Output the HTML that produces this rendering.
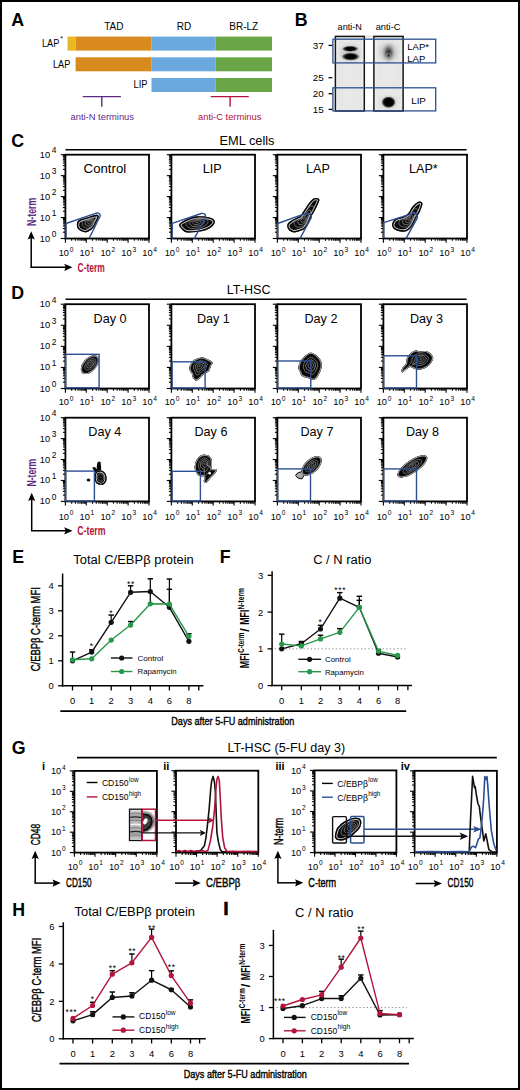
<!DOCTYPE html>
<html><head><meta charset="utf-8"><style>html,body{margin:0;padding:0;background:#fff;width:520px;height:1090px;overflow:hidden}
svg text{font-family:"Liberation Sans", sans-serif}</style></head><body>
<svg width="520" height="1090" viewBox="0 0 520 1090" style="position:absolute;left:0;top:0;font-family:'Liberation Sans', sans-serif">
<rect x="0" y="0" width="520" height="1090" fill="#fff"/>
<text x="11.2" y="25.8" font-size="17.8" text-anchor="start" fill="#000" font-weight="bold" >A</text>
<text x="113.8" y="30" font-size="10" text-anchor="middle" fill="#000" font-weight="normal" >TAD</text>
<text x="183.9" y="29.6" font-size="10" text-anchor="middle" fill="#000" font-weight="normal" >RD</text>
<text x="243.7" y="29.6" font-size="10" text-anchor="middle" fill="#000" font-weight="normal" >BR-LZ</text>
<rect x="67.50" y="36.60" width="8.30" height="14.00" fill="#e8b722" stroke="none" stroke-width="1" />
<rect x="75.80" y="36.60" width="75.50" height="14.00" fill="#d98a1f" stroke="none" stroke-width="1" />
<rect x="151.30" y="36.60" width="64.40" height="14.00" fill="#6aa8dd" stroke="none" stroke-width="1" />
<rect x="215.70" y="36.60" width="56.30" height="14.00" fill="#69a545" stroke="none" stroke-width="1" />
<rect x="75.60" y="57.30" width="75.70" height="14.00" fill="#d98a1f" stroke="none" stroke-width="1" />
<rect x="151.30" y="57.30" width="64.40" height="14.00" fill="#6aa8dd" stroke="none" stroke-width="1" />
<rect x="215.70" y="57.30" width="56.30" height="14.00" fill="#69a545" stroke="none" stroke-width="1" />
<rect x="151.50" y="78.00" width="64.20" height="14.00" fill="#6aa8dd" stroke="none" stroke-width="1" />
<rect x="215.70" y="78.00" width="56.30" height="14.00" fill="#69a545" stroke="none" stroke-width="1" />
<text x="42" y="46.8" font-size="10" text-anchor="start" fill="#000" font-weight="normal" textLength="17.3" lengthAdjust="spacingAndGlyphs" >LAP</text>
<text x="60.3" y="40.5" font-size="7" text-anchor="start" fill="#000" font-weight="normal" >*</text>
<text x="53" y="67.6" font-size="10" text-anchor="start" fill="#000" font-weight="normal" textLength="17.3" lengthAdjust="spacingAndGlyphs" >LAP</text>
<text x="133.6" y="87.8" font-size="10" text-anchor="start" fill="#000" font-weight="normal" textLength="14" lengthAdjust="spacingAndGlyphs" >LIP</text>
<line x1="82.80" y1="96.60" x2="120.90" y2="96.60" stroke="#5e2a84" stroke-width="1.4" />
<line x1="101.80" y1="96.60" x2="101.80" y2="106.70" stroke="#5e2a84" stroke-width="1.4" />
<text x="70.5" y="120" font-size="9.5" text-anchor="start" fill="#5e2a84" font-weight="normal" textLength="63.5" lengthAdjust="spacingAndGlyphs" >anti-N terminus</text>
<line x1="210.70" y1="96.60" x2="248.80" y2="96.60" stroke="#b3143c" stroke-width="1.4" />
<line x1="230.10" y1="96.60" x2="230.10" y2="106.70" stroke="#b3143c" stroke-width="1.4" />
<text x="198" y="120.4" font-size="9.5" text-anchor="start" fill="#b3143c" font-weight="normal" textLength="63.4" lengthAdjust="spacingAndGlyphs" >anti-C terminus</text>
<text x="294.7" y="26.2" font-size="17.8" text-anchor="start" fill="#000" font-weight="bold" >B</text>
<text x="337.6" y="30.3" font-size="9.2" text-anchor="start" fill="#000" font-weight="normal" textLength="24.3" lengthAdjust="spacingAndGlyphs" >anti-N</text>
<text x="375.7" y="30.3" font-size="9.2" text-anchor="start" fill="#000" font-weight="normal" textLength="24.8" lengthAdjust="spacingAndGlyphs" >anti-C</text>
<defs><linearGradient id="lane" x1="0" y1="0" x2="1" y2="0"><stop offset="0" stop-color="#f2f2f2"/><stop offset="0.12" stop-color="#e6e6e6"/><stop offset="0.5" stop-color="#e9e9e9"/><stop offset="0.88" stop-color="#e6e6e6"/><stop offset="1" stop-color="#f2f2f2"/></linearGradient><radialGradient id="band"><stop offset="0" stop-color="#000"/><stop offset="0.55" stop-color="#050505"/><stop offset="0.8" stop-color="#555" stop-opacity="0.7"/><stop offset="1" stop-color="#bbb" stop-opacity="0"/></radialGradient><radialGradient id="smear"><stop offset="0" stop-color="#1a1a1a"/><stop offset="0.35" stop-color="#555" stop-opacity="0.9"/><stop offset="0.7" stop-color="#999" stop-opacity="0.5"/><stop offset="1" stop-color="#ccc" stop-opacity="0"/></radialGradient></defs>
<rect x="364.60" y="35.40" width="9.30" height="2.20" fill="#e8e4d8" stroke="none" stroke-width="1" />
<rect x="335.40" y="36.40" width="28.90" height="74.60" fill="url(#lane)" stroke="#151515" stroke-width="1.5" />
<rect x="373.90" y="36.40" width="29.20" height="74.60" fill="url(#lane)" stroke="#151515" stroke-width="1.5" />
<defs><radialGradient id="halo"><stop offset="0" stop-color="#888" stop-opacity="0.55"/><stop offset="0.6" stop-color="#aaa" stop-opacity="0.35"/><stop offset="1" stop-color="#ccc" stop-opacity="0"/></radialGradient><radialGradient id="band2"><stop offset="0" stop-color="#000"/><stop offset="0.65" stop-color="#050505"/><stop offset="0.85" stop-color="#444" stop-opacity="0.8"/><stop offset="1" stop-color="#aaa" stop-opacity="0"/></radialGradient></defs>
<ellipse cx="350.2" cy="53" rx="13.5" ry="12" fill="url(#halo)"/>
<ellipse cx="350.2" cy="48.8" rx="8.8" ry="3.2" fill="url(#band)"/>
<ellipse cx="350.6" cy="56.6" rx="9.8" ry="4.3" fill="url(#band)"/>
<ellipse cx="388.6" cy="52" rx="13" ry="13" fill="url(#halo)"/>
<ellipse cx="388.6" cy="52.5" rx="7.5" ry="10.5" fill="url(#smear)"/>
<ellipse cx="388.6" cy="55.5" rx="3" ry="3.5" fill="url(#smear)"/>
<ellipse cx="388.6" cy="102.2" rx="11" ry="9" fill="url(#halo)"/>
<ellipse cx="388.6" cy="102.2" rx="7.2" ry="6.0" fill="url(#band2)"/>
<rect x="332.90" y="39.20" width="102.80" height="23.70" fill="none" stroke="#2c4f93" stroke-width="1.3" />
<rect x="332.90" y="87.80" width="102.80" height="23.10" fill="none" stroke="#2c4f93" stroke-width="1.3" />
<text x="323.6" y="48.9" font-size="9.8" text-anchor="end" fill="#000" font-weight="normal" >37</text>
<line x1="328.60" y1="45.40" x2="332.30" y2="45.40" stroke="#000" stroke-width="1.3" />
<text x="323.6" y="81.2" font-size="9.8" text-anchor="end" fill="#000" font-weight="normal" >25</text>
<line x1="328.60" y1="77.70" x2="332.30" y2="77.70" stroke="#000" stroke-width="1.3" />
<text x="323.6" y="97.2" font-size="9.8" text-anchor="end" fill="#000" font-weight="normal" >20</text>
<line x1="328.60" y1="93.70" x2="332.30" y2="93.70" stroke="#000" stroke-width="1.3" />
<text x="323.6" y="112.9" font-size="9.8" text-anchor="end" fill="#000" font-weight="normal" >15</text>
<line x1="328.60" y1="109.40" x2="332.30" y2="109.40" stroke="#000" stroke-width="1.3" />
<text x="407.3" y="49.6" font-size="9.5" text-anchor="start" fill="#000" font-weight="normal" >LAP*</text>
<text x="407.3" y="61.5" font-size="9.5" text-anchor="start" fill="#000" font-weight="normal" >LAP</text>
<text x="411.2" y="103.5" font-size="9.8" text-anchor="start" fill="#000" font-weight="normal" >LIP</text>
<text x="11.2" y="146.5" font-size="17.8" text-anchor="start" fill="#000" font-weight="bold" >C</text>
<text x="219.5" y="145" font-size="12.3" text-anchor="start" fill="#000" font-weight="normal" textLength="55" lengthAdjust="spacingAndGlyphs" >EML cells</text>
<line x1="65.50" y1="149.70" x2="466.60" y2="149.70" stroke="#000" stroke-width="1.6" />
<line x1="65.40" y1="238.50" x2="65.40" y2="242.70" stroke="#000" stroke-width="1.1" />
<line x1="71.69" y1="238.50" x2="71.69" y2="240.80" stroke="#000" stroke-width="1.1" />
<line x1="75.37" y1="238.50" x2="75.37" y2="240.80" stroke="#000" stroke-width="1.1" />
<line x1="77.98" y1="238.50" x2="77.98" y2="240.80" stroke="#000" stroke-width="1.1" />
<line x1="80.01" y1="238.50" x2="80.01" y2="240.80" stroke="#000" stroke-width="1.1" />
<line x1="81.66" y1="238.50" x2="81.66" y2="240.80" stroke="#000" stroke-width="1.1" />
<line x1="83.06" y1="238.50" x2="83.06" y2="240.80" stroke="#000" stroke-width="1.1" />
<line x1="84.27" y1="238.50" x2="84.27" y2="240.80" stroke="#000" stroke-width="1.1" />
<line x1="85.34" y1="238.50" x2="85.34" y2="240.80" stroke="#000" stroke-width="1.1" />
<line x1="86.30" y1="238.50" x2="86.30" y2="242.70" stroke="#000" stroke-width="1.1" />
<line x1="92.59" y1="238.50" x2="92.59" y2="240.80" stroke="#000" stroke-width="1.1" />
<line x1="96.27" y1="238.50" x2="96.27" y2="240.80" stroke="#000" stroke-width="1.1" />
<line x1="98.88" y1="238.50" x2="98.88" y2="240.80" stroke="#000" stroke-width="1.1" />
<line x1="100.91" y1="238.50" x2="100.91" y2="240.80" stroke="#000" stroke-width="1.1" />
<line x1="102.56" y1="238.50" x2="102.56" y2="240.80" stroke="#000" stroke-width="1.1" />
<line x1="103.96" y1="238.50" x2="103.96" y2="240.80" stroke="#000" stroke-width="1.1" />
<line x1="105.17" y1="238.50" x2="105.17" y2="240.80" stroke="#000" stroke-width="1.1" />
<line x1="106.24" y1="238.50" x2="106.24" y2="240.80" stroke="#000" stroke-width="1.1" />
<line x1="107.20" y1="238.50" x2="107.20" y2="242.70" stroke="#000" stroke-width="1.1" />
<line x1="113.49" y1="238.50" x2="113.49" y2="240.80" stroke="#000" stroke-width="1.1" />
<line x1="117.17" y1="238.50" x2="117.17" y2="240.80" stroke="#000" stroke-width="1.1" />
<line x1="119.78" y1="238.50" x2="119.78" y2="240.80" stroke="#000" stroke-width="1.1" />
<line x1="121.81" y1="238.50" x2="121.81" y2="240.80" stroke="#000" stroke-width="1.1" />
<line x1="123.46" y1="238.50" x2="123.46" y2="240.80" stroke="#000" stroke-width="1.1" />
<line x1="124.86" y1="238.50" x2="124.86" y2="240.80" stroke="#000" stroke-width="1.1" />
<line x1="126.07" y1="238.50" x2="126.07" y2="240.80" stroke="#000" stroke-width="1.1" />
<line x1="127.14" y1="238.50" x2="127.14" y2="240.80" stroke="#000" stroke-width="1.1" />
<line x1="128.10" y1="238.50" x2="128.10" y2="242.70" stroke="#000" stroke-width="1.1" />
<line x1="134.39" y1="238.50" x2="134.39" y2="240.80" stroke="#000" stroke-width="1.1" />
<line x1="138.07" y1="238.50" x2="138.07" y2="240.80" stroke="#000" stroke-width="1.1" />
<line x1="140.68" y1="238.50" x2="140.68" y2="240.80" stroke="#000" stroke-width="1.1" />
<line x1="142.71" y1="238.50" x2="142.71" y2="240.80" stroke="#000" stroke-width="1.1" />
<line x1="144.36" y1="238.50" x2="144.36" y2="240.80" stroke="#000" stroke-width="1.1" />
<line x1="145.76" y1="238.50" x2="145.76" y2="240.80" stroke="#000" stroke-width="1.1" />
<line x1="146.97" y1="238.50" x2="146.97" y2="240.80" stroke="#000" stroke-width="1.1" />
<line x1="148.04" y1="238.50" x2="148.04" y2="240.80" stroke="#000" stroke-width="1.1" />
<line x1="149.00" y1="238.50" x2="149.00" y2="242.70" stroke="#000" stroke-width="1.1" />
<text x="58.64" y="256.30" font-size="9.3" fill="#000">10<tspan dx="0.7" dy="-4.6" font-size="6.6">0</tspan></text>
<text x="79.54" y="256.30" font-size="9.3" fill="#000">10<tspan dx="0.7" dy="-4.6" font-size="6.6">1</tspan></text>
<text x="100.44" y="256.30" font-size="9.3" fill="#000">10<tspan dx="0.7" dy="-4.6" font-size="6.6">2</tspan></text>
<text x="121.34" y="256.30" font-size="9.3" fill="#000">10<tspan dx="0.7" dy="-4.6" font-size="6.6">3</tspan></text>
<text x="142.24" y="256.30" font-size="9.3" fill="#000">10<tspan dx="0.7" dy="-4.6" font-size="6.6">4</tspan></text>
<line x1="65.40" y1="238.50" x2="60.80" y2="238.50" stroke="#000" stroke-width="1.1" />
<line x1="65.40" y1="232.19" x2="62.90" y2="232.19" stroke="#000" stroke-width="1.1" />
<line x1="65.40" y1="228.50" x2="62.90" y2="228.50" stroke="#000" stroke-width="1.1" />
<line x1="65.40" y1="225.89" x2="62.90" y2="225.89" stroke="#000" stroke-width="1.1" />
<line x1="65.40" y1="223.86" x2="62.90" y2="223.86" stroke="#000" stroke-width="1.1" />
<line x1="65.40" y1="222.20" x2="62.90" y2="222.20" stroke="#000" stroke-width="1.1" />
<line x1="65.40" y1="220.80" x2="62.90" y2="220.80" stroke="#000" stroke-width="1.1" />
<line x1="65.40" y1="219.58" x2="62.90" y2="219.58" stroke="#000" stroke-width="1.1" />
<line x1="65.40" y1="218.51" x2="62.90" y2="218.51" stroke="#000" stroke-width="1.1" />
<line x1="65.40" y1="217.55" x2="60.80" y2="217.55" stroke="#000" stroke-width="1.1" />
<line x1="65.40" y1="211.24" x2="62.90" y2="211.24" stroke="#000" stroke-width="1.1" />
<line x1="65.40" y1="207.55" x2="62.90" y2="207.55" stroke="#000" stroke-width="1.1" />
<line x1="65.40" y1="204.94" x2="62.90" y2="204.94" stroke="#000" stroke-width="1.1" />
<line x1="65.40" y1="202.91" x2="62.90" y2="202.91" stroke="#000" stroke-width="1.1" />
<line x1="65.40" y1="201.25" x2="62.90" y2="201.25" stroke="#000" stroke-width="1.1" />
<line x1="65.40" y1="199.85" x2="62.90" y2="199.85" stroke="#000" stroke-width="1.1" />
<line x1="65.40" y1="198.63" x2="62.90" y2="198.63" stroke="#000" stroke-width="1.1" />
<line x1="65.40" y1="197.56" x2="62.90" y2="197.56" stroke="#000" stroke-width="1.1" />
<line x1="65.40" y1="196.60" x2="60.80" y2="196.60" stroke="#000" stroke-width="1.1" />
<line x1="65.40" y1="190.29" x2="62.90" y2="190.29" stroke="#000" stroke-width="1.1" />
<line x1="65.40" y1="186.60" x2="62.90" y2="186.60" stroke="#000" stroke-width="1.1" />
<line x1="65.40" y1="183.99" x2="62.90" y2="183.99" stroke="#000" stroke-width="1.1" />
<line x1="65.40" y1="181.96" x2="62.90" y2="181.96" stroke="#000" stroke-width="1.1" />
<line x1="65.40" y1="180.30" x2="62.90" y2="180.30" stroke="#000" stroke-width="1.1" />
<line x1="65.40" y1="178.90" x2="62.90" y2="178.90" stroke="#000" stroke-width="1.1" />
<line x1="65.40" y1="177.68" x2="62.90" y2="177.68" stroke="#000" stroke-width="1.1" />
<line x1="65.40" y1="176.61" x2="62.90" y2="176.61" stroke="#000" stroke-width="1.1" />
<line x1="65.40" y1="175.65" x2="60.80" y2="175.65" stroke="#000" stroke-width="1.1" />
<line x1="65.40" y1="169.34" x2="62.90" y2="169.34" stroke="#000" stroke-width="1.1" />
<line x1="65.40" y1="165.65" x2="62.90" y2="165.65" stroke="#000" stroke-width="1.1" />
<line x1="65.40" y1="163.04" x2="62.90" y2="163.04" stroke="#000" stroke-width="1.1" />
<line x1="65.40" y1="161.01" x2="62.90" y2="161.01" stroke="#000" stroke-width="1.1" />
<line x1="65.40" y1="159.35" x2="62.90" y2="159.35" stroke="#000" stroke-width="1.1" />
<line x1="65.40" y1="157.95" x2="62.90" y2="157.95" stroke="#000" stroke-width="1.1" />
<line x1="65.40" y1="156.73" x2="62.90" y2="156.73" stroke="#000" stroke-width="1.1" />
<line x1="65.40" y1="155.66" x2="62.90" y2="155.66" stroke="#000" stroke-width="1.1" />
<line x1="65.40" y1="154.70" x2="60.80" y2="154.70" stroke="#000" stroke-width="1.1" />
<text x="39.79" y="241.50" font-size="9.3" fill="#000">10<tspan dx="1.5" dy="-4.4" font-size="8.4">0</tspan></text>
<text x="39.79" y="220.55" font-size="9.3" fill="#000">10<tspan dx="1.5" dy="-4.4" font-size="8.4">1</tspan></text>
<text x="39.79" y="199.60" font-size="9.3" fill="#000">10<tspan dx="1.5" dy="-4.4" font-size="8.4">2</tspan></text>
<text x="39.79" y="178.65" font-size="9.3" fill="#000">10<tspan dx="1.5" dy="-4.4" font-size="8.4">3</tspan></text>
<text x="39.79" y="157.70" font-size="9.3" fill="#000">10<tspan dx="1.5" dy="-4.4" font-size="8.4">4</tspan></text>
<rect x="65.40" y="154.70" width="83.60" height="83.80" fill="none" stroke="#000" stroke-width="1.8" />
<text x="83.6" y="172.7" font-size="12.6" text-anchor="start" fill="#000" font-weight="normal" textLength="42.6" lengthAdjust="spacingAndGlyphs" >Control</text>
<line x1="171.40" y1="238.50" x2="171.40" y2="242.70" stroke="#000" stroke-width="1.1" />
<line x1="177.69" y1="238.50" x2="177.69" y2="240.80" stroke="#000" stroke-width="1.1" />
<line x1="181.37" y1="238.50" x2="181.37" y2="240.80" stroke="#000" stroke-width="1.1" />
<line x1="183.98" y1="238.50" x2="183.98" y2="240.80" stroke="#000" stroke-width="1.1" />
<line x1="186.01" y1="238.50" x2="186.01" y2="240.80" stroke="#000" stroke-width="1.1" />
<line x1="187.66" y1="238.50" x2="187.66" y2="240.80" stroke="#000" stroke-width="1.1" />
<line x1="189.06" y1="238.50" x2="189.06" y2="240.80" stroke="#000" stroke-width="1.1" />
<line x1="190.27" y1="238.50" x2="190.27" y2="240.80" stroke="#000" stroke-width="1.1" />
<line x1="191.34" y1="238.50" x2="191.34" y2="240.80" stroke="#000" stroke-width="1.1" />
<line x1="192.30" y1="238.50" x2="192.30" y2="242.70" stroke="#000" stroke-width="1.1" />
<line x1="198.59" y1="238.50" x2="198.59" y2="240.80" stroke="#000" stroke-width="1.1" />
<line x1="202.27" y1="238.50" x2="202.27" y2="240.80" stroke="#000" stroke-width="1.1" />
<line x1="204.88" y1="238.50" x2="204.88" y2="240.80" stroke="#000" stroke-width="1.1" />
<line x1="206.91" y1="238.50" x2="206.91" y2="240.80" stroke="#000" stroke-width="1.1" />
<line x1="208.56" y1="238.50" x2="208.56" y2="240.80" stroke="#000" stroke-width="1.1" />
<line x1="209.96" y1="238.50" x2="209.96" y2="240.80" stroke="#000" stroke-width="1.1" />
<line x1="211.17" y1="238.50" x2="211.17" y2="240.80" stroke="#000" stroke-width="1.1" />
<line x1="212.24" y1="238.50" x2="212.24" y2="240.80" stroke="#000" stroke-width="1.1" />
<line x1="213.20" y1="238.50" x2="213.20" y2="242.70" stroke="#000" stroke-width="1.1" />
<line x1="219.49" y1="238.50" x2="219.49" y2="240.80" stroke="#000" stroke-width="1.1" />
<line x1="223.17" y1="238.50" x2="223.17" y2="240.80" stroke="#000" stroke-width="1.1" />
<line x1="225.78" y1="238.50" x2="225.78" y2="240.80" stroke="#000" stroke-width="1.1" />
<line x1="227.81" y1="238.50" x2="227.81" y2="240.80" stroke="#000" stroke-width="1.1" />
<line x1="229.46" y1="238.50" x2="229.46" y2="240.80" stroke="#000" stroke-width="1.1" />
<line x1="230.86" y1="238.50" x2="230.86" y2="240.80" stroke="#000" stroke-width="1.1" />
<line x1="232.07" y1="238.50" x2="232.07" y2="240.80" stroke="#000" stroke-width="1.1" />
<line x1="233.14" y1="238.50" x2="233.14" y2="240.80" stroke="#000" stroke-width="1.1" />
<line x1="234.10" y1="238.50" x2="234.10" y2="242.70" stroke="#000" stroke-width="1.1" />
<line x1="240.39" y1="238.50" x2="240.39" y2="240.80" stroke="#000" stroke-width="1.1" />
<line x1="244.07" y1="238.50" x2="244.07" y2="240.80" stroke="#000" stroke-width="1.1" />
<line x1="246.68" y1="238.50" x2="246.68" y2="240.80" stroke="#000" stroke-width="1.1" />
<line x1="248.71" y1="238.50" x2="248.71" y2="240.80" stroke="#000" stroke-width="1.1" />
<line x1="250.36" y1="238.50" x2="250.36" y2="240.80" stroke="#000" stroke-width="1.1" />
<line x1="251.76" y1="238.50" x2="251.76" y2="240.80" stroke="#000" stroke-width="1.1" />
<line x1="252.97" y1="238.50" x2="252.97" y2="240.80" stroke="#000" stroke-width="1.1" />
<line x1="254.04" y1="238.50" x2="254.04" y2="240.80" stroke="#000" stroke-width="1.1" />
<line x1="255.00" y1="238.50" x2="255.00" y2="242.70" stroke="#000" stroke-width="1.1" />
<text x="164.64" y="256.30" font-size="9.3" fill="#000">10<tspan dx="0.7" dy="-4.6" font-size="6.6">0</tspan></text>
<text x="185.54" y="256.30" font-size="9.3" fill="#000">10<tspan dx="0.7" dy="-4.6" font-size="6.6">1</tspan></text>
<text x="206.44" y="256.30" font-size="9.3" fill="#000">10<tspan dx="0.7" dy="-4.6" font-size="6.6">2</tspan></text>
<text x="227.34" y="256.30" font-size="9.3" fill="#000">10<tspan dx="0.7" dy="-4.6" font-size="6.6">3</tspan></text>
<text x="248.24" y="256.30" font-size="9.3" fill="#000">10<tspan dx="0.7" dy="-4.6" font-size="6.6">4</tspan></text>
<line x1="171.40" y1="238.50" x2="166.80" y2="238.50" stroke="#000" stroke-width="1.1" />
<line x1="171.40" y1="232.19" x2="168.90" y2="232.19" stroke="#000" stroke-width="1.1" />
<line x1="171.40" y1="228.50" x2="168.90" y2="228.50" stroke="#000" stroke-width="1.1" />
<line x1="171.40" y1="225.89" x2="168.90" y2="225.89" stroke="#000" stroke-width="1.1" />
<line x1="171.40" y1="223.86" x2="168.90" y2="223.86" stroke="#000" stroke-width="1.1" />
<line x1="171.40" y1="222.20" x2="168.90" y2="222.20" stroke="#000" stroke-width="1.1" />
<line x1="171.40" y1="220.80" x2="168.90" y2="220.80" stroke="#000" stroke-width="1.1" />
<line x1="171.40" y1="219.58" x2="168.90" y2="219.58" stroke="#000" stroke-width="1.1" />
<line x1="171.40" y1="218.51" x2="168.90" y2="218.51" stroke="#000" stroke-width="1.1" />
<line x1="171.40" y1="217.55" x2="166.80" y2="217.55" stroke="#000" stroke-width="1.1" />
<line x1="171.40" y1="211.24" x2="168.90" y2="211.24" stroke="#000" stroke-width="1.1" />
<line x1="171.40" y1="207.55" x2="168.90" y2="207.55" stroke="#000" stroke-width="1.1" />
<line x1="171.40" y1="204.94" x2="168.90" y2="204.94" stroke="#000" stroke-width="1.1" />
<line x1="171.40" y1="202.91" x2="168.90" y2="202.91" stroke="#000" stroke-width="1.1" />
<line x1="171.40" y1="201.25" x2="168.90" y2="201.25" stroke="#000" stroke-width="1.1" />
<line x1="171.40" y1="199.85" x2="168.90" y2="199.85" stroke="#000" stroke-width="1.1" />
<line x1="171.40" y1="198.63" x2="168.90" y2="198.63" stroke="#000" stroke-width="1.1" />
<line x1="171.40" y1="197.56" x2="168.90" y2="197.56" stroke="#000" stroke-width="1.1" />
<line x1="171.40" y1="196.60" x2="166.80" y2="196.60" stroke="#000" stroke-width="1.1" />
<line x1="171.40" y1="190.29" x2="168.90" y2="190.29" stroke="#000" stroke-width="1.1" />
<line x1="171.40" y1="186.60" x2="168.90" y2="186.60" stroke="#000" stroke-width="1.1" />
<line x1="171.40" y1="183.99" x2="168.90" y2="183.99" stroke="#000" stroke-width="1.1" />
<line x1="171.40" y1="181.96" x2="168.90" y2="181.96" stroke="#000" stroke-width="1.1" />
<line x1="171.40" y1="180.30" x2="168.90" y2="180.30" stroke="#000" stroke-width="1.1" />
<line x1="171.40" y1="178.90" x2="168.90" y2="178.90" stroke="#000" stroke-width="1.1" />
<line x1="171.40" y1="177.68" x2="168.90" y2="177.68" stroke="#000" stroke-width="1.1" />
<line x1="171.40" y1="176.61" x2="168.90" y2="176.61" stroke="#000" stroke-width="1.1" />
<line x1="171.40" y1="175.65" x2="166.80" y2="175.65" stroke="#000" stroke-width="1.1" />
<line x1="171.40" y1="169.34" x2="168.90" y2="169.34" stroke="#000" stroke-width="1.1" />
<line x1="171.40" y1="165.65" x2="168.90" y2="165.65" stroke="#000" stroke-width="1.1" />
<line x1="171.40" y1="163.04" x2="168.90" y2="163.04" stroke="#000" stroke-width="1.1" />
<line x1="171.40" y1="161.01" x2="168.90" y2="161.01" stroke="#000" stroke-width="1.1" />
<line x1="171.40" y1="159.35" x2="168.90" y2="159.35" stroke="#000" stroke-width="1.1" />
<line x1="171.40" y1="157.95" x2="168.90" y2="157.95" stroke="#000" stroke-width="1.1" />
<line x1="171.40" y1="156.73" x2="168.90" y2="156.73" stroke="#000" stroke-width="1.1" />
<line x1="171.40" y1="155.66" x2="168.90" y2="155.66" stroke="#000" stroke-width="1.1" />
<line x1="171.40" y1="154.70" x2="166.80" y2="154.70" stroke="#000" stroke-width="1.1" />
<rect x="171.40" y="154.70" width="83.60" height="83.80" fill="none" stroke="#000" stroke-width="1.8" />
<text x="202.8" y="172.7" font-size="12.6" text-anchor="start" fill="#000" font-weight="normal" >LIP</text>
<line x1="277.40" y1="238.50" x2="277.40" y2="242.70" stroke="#000" stroke-width="1.1" />
<line x1="283.69" y1="238.50" x2="283.69" y2="240.80" stroke="#000" stroke-width="1.1" />
<line x1="287.37" y1="238.50" x2="287.37" y2="240.80" stroke="#000" stroke-width="1.1" />
<line x1="289.98" y1="238.50" x2="289.98" y2="240.80" stroke="#000" stroke-width="1.1" />
<line x1="292.01" y1="238.50" x2="292.01" y2="240.80" stroke="#000" stroke-width="1.1" />
<line x1="293.66" y1="238.50" x2="293.66" y2="240.80" stroke="#000" stroke-width="1.1" />
<line x1="295.06" y1="238.50" x2="295.06" y2="240.80" stroke="#000" stroke-width="1.1" />
<line x1="296.27" y1="238.50" x2="296.27" y2="240.80" stroke="#000" stroke-width="1.1" />
<line x1="297.34" y1="238.50" x2="297.34" y2="240.80" stroke="#000" stroke-width="1.1" />
<line x1="298.30" y1="238.50" x2="298.30" y2="242.70" stroke="#000" stroke-width="1.1" />
<line x1="304.59" y1="238.50" x2="304.59" y2="240.80" stroke="#000" stroke-width="1.1" />
<line x1="308.27" y1="238.50" x2="308.27" y2="240.80" stroke="#000" stroke-width="1.1" />
<line x1="310.88" y1="238.50" x2="310.88" y2="240.80" stroke="#000" stroke-width="1.1" />
<line x1="312.91" y1="238.50" x2="312.91" y2="240.80" stroke="#000" stroke-width="1.1" />
<line x1="314.56" y1="238.50" x2="314.56" y2="240.80" stroke="#000" stroke-width="1.1" />
<line x1="315.96" y1="238.50" x2="315.96" y2="240.80" stroke="#000" stroke-width="1.1" />
<line x1="317.17" y1="238.50" x2="317.17" y2="240.80" stroke="#000" stroke-width="1.1" />
<line x1="318.24" y1="238.50" x2="318.24" y2="240.80" stroke="#000" stroke-width="1.1" />
<line x1="319.20" y1="238.50" x2="319.20" y2="242.70" stroke="#000" stroke-width="1.1" />
<line x1="325.49" y1="238.50" x2="325.49" y2="240.80" stroke="#000" stroke-width="1.1" />
<line x1="329.17" y1="238.50" x2="329.17" y2="240.80" stroke="#000" stroke-width="1.1" />
<line x1="331.78" y1="238.50" x2="331.78" y2="240.80" stroke="#000" stroke-width="1.1" />
<line x1="333.81" y1="238.50" x2="333.81" y2="240.80" stroke="#000" stroke-width="1.1" />
<line x1="335.46" y1="238.50" x2="335.46" y2="240.80" stroke="#000" stroke-width="1.1" />
<line x1="336.86" y1="238.50" x2="336.86" y2="240.80" stroke="#000" stroke-width="1.1" />
<line x1="338.07" y1="238.50" x2="338.07" y2="240.80" stroke="#000" stroke-width="1.1" />
<line x1="339.14" y1="238.50" x2="339.14" y2="240.80" stroke="#000" stroke-width="1.1" />
<line x1="340.10" y1="238.50" x2="340.10" y2="242.70" stroke="#000" stroke-width="1.1" />
<line x1="346.39" y1="238.50" x2="346.39" y2="240.80" stroke="#000" stroke-width="1.1" />
<line x1="350.07" y1="238.50" x2="350.07" y2="240.80" stroke="#000" stroke-width="1.1" />
<line x1="352.68" y1="238.50" x2="352.68" y2="240.80" stroke="#000" stroke-width="1.1" />
<line x1="354.71" y1="238.50" x2="354.71" y2="240.80" stroke="#000" stroke-width="1.1" />
<line x1="356.36" y1="238.50" x2="356.36" y2="240.80" stroke="#000" stroke-width="1.1" />
<line x1="357.76" y1="238.50" x2="357.76" y2="240.80" stroke="#000" stroke-width="1.1" />
<line x1="358.97" y1="238.50" x2="358.97" y2="240.80" stroke="#000" stroke-width="1.1" />
<line x1="360.04" y1="238.50" x2="360.04" y2="240.80" stroke="#000" stroke-width="1.1" />
<line x1="361.00" y1="238.50" x2="361.00" y2="242.70" stroke="#000" stroke-width="1.1" />
<text x="270.64" y="256.30" font-size="9.3" fill="#000">10<tspan dx="0.7" dy="-4.6" font-size="6.6">0</tspan></text>
<text x="291.54" y="256.30" font-size="9.3" fill="#000">10<tspan dx="0.7" dy="-4.6" font-size="6.6">1</tspan></text>
<text x="312.44" y="256.30" font-size="9.3" fill="#000">10<tspan dx="0.7" dy="-4.6" font-size="6.6">2</tspan></text>
<text x="333.34" y="256.30" font-size="9.3" fill="#000">10<tspan dx="0.7" dy="-4.6" font-size="6.6">3</tspan></text>
<text x="354.24" y="256.30" font-size="9.3" fill="#000">10<tspan dx="0.7" dy="-4.6" font-size="6.6">4</tspan></text>
<line x1="277.40" y1="238.50" x2="272.80" y2="238.50" stroke="#000" stroke-width="1.1" />
<line x1="277.40" y1="232.19" x2="274.90" y2="232.19" stroke="#000" stroke-width="1.1" />
<line x1="277.40" y1="228.50" x2="274.90" y2="228.50" stroke="#000" stroke-width="1.1" />
<line x1="277.40" y1="225.89" x2="274.90" y2="225.89" stroke="#000" stroke-width="1.1" />
<line x1="277.40" y1="223.86" x2="274.90" y2="223.86" stroke="#000" stroke-width="1.1" />
<line x1="277.40" y1="222.20" x2="274.90" y2="222.20" stroke="#000" stroke-width="1.1" />
<line x1="277.40" y1="220.80" x2="274.90" y2="220.80" stroke="#000" stroke-width="1.1" />
<line x1="277.40" y1="219.58" x2="274.90" y2="219.58" stroke="#000" stroke-width="1.1" />
<line x1="277.40" y1="218.51" x2="274.90" y2="218.51" stroke="#000" stroke-width="1.1" />
<line x1="277.40" y1="217.55" x2="272.80" y2="217.55" stroke="#000" stroke-width="1.1" />
<line x1="277.40" y1="211.24" x2="274.90" y2="211.24" stroke="#000" stroke-width="1.1" />
<line x1="277.40" y1="207.55" x2="274.90" y2="207.55" stroke="#000" stroke-width="1.1" />
<line x1="277.40" y1="204.94" x2="274.90" y2="204.94" stroke="#000" stroke-width="1.1" />
<line x1="277.40" y1="202.91" x2="274.90" y2="202.91" stroke="#000" stroke-width="1.1" />
<line x1="277.40" y1="201.25" x2="274.90" y2="201.25" stroke="#000" stroke-width="1.1" />
<line x1="277.40" y1="199.85" x2="274.90" y2="199.85" stroke="#000" stroke-width="1.1" />
<line x1="277.40" y1="198.63" x2="274.90" y2="198.63" stroke="#000" stroke-width="1.1" />
<line x1="277.40" y1="197.56" x2="274.90" y2="197.56" stroke="#000" stroke-width="1.1" />
<line x1="277.40" y1="196.60" x2="272.80" y2="196.60" stroke="#000" stroke-width="1.1" />
<line x1="277.40" y1="190.29" x2="274.90" y2="190.29" stroke="#000" stroke-width="1.1" />
<line x1="277.40" y1="186.60" x2="274.90" y2="186.60" stroke="#000" stroke-width="1.1" />
<line x1="277.40" y1="183.99" x2="274.90" y2="183.99" stroke="#000" stroke-width="1.1" />
<line x1="277.40" y1="181.96" x2="274.90" y2="181.96" stroke="#000" stroke-width="1.1" />
<line x1="277.40" y1="180.30" x2="274.90" y2="180.30" stroke="#000" stroke-width="1.1" />
<line x1="277.40" y1="178.90" x2="274.90" y2="178.90" stroke="#000" stroke-width="1.1" />
<line x1="277.40" y1="177.68" x2="274.90" y2="177.68" stroke="#000" stroke-width="1.1" />
<line x1="277.40" y1="176.61" x2="274.90" y2="176.61" stroke="#000" stroke-width="1.1" />
<line x1="277.40" y1="175.65" x2="272.80" y2="175.65" stroke="#000" stroke-width="1.1" />
<line x1="277.40" y1="169.34" x2="274.90" y2="169.34" stroke="#000" stroke-width="1.1" />
<line x1="277.40" y1="165.65" x2="274.90" y2="165.65" stroke="#000" stroke-width="1.1" />
<line x1="277.40" y1="163.04" x2="274.90" y2="163.04" stroke="#000" stroke-width="1.1" />
<line x1="277.40" y1="161.01" x2="274.90" y2="161.01" stroke="#000" stroke-width="1.1" />
<line x1="277.40" y1="159.35" x2="274.90" y2="159.35" stroke="#000" stroke-width="1.1" />
<line x1="277.40" y1="157.95" x2="274.90" y2="157.95" stroke="#000" stroke-width="1.1" />
<line x1="277.40" y1="156.73" x2="274.90" y2="156.73" stroke="#000" stroke-width="1.1" />
<line x1="277.40" y1="155.66" x2="274.90" y2="155.66" stroke="#000" stroke-width="1.1" />
<line x1="277.40" y1="154.70" x2="272.80" y2="154.70" stroke="#000" stroke-width="1.1" />
<rect x="277.40" y="154.70" width="83.60" height="83.80" fill="none" stroke="#000" stroke-width="1.8" />
<text x="306.0" y="172.7" font-size="12.6" text-anchor="start" fill="#000" font-weight="normal" >LAP</text>
<line x1="383.40" y1="238.50" x2="383.40" y2="242.70" stroke="#000" stroke-width="1.1" />
<line x1="389.69" y1="238.50" x2="389.69" y2="240.80" stroke="#000" stroke-width="1.1" />
<line x1="393.37" y1="238.50" x2="393.37" y2="240.80" stroke="#000" stroke-width="1.1" />
<line x1="395.98" y1="238.50" x2="395.98" y2="240.80" stroke="#000" stroke-width="1.1" />
<line x1="398.01" y1="238.50" x2="398.01" y2="240.80" stroke="#000" stroke-width="1.1" />
<line x1="399.66" y1="238.50" x2="399.66" y2="240.80" stroke="#000" stroke-width="1.1" />
<line x1="401.06" y1="238.50" x2="401.06" y2="240.80" stroke="#000" stroke-width="1.1" />
<line x1="402.27" y1="238.50" x2="402.27" y2="240.80" stroke="#000" stroke-width="1.1" />
<line x1="403.34" y1="238.50" x2="403.34" y2="240.80" stroke="#000" stroke-width="1.1" />
<line x1="404.30" y1="238.50" x2="404.30" y2="242.70" stroke="#000" stroke-width="1.1" />
<line x1="410.59" y1="238.50" x2="410.59" y2="240.80" stroke="#000" stroke-width="1.1" />
<line x1="414.27" y1="238.50" x2="414.27" y2="240.80" stroke="#000" stroke-width="1.1" />
<line x1="416.88" y1="238.50" x2="416.88" y2="240.80" stroke="#000" stroke-width="1.1" />
<line x1="418.91" y1="238.50" x2="418.91" y2="240.80" stroke="#000" stroke-width="1.1" />
<line x1="420.56" y1="238.50" x2="420.56" y2="240.80" stroke="#000" stroke-width="1.1" />
<line x1="421.96" y1="238.50" x2="421.96" y2="240.80" stroke="#000" stroke-width="1.1" />
<line x1="423.17" y1="238.50" x2="423.17" y2="240.80" stroke="#000" stroke-width="1.1" />
<line x1="424.24" y1="238.50" x2="424.24" y2="240.80" stroke="#000" stroke-width="1.1" />
<line x1="425.20" y1="238.50" x2="425.20" y2="242.70" stroke="#000" stroke-width="1.1" />
<line x1="431.49" y1="238.50" x2="431.49" y2="240.80" stroke="#000" stroke-width="1.1" />
<line x1="435.17" y1="238.50" x2="435.17" y2="240.80" stroke="#000" stroke-width="1.1" />
<line x1="437.78" y1="238.50" x2="437.78" y2="240.80" stroke="#000" stroke-width="1.1" />
<line x1="439.81" y1="238.50" x2="439.81" y2="240.80" stroke="#000" stroke-width="1.1" />
<line x1="441.46" y1="238.50" x2="441.46" y2="240.80" stroke="#000" stroke-width="1.1" />
<line x1="442.86" y1="238.50" x2="442.86" y2="240.80" stroke="#000" stroke-width="1.1" />
<line x1="444.07" y1="238.50" x2="444.07" y2="240.80" stroke="#000" stroke-width="1.1" />
<line x1="445.14" y1="238.50" x2="445.14" y2="240.80" stroke="#000" stroke-width="1.1" />
<line x1="446.10" y1="238.50" x2="446.10" y2="242.70" stroke="#000" stroke-width="1.1" />
<line x1="452.39" y1="238.50" x2="452.39" y2="240.80" stroke="#000" stroke-width="1.1" />
<line x1="456.07" y1="238.50" x2="456.07" y2="240.80" stroke="#000" stroke-width="1.1" />
<line x1="458.68" y1="238.50" x2="458.68" y2="240.80" stroke="#000" stroke-width="1.1" />
<line x1="460.71" y1="238.50" x2="460.71" y2="240.80" stroke="#000" stroke-width="1.1" />
<line x1="462.36" y1="238.50" x2="462.36" y2="240.80" stroke="#000" stroke-width="1.1" />
<line x1="463.76" y1="238.50" x2="463.76" y2="240.80" stroke="#000" stroke-width="1.1" />
<line x1="464.97" y1="238.50" x2="464.97" y2="240.80" stroke="#000" stroke-width="1.1" />
<line x1="466.04" y1="238.50" x2="466.04" y2="240.80" stroke="#000" stroke-width="1.1" />
<line x1="467.00" y1="238.50" x2="467.00" y2="242.70" stroke="#000" stroke-width="1.1" />
<text x="376.64" y="256.30" font-size="9.3" fill="#000">10<tspan dx="0.7" dy="-4.6" font-size="6.6">0</tspan></text>
<text x="397.54" y="256.30" font-size="9.3" fill="#000">10<tspan dx="0.7" dy="-4.6" font-size="6.6">1</tspan></text>
<text x="418.44" y="256.30" font-size="9.3" fill="#000">10<tspan dx="0.7" dy="-4.6" font-size="6.6">2</tspan></text>
<text x="439.34" y="256.30" font-size="9.3" fill="#000">10<tspan dx="0.7" dy="-4.6" font-size="6.6">3</tspan></text>
<text x="460.24" y="256.30" font-size="9.3" fill="#000">10<tspan dx="0.7" dy="-4.6" font-size="6.6">4</tspan></text>
<line x1="383.40" y1="238.50" x2="378.80" y2="238.50" stroke="#000" stroke-width="1.1" />
<line x1="383.40" y1="232.19" x2="380.90" y2="232.19" stroke="#000" stroke-width="1.1" />
<line x1="383.40" y1="228.50" x2="380.90" y2="228.50" stroke="#000" stroke-width="1.1" />
<line x1="383.40" y1="225.89" x2="380.90" y2="225.89" stroke="#000" stroke-width="1.1" />
<line x1="383.40" y1="223.86" x2="380.90" y2="223.86" stroke="#000" stroke-width="1.1" />
<line x1="383.40" y1="222.20" x2="380.90" y2="222.20" stroke="#000" stroke-width="1.1" />
<line x1="383.40" y1="220.80" x2="380.90" y2="220.80" stroke="#000" stroke-width="1.1" />
<line x1="383.40" y1="219.58" x2="380.90" y2="219.58" stroke="#000" stroke-width="1.1" />
<line x1="383.40" y1="218.51" x2="380.90" y2="218.51" stroke="#000" stroke-width="1.1" />
<line x1="383.40" y1="217.55" x2="378.80" y2="217.55" stroke="#000" stroke-width="1.1" />
<line x1="383.40" y1="211.24" x2="380.90" y2="211.24" stroke="#000" stroke-width="1.1" />
<line x1="383.40" y1="207.55" x2="380.90" y2="207.55" stroke="#000" stroke-width="1.1" />
<line x1="383.40" y1="204.94" x2="380.90" y2="204.94" stroke="#000" stroke-width="1.1" />
<line x1="383.40" y1="202.91" x2="380.90" y2="202.91" stroke="#000" stroke-width="1.1" />
<line x1="383.40" y1="201.25" x2="380.90" y2="201.25" stroke="#000" stroke-width="1.1" />
<line x1="383.40" y1="199.85" x2="380.90" y2="199.85" stroke="#000" stroke-width="1.1" />
<line x1="383.40" y1="198.63" x2="380.90" y2="198.63" stroke="#000" stroke-width="1.1" />
<line x1="383.40" y1="197.56" x2="380.90" y2="197.56" stroke="#000" stroke-width="1.1" />
<line x1="383.40" y1="196.60" x2="378.80" y2="196.60" stroke="#000" stroke-width="1.1" />
<line x1="383.40" y1="190.29" x2="380.90" y2="190.29" stroke="#000" stroke-width="1.1" />
<line x1="383.40" y1="186.60" x2="380.90" y2="186.60" stroke="#000" stroke-width="1.1" />
<line x1="383.40" y1="183.99" x2="380.90" y2="183.99" stroke="#000" stroke-width="1.1" />
<line x1="383.40" y1="181.96" x2="380.90" y2="181.96" stroke="#000" stroke-width="1.1" />
<line x1="383.40" y1="180.30" x2="380.90" y2="180.30" stroke="#000" stroke-width="1.1" />
<line x1="383.40" y1="178.90" x2="380.90" y2="178.90" stroke="#000" stroke-width="1.1" />
<line x1="383.40" y1="177.68" x2="380.90" y2="177.68" stroke="#000" stroke-width="1.1" />
<line x1="383.40" y1="176.61" x2="380.90" y2="176.61" stroke="#000" stroke-width="1.1" />
<line x1="383.40" y1="175.65" x2="378.80" y2="175.65" stroke="#000" stroke-width="1.1" />
<line x1="383.40" y1="169.34" x2="380.90" y2="169.34" stroke="#000" stroke-width="1.1" />
<line x1="383.40" y1="165.65" x2="380.90" y2="165.65" stroke="#000" stroke-width="1.1" />
<line x1="383.40" y1="163.04" x2="380.90" y2="163.04" stroke="#000" stroke-width="1.1" />
<line x1="383.40" y1="161.01" x2="380.90" y2="161.01" stroke="#000" stroke-width="1.1" />
<line x1="383.40" y1="159.35" x2="380.90" y2="159.35" stroke="#000" stroke-width="1.1" />
<line x1="383.40" y1="157.95" x2="380.90" y2="157.95" stroke="#000" stroke-width="1.1" />
<line x1="383.40" y1="156.73" x2="380.90" y2="156.73" stroke="#000" stroke-width="1.1" />
<line x1="383.40" y1="155.66" x2="380.90" y2="155.66" stroke="#000" stroke-width="1.1" />
<line x1="383.40" y1="154.70" x2="378.80" y2="154.70" stroke="#000" stroke-width="1.1" />
<rect x="383.40" y="154.70" width="83.60" height="83.80" fill="none" stroke="#000" stroke-width="1.8" />
<text x="409.0" y="172.7" font-size="12.6" text-anchor="start" fill="#000" font-weight="normal" >LAP*</text>
<clipPath id="cp1"><path d="M76.90,225.00 C76.90,223.45 77.12,221.55 78.80,220.30 C80.48,219.05 84.05,218.42 87.00,217.50 C89.95,216.58 94.53,214.92 96.50,214.80 C98.47,214.68 98.72,215.77 98.80,216.80 C98.88,217.83 97.77,219.38 97.00,221.00 C96.23,222.62 95.37,224.92 94.20,226.50 C93.03,228.08 91.53,229.53 90.00,230.50 C88.47,231.47 86.87,232.45 85.00,232.30 C83.13,232.15 80.15,230.82 78.80,229.60 C77.45,228.38 76.90,226.55 76.90,225.00Z"/></clipPath>
<g clip-path="url(#cp1)">
<path d="M76.90,225.00 C76.90,223.45 77.12,221.55 78.80,220.30 C80.48,219.05 84.05,218.42 87.00,217.50 C89.95,216.58 94.53,214.92 96.50,214.80 C98.47,214.68 98.72,215.77 98.80,216.80 C98.88,217.83 97.77,219.38 97.00,221.00 C96.23,222.62 95.37,224.92 94.20,226.50 C93.03,228.08 91.53,229.53 90.00,230.50 C88.47,231.47 86.87,232.45 85.00,232.30 C83.13,232.15 80.15,230.82 78.80,229.60 C77.45,228.38 76.90,226.55 76.90,225.00Z" fill="#0d0d0d"/>
<path d="M76.90,225.00 C76.90,223.45 77.12,221.55 78.80,220.30 C80.48,219.05 84.05,218.42 87.00,217.50 C89.95,216.58 94.53,214.92 96.50,214.80 C98.47,214.68 98.72,215.77 98.80,216.80 C98.88,217.83 97.77,219.38 97.00,221.00 C96.23,222.62 95.37,224.92 94.20,226.50 C93.03,228.08 91.53,229.53 90.00,230.50 C88.47,231.47 86.87,232.45 85.00,232.30 C83.13,232.15 80.15,230.82 78.80,229.60 C77.45,228.38 76.90,226.55 76.90,225.00Z" fill="none" stroke="#050505" stroke-width="7.0" stroke-linejoin="round"/>
<path d="M76.90,225.00 C76.90,223.45 77.12,221.55 78.80,220.30 C80.48,219.05 84.05,218.42 87.00,217.50 C89.95,216.58 94.53,214.92 96.50,214.80 C98.47,214.68 98.72,215.77 98.80,216.80 C98.88,217.83 97.77,219.38 97.00,221.00 C96.23,222.62 95.37,224.92 94.20,226.50 C93.03,228.08 91.53,229.53 90.00,230.50 C88.47,231.47 86.87,232.45 85.00,232.30 C83.13,232.15 80.15,230.82 78.80,229.60 C77.45,228.38 76.90,226.55 76.90,225.00Z" fill="none" stroke="#d0d0d0" stroke-width="4.6" stroke-linejoin="round"/>
<path d="M76.90,225.00 C76.90,223.45 77.12,221.55 78.80,220.30 C80.48,219.05 84.05,218.42 87.00,217.50 C89.95,216.58 94.53,214.92 96.50,214.80 C98.47,214.68 98.72,215.77 98.80,216.80 C98.88,217.83 97.77,219.38 97.00,221.00 C96.23,222.62 95.37,224.92 94.20,226.50 C93.03,228.08 91.53,229.53 90.00,230.50 C88.47,231.47 86.87,232.45 85.00,232.30 C83.13,232.15 80.15,230.82 78.80,229.60 C77.45,228.38 76.90,226.55 76.90,225.00Z" fill="none" stroke="#000" stroke-width="2.8" stroke-linejoin="round"/>
<path d="M82.26,223.67 C82.26,222.71 82.39,221.53 83.44,220.76 C84.48,219.98 86.69,219.59 88.52,219.02 C90.35,218.45 93.19,217.42 94.41,217.35 C95.63,217.27 95.78,217.95 95.84,218.59 C95.89,219.23 95.20,220.19 94.72,221.19 C94.24,222.19 93.71,223.62 92.98,224.60 C92.26,225.58 91.33,226.48 90.38,227.08 C89.43,227.68 88.44,228.29 87.28,228.20 C86.12,228.10 84.27,227.28 83.44,226.52 C82.60,225.77 82.26,224.63 82.26,223.67Z" fill="none" stroke="#9a9a9a" stroke-width="0.65"/>
<path d="M85.08,222.97 C85.08,222.32 85.17,221.52 85.88,221.00 C86.58,220.47 88.08,220.20 89.32,219.82 C90.56,219.44 92.48,218.74 93.31,218.69 C94.14,218.64 94.24,219.09 94.28,219.53 C94.31,219.96 93.84,220.61 93.52,221.29 C93.20,221.97 92.83,222.94 92.34,223.60 C91.85,224.26 91.22,224.87 90.58,225.28 C89.94,225.69 89.26,226.10 88.48,226.04 C87.70,225.97 86.44,225.41 85.88,224.90 C85.31,224.39 85.08,223.62 85.08,222.97Z" fill="none" stroke="#b0b0b0" stroke-width="0.65"/>
<path d="M87.62,222.34 C87.62,221.97 87.67,221.51 88.07,221.21 C88.48,220.91 89.33,220.76 90.04,220.54 C90.75,220.32 91.85,219.92 92.32,219.89 C92.79,219.86 92.85,220.12 92.87,220.37 C92.89,220.62 92.62,220.99 92.44,221.38 C92.26,221.77 92.05,222.32 91.77,222.70 C91.49,223.08 91.13,223.43 90.76,223.66 C90.39,223.89 90.01,224.13 89.56,224.09 C89.11,224.06 88.40,223.74 88.07,223.44 C87.75,223.15 87.62,222.71 87.62,222.34Z" fill="none" stroke="#9a9a9a" stroke-width="0.65"/>
<path d="M89.59,221.85 C89.59,221.69 89.61,221.50 89.78,221.38 C89.95,221.25 90.30,221.19 90.60,221.10 C90.89,221.01 91.35,220.84 91.55,220.83 C91.75,220.82 91.77,220.93 91.78,221.03 C91.79,221.13 91.68,221.29 91.60,221.45 C91.52,221.61 91.44,221.84 91.32,222.00 C91.20,222.16 91.05,222.30 90.90,222.40 C90.75,222.50 90.59,222.60 90.40,222.58 C90.21,222.56 89.92,222.43 89.78,222.31 C89.64,222.19 89.59,222.00 89.59,221.85Z" fill="#555"/>
</g>
<clipPath id="cp2"><path d="M179.20,224.70 C179.52,223.35 180.87,222.27 183.50,220.90 C186.13,219.53 190.67,217.07 195.00,216.50 C199.33,215.93 206.20,216.70 209.50,217.50 C212.80,218.30 214.48,219.70 214.80,221.30 C215.12,222.90 213.42,225.48 211.40,227.10 C209.38,228.72 206.72,230.12 202.70,231.00 C198.68,231.88 190.82,232.73 187.30,232.40 C183.78,232.07 182.95,230.28 181.60,229.00 C180.25,227.72 178.88,226.05 179.20,224.70Z"/></clipPath>
<g clip-path="url(#cp2)">
<path d="M179.20,224.70 C179.52,223.35 180.87,222.27 183.50,220.90 C186.13,219.53 190.67,217.07 195.00,216.50 C199.33,215.93 206.20,216.70 209.50,217.50 C212.80,218.30 214.48,219.70 214.80,221.30 C215.12,222.90 213.42,225.48 211.40,227.10 C209.38,228.72 206.72,230.12 202.70,231.00 C198.68,231.88 190.82,232.73 187.30,232.40 C183.78,232.07 182.95,230.28 181.60,229.00 C180.25,227.72 178.88,226.05 179.20,224.70Z" fill="#0d0d0d"/>
<path d="M179.20,224.70 C179.52,223.35 180.87,222.27 183.50,220.90 C186.13,219.53 190.67,217.07 195.00,216.50 C199.33,215.93 206.20,216.70 209.50,217.50 C212.80,218.30 214.48,219.70 214.80,221.30 C215.12,222.90 213.42,225.48 211.40,227.10 C209.38,228.72 206.72,230.12 202.70,231.00 C198.68,231.88 190.82,232.73 187.30,232.40 C183.78,232.07 182.95,230.28 181.60,229.00 C180.25,227.72 178.88,226.05 179.20,224.70Z" fill="none" stroke="#050505" stroke-width="7.0" stroke-linejoin="round"/>
<path d="M179.20,224.70 C179.52,223.35 180.87,222.27 183.50,220.90 C186.13,219.53 190.67,217.07 195.00,216.50 C199.33,215.93 206.20,216.70 209.50,217.50 C212.80,218.30 214.48,219.70 214.80,221.30 C215.12,222.90 213.42,225.48 211.40,227.10 C209.38,228.72 206.72,230.12 202.70,231.00 C198.68,231.88 190.82,232.73 187.30,232.40 C183.78,232.07 182.95,230.28 181.60,229.00 C180.25,227.72 178.88,226.05 179.20,224.70Z" fill="none" stroke="#d0d0d0" stroke-width="4.6" stroke-linejoin="round"/>
<path d="M179.20,224.70 C179.52,223.35 180.87,222.27 183.50,220.90 C186.13,219.53 190.67,217.07 195.00,216.50 C199.33,215.93 206.20,216.70 209.50,217.50 C212.80,218.30 214.48,219.70 214.80,221.30 C215.12,222.90 213.42,225.48 211.40,227.10 C209.38,228.72 206.72,230.12 202.70,231.00 C198.68,231.88 190.82,232.73 187.30,232.40 C183.78,232.07 182.95,230.28 181.60,229.00 C180.25,227.72 178.88,226.05 179.20,224.70Z" fill="none" stroke="#000" stroke-width="2.8" stroke-linejoin="round"/>
<path d="M185.96,223.67 C186.16,222.84 187.00,222.17 188.63,221.32 C190.26,220.47 193.07,218.94 195.76,218.59 C198.45,218.24 202.70,218.71 204.75,219.21 C206.80,219.71 207.84,220.57 208.04,221.57 C208.23,222.56 207.18,224.16 205.93,225.16 C204.68,226.16 203.02,227.03 200.53,227.58 C198.04,228.13 193.17,228.65 190.99,228.45 C188.81,228.24 188.29,227.14 187.45,226.34 C186.62,225.54 185.77,224.51 185.96,223.67Z" fill="none" stroke="#9a9a9a" stroke-width="0.65"/>
<path d="M189.52,223.13 C189.66,222.57 190.22,222.11 191.33,221.54 C192.44,220.96 194.34,219.93 196.16,219.69 C197.98,219.45 200.86,219.77 202.25,220.11 C203.64,220.45 204.34,221.03 204.48,221.71 C204.61,222.38 203.90,223.46 203.05,224.14 C202.20,224.82 201.08,225.41 199.39,225.78 C197.71,226.15 194.40,226.51 192.93,226.37 C191.45,226.23 191.10,225.48 190.53,224.94 C189.97,224.40 189.39,223.70 189.52,223.13Z" fill="none" stroke="#b0b0b0" stroke-width="0.65"/>
<path d="M192.73,222.65 C192.80,222.32 193.13,222.06 193.76,221.74 C194.39,221.41 195.48,220.82 196.52,220.68 C197.56,220.54 199.21,220.73 200.00,220.92 C200.79,221.11 201.20,221.45 201.27,221.83 C201.35,222.22 200.94,222.84 200.46,223.22 C199.97,223.61 199.33,223.95 198.37,224.16 C197.40,224.37 195.52,224.58 194.67,224.50 C193.83,224.42 193.63,223.99 193.30,223.68 C192.98,223.37 192.65,222.97 192.73,222.65Z" fill="none" stroke="#9a9a9a" stroke-width="0.65"/>
<path d="M195.22,222.27 C195.25,222.14 195.39,222.03 195.65,221.89 C195.91,221.75 196.37,221.51 196.80,221.45 C197.23,221.39 197.92,221.47 198.25,221.55 C198.58,221.63 198.75,221.77 198.78,221.93 C198.81,222.09 198.64,222.35 198.44,222.51 C198.24,222.67 197.97,222.81 197.57,222.90 C197.17,222.99 196.38,223.07 196.03,223.04 C195.68,223.01 195.59,222.83 195.46,222.70 C195.33,222.57 195.19,222.41 195.22,222.27Z" fill="#555"/>
</g>
<clipPath id="cp3"><path d="M287.40,224.60 C287.88,223.13 289.28,222.07 291.40,220.60 C293.52,219.13 298.17,217.22 300.10,215.80 C302.03,214.38 301.57,214.15 303.00,212.10 C304.43,210.05 306.95,205.77 308.70,203.50 C310.45,201.23 312.05,199.38 313.50,198.50 C314.95,197.62 316.43,197.85 317.40,198.20 C318.37,198.55 319.62,198.77 319.30,200.60 C318.98,202.43 316.78,206.63 315.50,209.20 C314.22,211.77 312.73,213.75 311.60,216.00 C310.47,218.25 309.82,220.62 308.70,222.70 C307.58,224.78 306.50,227.07 304.90,228.50 C303.30,229.93 301.03,230.67 299.10,231.30 C297.17,231.93 295.07,232.62 293.30,232.30 C291.53,231.98 289.48,230.68 288.50,229.40 C287.52,228.12 286.92,226.07 287.40,224.60Z"/></clipPath>
<g clip-path="url(#cp3)">
<path d="M287.40,224.60 C287.88,223.13 289.28,222.07 291.40,220.60 C293.52,219.13 298.17,217.22 300.10,215.80 C302.03,214.38 301.57,214.15 303.00,212.10 C304.43,210.05 306.95,205.77 308.70,203.50 C310.45,201.23 312.05,199.38 313.50,198.50 C314.95,197.62 316.43,197.85 317.40,198.20 C318.37,198.55 319.62,198.77 319.30,200.60 C318.98,202.43 316.78,206.63 315.50,209.20 C314.22,211.77 312.73,213.75 311.60,216.00 C310.47,218.25 309.82,220.62 308.70,222.70 C307.58,224.78 306.50,227.07 304.90,228.50 C303.30,229.93 301.03,230.67 299.10,231.30 C297.17,231.93 295.07,232.62 293.30,232.30 C291.53,231.98 289.48,230.68 288.50,229.40 C287.52,228.12 286.92,226.07 287.40,224.60Z" fill="#0d0d0d"/>
<path d="M287.40,224.60 C287.88,223.13 289.28,222.07 291.40,220.60 C293.52,219.13 298.17,217.22 300.10,215.80 C302.03,214.38 301.57,214.15 303.00,212.10 C304.43,210.05 306.95,205.77 308.70,203.50 C310.45,201.23 312.05,199.38 313.50,198.50 C314.95,197.62 316.43,197.85 317.40,198.20 C318.37,198.55 319.62,198.77 319.30,200.60 C318.98,202.43 316.78,206.63 315.50,209.20 C314.22,211.77 312.73,213.75 311.60,216.00 C310.47,218.25 309.82,220.62 308.70,222.70 C307.58,224.78 306.50,227.07 304.90,228.50 C303.30,229.93 301.03,230.67 299.10,231.30 C297.17,231.93 295.07,232.62 293.30,232.30 C291.53,231.98 289.48,230.68 288.50,229.40 C287.52,228.12 286.92,226.07 287.40,224.60Z" fill="none" stroke="#050505" stroke-width="7.0" stroke-linejoin="round"/>
<path d="M287.40,224.60 C287.88,223.13 289.28,222.07 291.40,220.60 C293.52,219.13 298.17,217.22 300.10,215.80 C302.03,214.38 301.57,214.15 303.00,212.10 C304.43,210.05 306.95,205.77 308.70,203.50 C310.45,201.23 312.05,199.38 313.50,198.50 C314.95,197.62 316.43,197.85 317.40,198.20 C318.37,198.55 319.62,198.77 319.30,200.60 C318.98,202.43 316.78,206.63 315.50,209.20 C314.22,211.77 312.73,213.75 311.60,216.00 C310.47,218.25 309.82,220.62 308.70,222.70 C307.58,224.78 306.50,227.07 304.90,228.50 C303.30,229.93 301.03,230.67 299.10,231.30 C297.17,231.93 295.07,232.62 293.30,232.30 C291.53,231.98 289.48,230.68 288.50,229.40 C287.52,228.12 286.92,226.07 287.40,224.60Z" fill="none" stroke="#d0d0d0" stroke-width="4.6" stroke-linejoin="round"/>
<path d="M287.40,224.60 C287.88,223.13 289.28,222.07 291.40,220.60 C293.52,219.13 298.17,217.22 300.10,215.80 C302.03,214.38 301.57,214.15 303.00,212.10 C304.43,210.05 306.95,205.77 308.70,203.50 C310.45,201.23 312.05,199.38 313.50,198.50 C314.95,197.62 316.43,197.85 317.40,198.20 C318.37,198.55 319.62,198.77 319.30,200.60 C318.98,202.43 316.78,206.63 315.50,209.20 C314.22,211.77 312.73,213.75 311.60,216.00 C310.47,218.25 309.82,220.62 308.70,222.70 C307.58,224.78 306.50,227.07 304.90,228.50 C303.30,229.93 301.03,230.67 299.10,231.30 C297.17,231.93 295.07,232.62 293.30,232.30 C291.53,231.98 289.48,230.68 288.50,229.40 C287.52,228.12 286.92,226.07 287.40,224.60Z" fill="none" stroke="#000" stroke-width="2.8" stroke-linejoin="round"/>
<path d="M294.09,222.47 C294.39,221.56 295.26,220.90 296.57,219.99 C297.88,219.08 300.76,217.89 301.96,217.02 C303.16,216.14 302.87,215.99 303.76,214.72 C304.65,213.45 306.21,210.80 307.29,209.39 C308.38,207.98 309.37,206.84 310.27,206.29 C311.17,205.74 312.09,205.89 312.69,206.10 C313.29,206.32 314.06,206.46 313.87,207.59 C313.67,208.73 312.31,211.33 311.51,212.92 C310.71,214.52 309.79,215.75 309.09,217.14 C308.39,218.53 307.99,220.00 307.29,221.29 C306.60,222.59 305.93,224.00 304.94,224.89 C303.95,225.78 302.54,226.23 301.34,226.63 C300.14,227.02 298.84,227.44 297.75,227.25 C296.65,227.05 295.38,226.24 294.77,225.45 C294.16,224.65 293.79,223.38 294.09,222.47Z" fill="none" stroke="#9a9a9a" stroke-width="0.65"/>
<path d="M297.61,221.35 C297.81,220.74 298.40,220.29 299.29,219.67 C300.18,219.06 302.13,218.25 302.94,217.66 C303.75,217.06 303.56,216.96 304.16,216.10 C304.76,215.24 305.82,213.44 306.55,212.49 C307.29,211.54 307.96,210.76 308.57,210.39 C309.18,210.02 309.80,210.12 310.21,210.26 C310.61,210.41 311.14,210.50 311.01,211.27 C310.87,212.04 309.95,213.81 309.41,214.88 C308.87,215.96 308.25,216.80 307.77,217.74 C307.30,218.69 307.02,219.68 306.55,220.55 C306.08,221.43 305.63,222.39 304.96,222.99 C304.29,223.59 303.33,223.90 302.52,224.17 C301.71,224.43 300.83,224.72 300.09,224.59 C299.34,224.45 298.48,223.91 298.07,223.37 C297.66,222.83 297.40,221.97 297.61,221.35Z" fill="none" stroke="#b0b0b0" stroke-width="0.65"/>
<path d="M300.78,220.34 C300.89,219.99 301.23,219.74 301.74,219.38 C302.24,219.03 303.36,218.57 303.82,218.23 C304.29,217.89 304.18,217.84 304.52,217.34 C304.86,216.85 305.47,215.82 305.89,215.28 C306.31,214.74 306.69,214.29 307.04,214.08 C307.39,213.87 307.74,213.92 307.98,214.01 C308.21,214.09 308.51,214.14 308.43,214.58 C308.36,215.02 307.83,216.03 307.52,216.65 C307.21,217.26 306.86,217.74 306.58,218.28 C306.31,218.82 306.16,219.39 305.89,219.89 C305.62,220.39 305.36,220.94 304.98,221.28 C304.59,221.62 304.05,221.80 303.58,221.95 C303.12,222.10 302.62,222.27 302.19,222.19 C301.77,222.12 301.28,221.80 301.04,221.50 C300.80,221.19 300.66,220.70 300.78,220.34Z" fill="none" stroke="#9a9a9a" stroke-width="0.65"/>
<path d="M303.24,219.56 C303.29,219.41 303.43,219.31 303.64,219.16 C303.85,219.01 304.32,218.82 304.51,218.68 C304.70,218.54 304.66,218.52 304.80,218.31 C304.94,218.10 305.19,217.68 305.37,217.45 C305.55,217.22 305.71,217.04 305.85,216.95 C306.00,216.86 306.14,216.88 306.24,216.92 C306.34,216.95 306.46,216.98 306.43,217.16 C306.40,217.34 306.18,217.76 306.05,218.02 C305.92,218.28 305.77,218.47 305.66,218.70 C305.55,218.92 305.48,219.16 305.37,219.37 C305.26,219.58 305.15,219.81 304.99,219.95 C304.83,220.09 304.60,220.17 304.41,220.23 C304.22,220.29 304.01,220.36 303.83,220.33 C303.65,220.30 303.45,220.17 303.35,220.04 C303.25,219.91 303.19,219.71 303.24,219.56Z" fill="#555"/>
</g>
<clipPath id="cp4"><path d="M392.10,224.10 C392.42,222.48 393.82,220.00 395.50,218.80 C397.18,217.60 400.12,217.77 402.20,216.90 C404.28,216.03 406.23,215.37 408.00,213.60 C409.77,211.83 411.03,208.28 412.80,206.30 C414.57,204.32 417.00,202.17 418.60,201.70 C420.20,201.23 422.17,201.92 422.40,203.50 C422.63,205.08 421.12,208.65 420.00,211.20 C418.88,213.75 417.07,216.25 415.70,218.80 C414.33,221.35 413.40,224.42 411.80,226.50 C410.20,228.58 408.33,230.57 406.10,231.30 C403.87,232.03 400.48,231.37 398.40,230.90 C396.32,230.43 394.65,229.63 393.60,228.50 C392.55,227.37 391.78,225.72 392.10,224.10Z"/></clipPath>
<g clip-path="url(#cp4)">
<path d="M392.10,224.10 C392.42,222.48 393.82,220.00 395.50,218.80 C397.18,217.60 400.12,217.77 402.20,216.90 C404.28,216.03 406.23,215.37 408.00,213.60 C409.77,211.83 411.03,208.28 412.80,206.30 C414.57,204.32 417.00,202.17 418.60,201.70 C420.20,201.23 422.17,201.92 422.40,203.50 C422.63,205.08 421.12,208.65 420.00,211.20 C418.88,213.75 417.07,216.25 415.70,218.80 C414.33,221.35 413.40,224.42 411.80,226.50 C410.20,228.58 408.33,230.57 406.10,231.30 C403.87,232.03 400.48,231.37 398.40,230.90 C396.32,230.43 394.65,229.63 393.60,228.50 C392.55,227.37 391.78,225.72 392.10,224.10Z" fill="#0d0d0d"/>
<path d="M392.10,224.10 C392.42,222.48 393.82,220.00 395.50,218.80 C397.18,217.60 400.12,217.77 402.20,216.90 C404.28,216.03 406.23,215.37 408.00,213.60 C409.77,211.83 411.03,208.28 412.80,206.30 C414.57,204.32 417.00,202.17 418.60,201.70 C420.20,201.23 422.17,201.92 422.40,203.50 C422.63,205.08 421.12,208.65 420.00,211.20 C418.88,213.75 417.07,216.25 415.70,218.80 C414.33,221.35 413.40,224.42 411.80,226.50 C410.20,228.58 408.33,230.57 406.10,231.30 C403.87,232.03 400.48,231.37 398.40,230.90 C396.32,230.43 394.65,229.63 393.60,228.50 C392.55,227.37 391.78,225.72 392.10,224.10Z" fill="none" stroke="#050505" stroke-width="7.0" stroke-linejoin="round"/>
<path d="M392.10,224.10 C392.42,222.48 393.82,220.00 395.50,218.80 C397.18,217.60 400.12,217.77 402.20,216.90 C404.28,216.03 406.23,215.37 408.00,213.60 C409.77,211.83 411.03,208.28 412.80,206.30 C414.57,204.32 417.00,202.17 418.60,201.70 C420.20,201.23 422.17,201.92 422.40,203.50 C422.63,205.08 421.12,208.65 420.00,211.20 C418.88,213.75 417.07,216.25 415.70,218.80 C414.33,221.35 413.40,224.42 411.80,226.50 C410.20,228.58 408.33,230.57 406.10,231.30 C403.87,232.03 400.48,231.37 398.40,230.90 C396.32,230.43 394.65,229.63 393.60,228.50 C392.55,227.37 391.78,225.72 392.10,224.10Z" fill="none" stroke="#d0d0d0" stroke-width="4.6" stroke-linejoin="round"/>
<path d="M392.10,224.10 C392.42,222.48 393.82,220.00 395.50,218.80 C397.18,217.60 400.12,217.77 402.20,216.90 C404.28,216.03 406.23,215.37 408.00,213.60 C409.77,211.83 411.03,208.28 412.80,206.30 C414.57,204.32 417.00,202.17 418.60,201.70 C420.20,201.23 422.17,201.92 422.40,203.50 C422.63,205.08 421.12,208.65 420.00,211.20 C418.88,213.75 417.07,216.25 415.70,218.80 C414.33,221.35 413.40,224.42 411.80,226.50 C410.20,228.58 408.33,230.57 406.10,231.30 C403.87,232.03 400.48,231.37 398.40,230.90 C396.32,230.43 394.65,229.63 393.60,228.50 C392.55,227.37 391.78,225.72 392.10,224.10Z" fill="none" stroke="#000" stroke-width="2.8" stroke-linejoin="round"/>
<path d="M398.90,222.54 C399.10,221.54 399.97,220.00 401.01,219.26 C402.05,218.51 403.87,218.62 405.16,218.08 C406.46,217.54 407.66,217.13 408.76,216.03 C409.86,214.94 410.64,212.74 411.74,211.51 C412.83,210.28 414.34,208.94 415.33,208.65 C416.32,208.36 417.54,208.79 417.69,209.77 C417.83,210.75 416.89,212.96 416.20,214.54 C415.51,216.12 414.38,217.68 413.53,219.26 C412.69,220.84 412.11,222.74 411.12,224.03 C410.12,225.32 408.97,226.55 407.58,227.01 C406.20,227.46 404.10,227.05 402.81,226.76 C401.52,226.47 400.48,225.97 399.83,225.27 C399.18,224.57 398.71,223.54 398.90,222.54Z" fill="none" stroke="#9a9a9a" stroke-width="0.65"/>
<path d="M402.48,221.72 C402.62,221.04 403.20,220.00 403.91,219.50 C404.62,218.99 405.85,219.06 406.72,218.70 C407.60,218.33 408.42,218.05 409.16,217.31 C409.90,216.57 410.43,215.08 411.18,214.25 C411.92,213.41 412.94,212.51 413.61,212.31 C414.28,212.12 415.11,212.41 415.21,213.07 C415.31,213.73 414.67,215.23 414.20,216.30 C413.73,217.38 412.97,218.43 412.39,219.50 C411.82,220.57 411.43,221.85 410.76,222.73 C410.08,223.60 409.30,224.44 408.36,224.75 C407.42,225.05 406.00,224.77 405.13,224.58 C404.25,224.38 403.55,224.05 403.11,223.57 C402.67,223.09 402.35,222.40 402.48,221.72Z" fill="none" stroke="#b0b0b0" stroke-width="0.65"/>
<path d="M405.70,220.98 C405.78,220.60 406.12,220.00 406.52,219.71 C406.92,219.42 407.63,219.46 408.13,219.26 C408.63,219.05 409.10,218.89 409.52,218.46 C409.94,218.04 410.25,217.19 410.67,216.71 C411.10,216.24 411.68,215.72 412.06,215.61 C412.45,215.50 412.92,215.66 412.98,216.04 C413.03,216.42 412.67,217.28 412.40,217.89 C412.13,218.50 411.70,219.10 411.37,219.71 C411.04,220.32 410.82,221.06 410.43,221.56 C410.05,222.06 409.60,222.54 409.06,222.71 C408.53,222.89 407.72,222.73 407.22,222.62 C406.72,222.50 406.32,222.31 406.06,222.04 C405.81,221.77 405.63,221.37 405.70,220.98Z" fill="none" stroke="#9a9a9a" stroke-width="0.65"/>
<path d="M408.21,220.41 C408.24,220.25 408.38,220.00 408.55,219.88 C408.72,219.76 409.01,219.78 409.22,219.69 C409.43,219.60 409.62,219.54 409.80,219.36 C409.98,219.18 410.10,218.83 410.28,218.63 C410.46,218.43 410.70,218.22 410.86,218.17 C411.02,218.12 411.22,218.19 411.24,218.35 C411.26,218.51 411.11,218.87 411.00,219.12 C410.89,219.38 410.71,219.62 410.57,219.88 C410.43,220.13 410.34,220.44 410.18,220.65 C410.02,220.86 409.83,221.06 409.61,221.13 C409.39,221.20 409.05,221.14 408.84,221.09 C408.63,221.04 408.47,220.96 408.36,220.85 C408.25,220.74 408.18,220.57 408.21,220.41Z" fill="#555"/>
</g>
<path d="M66,238.3 L66,223.5 L95.5,213.3 Q99.8,212.2 100.3,215.8 L89.2,238.3" fill="none" stroke="#2c4f93" stroke-width="1.4" stroke-linejoin="round"/>
<path d="M172.2,238.8 L172.2,223.3 L201.3,213.5 Q205.8,212.6 205.6,217.5 L194.1,238.8" fill="none" stroke="#2c4f93" stroke-width="1.4" stroke-linejoin="round"/>
<path d="M277.7,238.3 L277.7,223.5 L305.8,213.4 Q311.2,212 311.4,217.4 L300.1,238.3" fill="none" stroke="#2c4f93" stroke-width="1.4" stroke-linejoin="round"/>
<path d="M383.7,238.3 L383.7,222.7 L412.8,213.4 Q417.6,212.4 417.4,217.9 L406.1,238.3" fill="none" stroke="#2c4f93" stroke-width="1.4" stroke-linejoin="round"/>
<line x1="31.20" y1="237.30" x2="31.20" y2="267.30" stroke="#000" stroke-width="1.5" />
<line x1="30.45" y1="267.30" x2="66.50" y2="267.30" stroke="#000" stroke-width="1.5" />
<path d="M27.60,239.60 L31.20,231.30 L34.80,239.60 L31.20,238.10 Z" fill="#000"/>
<path d="M64.20,263.70 L72.50,267.30 L64.20,270.90 L65.70,267.30 Z" fill="#000"/>
<text transform="translate(36.00,226.00) rotate(-90)" font-size="12.8" fill="#5e2a84" font-weight="bold" textLength="28.3" lengthAdjust="spacingAndGlyphs">N-term</text>
<text x="77.6" y="271.5" font-size="12.8" text-anchor="start" fill="#b3143c" font-weight="bold" textLength="27.3" lengthAdjust="spacingAndGlyphs" >C-term</text>
<text x="11.2" y="298.8" font-size="17.8" text-anchor="start" fill="#000" font-weight="bold" >D</text>
<text x="226.8" y="293.8" font-size="12.3" text-anchor="start" fill="#000" font-weight="normal" textLength="43.7" lengthAdjust="spacingAndGlyphs" >LT-HSC</text>
<line x1="65.50" y1="299.30" x2="466.60" y2="299.30" stroke="#000" stroke-width="1.6" />
<line x1="65.40" y1="388.50" x2="65.40" y2="392.70" stroke="#000" stroke-width="1.1" />
<line x1="71.69" y1="388.50" x2="71.69" y2="390.80" stroke="#000" stroke-width="1.1" />
<line x1="75.37" y1="388.50" x2="75.37" y2="390.80" stroke="#000" stroke-width="1.1" />
<line x1="77.98" y1="388.50" x2="77.98" y2="390.80" stroke="#000" stroke-width="1.1" />
<line x1="80.01" y1="388.50" x2="80.01" y2="390.80" stroke="#000" stroke-width="1.1" />
<line x1="81.66" y1="388.50" x2="81.66" y2="390.80" stroke="#000" stroke-width="1.1" />
<line x1="83.06" y1="388.50" x2="83.06" y2="390.80" stroke="#000" stroke-width="1.1" />
<line x1="84.27" y1="388.50" x2="84.27" y2="390.80" stroke="#000" stroke-width="1.1" />
<line x1="85.34" y1="388.50" x2="85.34" y2="390.80" stroke="#000" stroke-width="1.1" />
<line x1="86.30" y1="388.50" x2="86.30" y2="392.70" stroke="#000" stroke-width="1.1" />
<line x1="92.59" y1="388.50" x2="92.59" y2="390.80" stroke="#000" stroke-width="1.1" />
<line x1="96.27" y1="388.50" x2="96.27" y2="390.80" stroke="#000" stroke-width="1.1" />
<line x1="98.88" y1="388.50" x2="98.88" y2="390.80" stroke="#000" stroke-width="1.1" />
<line x1="100.91" y1="388.50" x2="100.91" y2="390.80" stroke="#000" stroke-width="1.1" />
<line x1="102.56" y1="388.50" x2="102.56" y2="390.80" stroke="#000" stroke-width="1.1" />
<line x1="103.96" y1="388.50" x2="103.96" y2="390.80" stroke="#000" stroke-width="1.1" />
<line x1="105.17" y1="388.50" x2="105.17" y2="390.80" stroke="#000" stroke-width="1.1" />
<line x1="106.24" y1="388.50" x2="106.24" y2="390.80" stroke="#000" stroke-width="1.1" />
<line x1="107.20" y1="388.50" x2="107.20" y2="392.70" stroke="#000" stroke-width="1.1" />
<line x1="113.49" y1="388.50" x2="113.49" y2="390.80" stroke="#000" stroke-width="1.1" />
<line x1="117.17" y1="388.50" x2="117.17" y2="390.80" stroke="#000" stroke-width="1.1" />
<line x1="119.78" y1="388.50" x2="119.78" y2="390.80" stroke="#000" stroke-width="1.1" />
<line x1="121.81" y1="388.50" x2="121.81" y2="390.80" stroke="#000" stroke-width="1.1" />
<line x1="123.46" y1="388.50" x2="123.46" y2="390.80" stroke="#000" stroke-width="1.1" />
<line x1="124.86" y1="388.50" x2="124.86" y2="390.80" stroke="#000" stroke-width="1.1" />
<line x1="126.07" y1="388.50" x2="126.07" y2="390.80" stroke="#000" stroke-width="1.1" />
<line x1="127.14" y1="388.50" x2="127.14" y2="390.80" stroke="#000" stroke-width="1.1" />
<line x1="128.10" y1="388.50" x2="128.10" y2="392.70" stroke="#000" stroke-width="1.1" />
<line x1="134.39" y1="388.50" x2="134.39" y2="390.80" stroke="#000" stroke-width="1.1" />
<line x1="138.07" y1="388.50" x2="138.07" y2="390.80" stroke="#000" stroke-width="1.1" />
<line x1="140.68" y1="388.50" x2="140.68" y2="390.80" stroke="#000" stroke-width="1.1" />
<line x1="142.71" y1="388.50" x2="142.71" y2="390.80" stroke="#000" stroke-width="1.1" />
<line x1="144.36" y1="388.50" x2="144.36" y2="390.80" stroke="#000" stroke-width="1.1" />
<line x1="145.76" y1="388.50" x2="145.76" y2="390.80" stroke="#000" stroke-width="1.1" />
<line x1="146.97" y1="388.50" x2="146.97" y2="390.80" stroke="#000" stroke-width="1.1" />
<line x1="148.04" y1="388.50" x2="148.04" y2="390.80" stroke="#000" stroke-width="1.1" />
<line x1="149.00" y1="388.50" x2="149.00" y2="392.70" stroke="#000" stroke-width="1.1" />
<text x="58.64" y="405.30" font-size="9.3" fill="#000">10<tspan dx="0.7" dy="-4.6" font-size="6.6">0</tspan></text>
<text x="79.54" y="405.30" font-size="9.3" fill="#000">10<tspan dx="0.7" dy="-4.6" font-size="6.6">1</tspan></text>
<text x="100.44" y="405.30" font-size="9.3" fill="#000">10<tspan dx="0.7" dy="-4.6" font-size="6.6">2</tspan></text>
<text x="121.34" y="405.30" font-size="9.3" fill="#000">10<tspan dx="0.7" dy="-4.6" font-size="6.6">3</tspan></text>
<text x="142.24" y="405.30" font-size="9.3" fill="#000">10<tspan dx="0.7" dy="-4.6" font-size="6.6">4</tspan></text>
<line x1="65.40" y1="388.50" x2="60.80" y2="388.50" stroke="#000" stroke-width="1.1" />
<line x1="65.40" y1="382.16" x2="62.90" y2="382.16" stroke="#000" stroke-width="1.1" />
<line x1="65.40" y1="378.44" x2="62.90" y2="378.44" stroke="#000" stroke-width="1.1" />
<line x1="65.40" y1="375.81" x2="62.90" y2="375.81" stroke="#000" stroke-width="1.1" />
<line x1="65.40" y1="373.77" x2="62.90" y2="373.77" stroke="#000" stroke-width="1.1" />
<line x1="65.40" y1="372.10" x2="62.90" y2="372.10" stroke="#000" stroke-width="1.1" />
<line x1="65.40" y1="370.69" x2="62.90" y2="370.69" stroke="#000" stroke-width="1.1" />
<line x1="65.40" y1="369.47" x2="62.90" y2="369.47" stroke="#000" stroke-width="1.1" />
<line x1="65.40" y1="368.39" x2="62.90" y2="368.39" stroke="#000" stroke-width="1.1" />
<line x1="65.40" y1="367.43" x2="60.80" y2="367.43" stroke="#000" stroke-width="1.1" />
<line x1="65.40" y1="361.08" x2="62.90" y2="361.08" stroke="#000" stroke-width="1.1" />
<line x1="65.40" y1="357.37" x2="62.90" y2="357.37" stroke="#000" stroke-width="1.1" />
<line x1="65.40" y1="354.74" x2="62.90" y2="354.74" stroke="#000" stroke-width="1.1" />
<line x1="65.40" y1="352.69" x2="62.90" y2="352.69" stroke="#000" stroke-width="1.1" />
<line x1="65.40" y1="351.03" x2="62.90" y2="351.03" stroke="#000" stroke-width="1.1" />
<line x1="65.40" y1="349.61" x2="62.90" y2="349.61" stroke="#000" stroke-width="1.1" />
<line x1="65.40" y1="348.39" x2="62.90" y2="348.39" stroke="#000" stroke-width="1.1" />
<line x1="65.40" y1="347.31" x2="62.90" y2="347.31" stroke="#000" stroke-width="1.1" />
<line x1="65.40" y1="346.35" x2="60.80" y2="346.35" stroke="#000" stroke-width="1.1" />
<line x1="65.40" y1="340.01" x2="62.90" y2="340.01" stroke="#000" stroke-width="1.1" />
<line x1="65.40" y1="336.29" x2="62.90" y2="336.29" stroke="#000" stroke-width="1.1" />
<line x1="65.40" y1="333.66" x2="62.90" y2="333.66" stroke="#000" stroke-width="1.1" />
<line x1="65.40" y1="331.62" x2="62.90" y2="331.62" stroke="#000" stroke-width="1.1" />
<line x1="65.40" y1="329.95" x2="62.90" y2="329.95" stroke="#000" stroke-width="1.1" />
<line x1="65.40" y1="328.54" x2="62.90" y2="328.54" stroke="#000" stroke-width="1.1" />
<line x1="65.40" y1="327.32" x2="62.90" y2="327.32" stroke="#000" stroke-width="1.1" />
<line x1="65.40" y1="326.24" x2="62.90" y2="326.24" stroke="#000" stroke-width="1.1" />
<line x1="65.40" y1="325.27" x2="60.80" y2="325.27" stroke="#000" stroke-width="1.1" />
<line x1="65.40" y1="318.93" x2="62.90" y2="318.93" stroke="#000" stroke-width="1.1" />
<line x1="65.40" y1="315.22" x2="62.90" y2="315.22" stroke="#000" stroke-width="1.1" />
<line x1="65.40" y1="312.59" x2="62.90" y2="312.59" stroke="#000" stroke-width="1.1" />
<line x1="65.40" y1="310.54" x2="62.90" y2="310.54" stroke="#000" stroke-width="1.1" />
<line x1="65.40" y1="308.88" x2="62.90" y2="308.88" stroke="#000" stroke-width="1.1" />
<line x1="65.40" y1="307.46" x2="62.90" y2="307.46" stroke="#000" stroke-width="1.1" />
<line x1="65.40" y1="306.24" x2="62.90" y2="306.24" stroke="#000" stroke-width="1.1" />
<line x1="65.40" y1="305.16" x2="62.90" y2="305.16" stroke="#000" stroke-width="1.1" />
<line x1="65.40" y1="304.20" x2="60.80" y2="304.20" stroke="#000" stroke-width="1.1" />
<text x="39.79" y="391.50" font-size="9.3" fill="#000">10<tspan dx="1.5" dy="-4.4" font-size="8.4">0</tspan></text>
<text x="39.79" y="370.43" font-size="9.3" fill="#000">10<tspan dx="1.5" dy="-4.4" font-size="8.4">1</tspan></text>
<text x="39.79" y="349.35" font-size="9.3" fill="#000">10<tspan dx="1.5" dy="-4.4" font-size="8.4">2</tspan></text>
<text x="39.79" y="328.27" font-size="9.3" fill="#000">10<tspan dx="1.5" dy="-4.4" font-size="8.4">3</tspan></text>
<text x="39.79" y="307.20" font-size="9.3" fill="#000">10<tspan dx="1.5" dy="-4.4" font-size="8.4">4</tspan></text>
<rect x="65.40" y="304.20" width="83.60" height="84.30" fill="none" stroke="#000" stroke-width="1.8" />
<text x="93.6" y="323.1" font-size="12.6" text-anchor="start" fill="#000" font-weight="normal" >Day 0</text>
<line x1="171.40" y1="388.50" x2="171.40" y2="392.70" stroke="#000" stroke-width="1.1" />
<line x1="177.69" y1="388.50" x2="177.69" y2="390.80" stroke="#000" stroke-width="1.1" />
<line x1="181.37" y1="388.50" x2="181.37" y2="390.80" stroke="#000" stroke-width="1.1" />
<line x1="183.98" y1="388.50" x2="183.98" y2="390.80" stroke="#000" stroke-width="1.1" />
<line x1="186.01" y1="388.50" x2="186.01" y2="390.80" stroke="#000" stroke-width="1.1" />
<line x1="187.66" y1="388.50" x2="187.66" y2="390.80" stroke="#000" stroke-width="1.1" />
<line x1="189.06" y1="388.50" x2="189.06" y2="390.80" stroke="#000" stroke-width="1.1" />
<line x1="190.27" y1="388.50" x2="190.27" y2="390.80" stroke="#000" stroke-width="1.1" />
<line x1="191.34" y1="388.50" x2="191.34" y2="390.80" stroke="#000" stroke-width="1.1" />
<line x1="192.30" y1="388.50" x2="192.30" y2="392.70" stroke="#000" stroke-width="1.1" />
<line x1="198.59" y1="388.50" x2="198.59" y2="390.80" stroke="#000" stroke-width="1.1" />
<line x1="202.27" y1="388.50" x2="202.27" y2="390.80" stroke="#000" stroke-width="1.1" />
<line x1="204.88" y1="388.50" x2="204.88" y2="390.80" stroke="#000" stroke-width="1.1" />
<line x1="206.91" y1="388.50" x2="206.91" y2="390.80" stroke="#000" stroke-width="1.1" />
<line x1="208.56" y1="388.50" x2="208.56" y2="390.80" stroke="#000" stroke-width="1.1" />
<line x1="209.96" y1="388.50" x2="209.96" y2="390.80" stroke="#000" stroke-width="1.1" />
<line x1="211.17" y1="388.50" x2="211.17" y2="390.80" stroke="#000" stroke-width="1.1" />
<line x1="212.24" y1="388.50" x2="212.24" y2="390.80" stroke="#000" stroke-width="1.1" />
<line x1="213.20" y1="388.50" x2="213.20" y2="392.70" stroke="#000" stroke-width="1.1" />
<line x1="219.49" y1="388.50" x2="219.49" y2="390.80" stroke="#000" stroke-width="1.1" />
<line x1="223.17" y1="388.50" x2="223.17" y2="390.80" stroke="#000" stroke-width="1.1" />
<line x1="225.78" y1="388.50" x2="225.78" y2="390.80" stroke="#000" stroke-width="1.1" />
<line x1="227.81" y1="388.50" x2="227.81" y2="390.80" stroke="#000" stroke-width="1.1" />
<line x1="229.46" y1="388.50" x2="229.46" y2="390.80" stroke="#000" stroke-width="1.1" />
<line x1="230.86" y1="388.50" x2="230.86" y2="390.80" stroke="#000" stroke-width="1.1" />
<line x1="232.07" y1="388.50" x2="232.07" y2="390.80" stroke="#000" stroke-width="1.1" />
<line x1="233.14" y1="388.50" x2="233.14" y2="390.80" stroke="#000" stroke-width="1.1" />
<line x1="234.10" y1="388.50" x2="234.10" y2="392.70" stroke="#000" stroke-width="1.1" />
<line x1="240.39" y1="388.50" x2="240.39" y2="390.80" stroke="#000" stroke-width="1.1" />
<line x1="244.07" y1="388.50" x2="244.07" y2="390.80" stroke="#000" stroke-width="1.1" />
<line x1="246.68" y1="388.50" x2="246.68" y2="390.80" stroke="#000" stroke-width="1.1" />
<line x1="248.71" y1="388.50" x2="248.71" y2="390.80" stroke="#000" stroke-width="1.1" />
<line x1="250.36" y1="388.50" x2="250.36" y2="390.80" stroke="#000" stroke-width="1.1" />
<line x1="251.76" y1="388.50" x2="251.76" y2="390.80" stroke="#000" stroke-width="1.1" />
<line x1="252.97" y1="388.50" x2="252.97" y2="390.80" stroke="#000" stroke-width="1.1" />
<line x1="254.04" y1="388.50" x2="254.04" y2="390.80" stroke="#000" stroke-width="1.1" />
<line x1="255.00" y1="388.50" x2="255.00" y2="392.70" stroke="#000" stroke-width="1.1" />
<text x="164.64" y="405.30" font-size="9.3" fill="#000">10<tspan dx="0.7" dy="-4.6" font-size="6.6">0</tspan></text>
<text x="185.54" y="405.30" font-size="9.3" fill="#000">10<tspan dx="0.7" dy="-4.6" font-size="6.6">1</tspan></text>
<text x="206.44" y="405.30" font-size="9.3" fill="#000">10<tspan dx="0.7" dy="-4.6" font-size="6.6">2</tspan></text>
<text x="227.34" y="405.30" font-size="9.3" fill="#000">10<tspan dx="0.7" dy="-4.6" font-size="6.6">3</tspan></text>
<text x="248.24" y="405.30" font-size="9.3" fill="#000">10<tspan dx="0.7" dy="-4.6" font-size="6.6">4</tspan></text>
<line x1="171.40" y1="388.50" x2="166.80" y2="388.50" stroke="#000" stroke-width="1.1" />
<line x1="171.40" y1="382.16" x2="168.90" y2="382.16" stroke="#000" stroke-width="1.1" />
<line x1="171.40" y1="378.44" x2="168.90" y2="378.44" stroke="#000" stroke-width="1.1" />
<line x1="171.40" y1="375.81" x2="168.90" y2="375.81" stroke="#000" stroke-width="1.1" />
<line x1="171.40" y1="373.77" x2="168.90" y2="373.77" stroke="#000" stroke-width="1.1" />
<line x1="171.40" y1="372.10" x2="168.90" y2="372.10" stroke="#000" stroke-width="1.1" />
<line x1="171.40" y1="370.69" x2="168.90" y2="370.69" stroke="#000" stroke-width="1.1" />
<line x1="171.40" y1="369.47" x2="168.90" y2="369.47" stroke="#000" stroke-width="1.1" />
<line x1="171.40" y1="368.39" x2="168.90" y2="368.39" stroke="#000" stroke-width="1.1" />
<line x1="171.40" y1="367.43" x2="166.80" y2="367.43" stroke="#000" stroke-width="1.1" />
<line x1="171.40" y1="361.08" x2="168.90" y2="361.08" stroke="#000" stroke-width="1.1" />
<line x1="171.40" y1="357.37" x2="168.90" y2="357.37" stroke="#000" stroke-width="1.1" />
<line x1="171.40" y1="354.74" x2="168.90" y2="354.74" stroke="#000" stroke-width="1.1" />
<line x1="171.40" y1="352.69" x2="168.90" y2="352.69" stroke="#000" stroke-width="1.1" />
<line x1="171.40" y1="351.03" x2="168.90" y2="351.03" stroke="#000" stroke-width="1.1" />
<line x1="171.40" y1="349.61" x2="168.90" y2="349.61" stroke="#000" stroke-width="1.1" />
<line x1="171.40" y1="348.39" x2="168.90" y2="348.39" stroke="#000" stroke-width="1.1" />
<line x1="171.40" y1="347.31" x2="168.90" y2="347.31" stroke="#000" stroke-width="1.1" />
<line x1="171.40" y1="346.35" x2="166.80" y2="346.35" stroke="#000" stroke-width="1.1" />
<line x1="171.40" y1="340.01" x2="168.90" y2="340.01" stroke="#000" stroke-width="1.1" />
<line x1="171.40" y1="336.29" x2="168.90" y2="336.29" stroke="#000" stroke-width="1.1" />
<line x1="171.40" y1="333.66" x2="168.90" y2="333.66" stroke="#000" stroke-width="1.1" />
<line x1="171.40" y1="331.62" x2="168.90" y2="331.62" stroke="#000" stroke-width="1.1" />
<line x1="171.40" y1="329.95" x2="168.90" y2="329.95" stroke="#000" stroke-width="1.1" />
<line x1="171.40" y1="328.54" x2="168.90" y2="328.54" stroke="#000" stroke-width="1.1" />
<line x1="171.40" y1="327.32" x2="168.90" y2="327.32" stroke="#000" stroke-width="1.1" />
<line x1="171.40" y1="326.24" x2="168.90" y2="326.24" stroke="#000" stroke-width="1.1" />
<line x1="171.40" y1="325.27" x2="166.80" y2="325.27" stroke="#000" stroke-width="1.1" />
<line x1="171.40" y1="318.93" x2="168.90" y2="318.93" stroke="#000" stroke-width="1.1" />
<line x1="171.40" y1="315.22" x2="168.90" y2="315.22" stroke="#000" stroke-width="1.1" />
<line x1="171.40" y1="312.59" x2="168.90" y2="312.59" stroke="#000" stroke-width="1.1" />
<line x1="171.40" y1="310.54" x2="168.90" y2="310.54" stroke="#000" stroke-width="1.1" />
<line x1="171.40" y1="308.88" x2="168.90" y2="308.88" stroke="#000" stroke-width="1.1" />
<line x1="171.40" y1="307.46" x2="168.90" y2="307.46" stroke="#000" stroke-width="1.1" />
<line x1="171.40" y1="306.24" x2="168.90" y2="306.24" stroke="#000" stroke-width="1.1" />
<line x1="171.40" y1="305.16" x2="168.90" y2="305.16" stroke="#000" stroke-width="1.1" />
<line x1="171.40" y1="304.20" x2="166.80" y2="304.20" stroke="#000" stroke-width="1.1" />
<rect x="171.40" y="304.20" width="83.60" height="84.30" fill="none" stroke="#000" stroke-width="1.8" />
<text x="196.9" y="323.1" font-size="12.6" text-anchor="start" fill="#000" font-weight="normal" >Day 1</text>
<line x1="277.40" y1="388.50" x2="277.40" y2="392.70" stroke="#000" stroke-width="1.1" />
<line x1="283.69" y1="388.50" x2="283.69" y2="390.80" stroke="#000" stroke-width="1.1" />
<line x1="287.37" y1="388.50" x2="287.37" y2="390.80" stroke="#000" stroke-width="1.1" />
<line x1="289.98" y1="388.50" x2="289.98" y2="390.80" stroke="#000" stroke-width="1.1" />
<line x1="292.01" y1="388.50" x2="292.01" y2="390.80" stroke="#000" stroke-width="1.1" />
<line x1="293.66" y1="388.50" x2="293.66" y2="390.80" stroke="#000" stroke-width="1.1" />
<line x1="295.06" y1="388.50" x2="295.06" y2="390.80" stroke="#000" stroke-width="1.1" />
<line x1="296.27" y1="388.50" x2="296.27" y2="390.80" stroke="#000" stroke-width="1.1" />
<line x1="297.34" y1="388.50" x2="297.34" y2="390.80" stroke="#000" stroke-width="1.1" />
<line x1="298.30" y1="388.50" x2="298.30" y2="392.70" stroke="#000" stroke-width="1.1" />
<line x1="304.59" y1="388.50" x2="304.59" y2="390.80" stroke="#000" stroke-width="1.1" />
<line x1="308.27" y1="388.50" x2="308.27" y2="390.80" stroke="#000" stroke-width="1.1" />
<line x1="310.88" y1="388.50" x2="310.88" y2="390.80" stroke="#000" stroke-width="1.1" />
<line x1="312.91" y1="388.50" x2="312.91" y2="390.80" stroke="#000" stroke-width="1.1" />
<line x1="314.56" y1="388.50" x2="314.56" y2="390.80" stroke="#000" stroke-width="1.1" />
<line x1="315.96" y1="388.50" x2="315.96" y2="390.80" stroke="#000" stroke-width="1.1" />
<line x1="317.17" y1="388.50" x2="317.17" y2="390.80" stroke="#000" stroke-width="1.1" />
<line x1="318.24" y1="388.50" x2="318.24" y2="390.80" stroke="#000" stroke-width="1.1" />
<line x1="319.20" y1="388.50" x2="319.20" y2="392.70" stroke="#000" stroke-width="1.1" />
<line x1="325.49" y1="388.50" x2="325.49" y2="390.80" stroke="#000" stroke-width="1.1" />
<line x1="329.17" y1="388.50" x2="329.17" y2="390.80" stroke="#000" stroke-width="1.1" />
<line x1="331.78" y1="388.50" x2="331.78" y2="390.80" stroke="#000" stroke-width="1.1" />
<line x1="333.81" y1="388.50" x2="333.81" y2="390.80" stroke="#000" stroke-width="1.1" />
<line x1="335.46" y1="388.50" x2="335.46" y2="390.80" stroke="#000" stroke-width="1.1" />
<line x1="336.86" y1="388.50" x2="336.86" y2="390.80" stroke="#000" stroke-width="1.1" />
<line x1="338.07" y1="388.50" x2="338.07" y2="390.80" stroke="#000" stroke-width="1.1" />
<line x1="339.14" y1="388.50" x2="339.14" y2="390.80" stroke="#000" stroke-width="1.1" />
<line x1="340.10" y1="388.50" x2="340.10" y2="392.70" stroke="#000" stroke-width="1.1" />
<line x1="346.39" y1="388.50" x2="346.39" y2="390.80" stroke="#000" stroke-width="1.1" />
<line x1="350.07" y1="388.50" x2="350.07" y2="390.80" stroke="#000" stroke-width="1.1" />
<line x1="352.68" y1="388.50" x2="352.68" y2="390.80" stroke="#000" stroke-width="1.1" />
<line x1="354.71" y1="388.50" x2="354.71" y2="390.80" stroke="#000" stroke-width="1.1" />
<line x1="356.36" y1="388.50" x2="356.36" y2="390.80" stroke="#000" stroke-width="1.1" />
<line x1="357.76" y1="388.50" x2="357.76" y2="390.80" stroke="#000" stroke-width="1.1" />
<line x1="358.97" y1="388.50" x2="358.97" y2="390.80" stroke="#000" stroke-width="1.1" />
<line x1="360.04" y1="388.50" x2="360.04" y2="390.80" stroke="#000" stroke-width="1.1" />
<line x1="361.00" y1="388.50" x2="361.00" y2="392.70" stroke="#000" stroke-width="1.1" />
<text x="270.64" y="405.30" font-size="9.3" fill="#000">10<tspan dx="0.7" dy="-4.6" font-size="6.6">0</tspan></text>
<text x="291.54" y="405.30" font-size="9.3" fill="#000">10<tspan dx="0.7" dy="-4.6" font-size="6.6">1</tspan></text>
<text x="312.44" y="405.30" font-size="9.3" fill="#000">10<tspan dx="0.7" dy="-4.6" font-size="6.6">2</tspan></text>
<text x="333.34" y="405.30" font-size="9.3" fill="#000">10<tspan dx="0.7" dy="-4.6" font-size="6.6">3</tspan></text>
<text x="354.24" y="405.30" font-size="9.3" fill="#000">10<tspan dx="0.7" dy="-4.6" font-size="6.6">4</tspan></text>
<line x1="277.40" y1="388.50" x2="272.80" y2="388.50" stroke="#000" stroke-width="1.1" />
<line x1="277.40" y1="382.16" x2="274.90" y2="382.16" stroke="#000" stroke-width="1.1" />
<line x1="277.40" y1="378.44" x2="274.90" y2="378.44" stroke="#000" stroke-width="1.1" />
<line x1="277.40" y1="375.81" x2="274.90" y2="375.81" stroke="#000" stroke-width="1.1" />
<line x1="277.40" y1="373.77" x2="274.90" y2="373.77" stroke="#000" stroke-width="1.1" />
<line x1="277.40" y1="372.10" x2="274.90" y2="372.10" stroke="#000" stroke-width="1.1" />
<line x1="277.40" y1="370.69" x2="274.90" y2="370.69" stroke="#000" stroke-width="1.1" />
<line x1="277.40" y1="369.47" x2="274.90" y2="369.47" stroke="#000" stroke-width="1.1" />
<line x1="277.40" y1="368.39" x2="274.90" y2="368.39" stroke="#000" stroke-width="1.1" />
<line x1="277.40" y1="367.43" x2="272.80" y2="367.43" stroke="#000" stroke-width="1.1" />
<line x1="277.40" y1="361.08" x2="274.90" y2="361.08" stroke="#000" stroke-width="1.1" />
<line x1="277.40" y1="357.37" x2="274.90" y2="357.37" stroke="#000" stroke-width="1.1" />
<line x1="277.40" y1="354.74" x2="274.90" y2="354.74" stroke="#000" stroke-width="1.1" />
<line x1="277.40" y1="352.69" x2="274.90" y2="352.69" stroke="#000" stroke-width="1.1" />
<line x1="277.40" y1="351.03" x2="274.90" y2="351.03" stroke="#000" stroke-width="1.1" />
<line x1="277.40" y1="349.61" x2="274.90" y2="349.61" stroke="#000" stroke-width="1.1" />
<line x1="277.40" y1="348.39" x2="274.90" y2="348.39" stroke="#000" stroke-width="1.1" />
<line x1="277.40" y1="347.31" x2="274.90" y2="347.31" stroke="#000" stroke-width="1.1" />
<line x1="277.40" y1="346.35" x2="272.80" y2="346.35" stroke="#000" stroke-width="1.1" />
<line x1="277.40" y1="340.01" x2="274.90" y2="340.01" stroke="#000" stroke-width="1.1" />
<line x1="277.40" y1="336.29" x2="274.90" y2="336.29" stroke="#000" stroke-width="1.1" />
<line x1="277.40" y1="333.66" x2="274.90" y2="333.66" stroke="#000" stroke-width="1.1" />
<line x1="277.40" y1="331.62" x2="274.90" y2="331.62" stroke="#000" stroke-width="1.1" />
<line x1="277.40" y1="329.95" x2="274.90" y2="329.95" stroke="#000" stroke-width="1.1" />
<line x1="277.40" y1="328.54" x2="274.90" y2="328.54" stroke="#000" stroke-width="1.1" />
<line x1="277.40" y1="327.32" x2="274.90" y2="327.32" stroke="#000" stroke-width="1.1" />
<line x1="277.40" y1="326.24" x2="274.90" y2="326.24" stroke="#000" stroke-width="1.1" />
<line x1="277.40" y1="325.27" x2="272.80" y2="325.27" stroke="#000" stroke-width="1.1" />
<line x1="277.40" y1="318.93" x2="274.90" y2="318.93" stroke="#000" stroke-width="1.1" />
<line x1="277.40" y1="315.22" x2="274.90" y2="315.22" stroke="#000" stroke-width="1.1" />
<line x1="277.40" y1="312.59" x2="274.90" y2="312.59" stroke="#000" stroke-width="1.1" />
<line x1="277.40" y1="310.54" x2="274.90" y2="310.54" stroke="#000" stroke-width="1.1" />
<line x1="277.40" y1="308.88" x2="274.90" y2="308.88" stroke="#000" stroke-width="1.1" />
<line x1="277.40" y1="307.46" x2="274.90" y2="307.46" stroke="#000" stroke-width="1.1" />
<line x1="277.40" y1="306.24" x2="274.90" y2="306.24" stroke="#000" stroke-width="1.1" />
<line x1="277.40" y1="305.16" x2="274.90" y2="305.16" stroke="#000" stroke-width="1.1" />
<line x1="277.40" y1="304.20" x2="272.80" y2="304.20" stroke="#000" stroke-width="1.1" />
<rect x="277.40" y="304.20" width="83.60" height="84.30" fill="none" stroke="#000" stroke-width="1.8" />
<text x="304.5" y="323.1" font-size="12.6" text-anchor="start" fill="#000" font-weight="normal" >Day 2</text>
<line x1="383.40" y1="388.50" x2="383.40" y2="392.70" stroke="#000" stroke-width="1.1" />
<line x1="389.69" y1="388.50" x2="389.69" y2="390.80" stroke="#000" stroke-width="1.1" />
<line x1="393.37" y1="388.50" x2="393.37" y2="390.80" stroke="#000" stroke-width="1.1" />
<line x1="395.98" y1="388.50" x2="395.98" y2="390.80" stroke="#000" stroke-width="1.1" />
<line x1="398.01" y1="388.50" x2="398.01" y2="390.80" stroke="#000" stroke-width="1.1" />
<line x1="399.66" y1="388.50" x2="399.66" y2="390.80" stroke="#000" stroke-width="1.1" />
<line x1="401.06" y1="388.50" x2="401.06" y2="390.80" stroke="#000" stroke-width="1.1" />
<line x1="402.27" y1="388.50" x2="402.27" y2="390.80" stroke="#000" stroke-width="1.1" />
<line x1="403.34" y1="388.50" x2="403.34" y2="390.80" stroke="#000" stroke-width="1.1" />
<line x1="404.30" y1="388.50" x2="404.30" y2="392.70" stroke="#000" stroke-width="1.1" />
<line x1="410.59" y1="388.50" x2="410.59" y2="390.80" stroke="#000" stroke-width="1.1" />
<line x1="414.27" y1="388.50" x2="414.27" y2="390.80" stroke="#000" stroke-width="1.1" />
<line x1="416.88" y1="388.50" x2="416.88" y2="390.80" stroke="#000" stroke-width="1.1" />
<line x1="418.91" y1="388.50" x2="418.91" y2="390.80" stroke="#000" stroke-width="1.1" />
<line x1="420.56" y1="388.50" x2="420.56" y2="390.80" stroke="#000" stroke-width="1.1" />
<line x1="421.96" y1="388.50" x2="421.96" y2="390.80" stroke="#000" stroke-width="1.1" />
<line x1="423.17" y1="388.50" x2="423.17" y2="390.80" stroke="#000" stroke-width="1.1" />
<line x1="424.24" y1="388.50" x2="424.24" y2="390.80" stroke="#000" stroke-width="1.1" />
<line x1="425.20" y1="388.50" x2="425.20" y2="392.70" stroke="#000" stroke-width="1.1" />
<line x1="431.49" y1="388.50" x2="431.49" y2="390.80" stroke="#000" stroke-width="1.1" />
<line x1="435.17" y1="388.50" x2="435.17" y2="390.80" stroke="#000" stroke-width="1.1" />
<line x1="437.78" y1="388.50" x2="437.78" y2="390.80" stroke="#000" stroke-width="1.1" />
<line x1="439.81" y1="388.50" x2="439.81" y2="390.80" stroke="#000" stroke-width="1.1" />
<line x1="441.46" y1="388.50" x2="441.46" y2="390.80" stroke="#000" stroke-width="1.1" />
<line x1="442.86" y1="388.50" x2="442.86" y2="390.80" stroke="#000" stroke-width="1.1" />
<line x1="444.07" y1="388.50" x2="444.07" y2="390.80" stroke="#000" stroke-width="1.1" />
<line x1="445.14" y1="388.50" x2="445.14" y2="390.80" stroke="#000" stroke-width="1.1" />
<line x1="446.10" y1="388.50" x2="446.10" y2="392.70" stroke="#000" stroke-width="1.1" />
<line x1="452.39" y1="388.50" x2="452.39" y2="390.80" stroke="#000" stroke-width="1.1" />
<line x1="456.07" y1="388.50" x2="456.07" y2="390.80" stroke="#000" stroke-width="1.1" />
<line x1="458.68" y1="388.50" x2="458.68" y2="390.80" stroke="#000" stroke-width="1.1" />
<line x1="460.71" y1="388.50" x2="460.71" y2="390.80" stroke="#000" stroke-width="1.1" />
<line x1="462.36" y1="388.50" x2="462.36" y2="390.80" stroke="#000" stroke-width="1.1" />
<line x1="463.76" y1="388.50" x2="463.76" y2="390.80" stroke="#000" stroke-width="1.1" />
<line x1="464.97" y1="388.50" x2="464.97" y2="390.80" stroke="#000" stroke-width="1.1" />
<line x1="466.04" y1="388.50" x2="466.04" y2="390.80" stroke="#000" stroke-width="1.1" />
<line x1="467.00" y1="388.50" x2="467.00" y2="392.70" stroke="#000" stroke-width="1.1" />
<text x="376.64" y="405.30" font-size="9.3" fill="#000">10<tspan dx="0.7" dy="-4.6" font-size="6.6">0</tspan></text>
<text x="397.54" y="405.30" font-size="9.3" fill="#000">10<tspan dx="0.7" dy="-4.6" font-size="6.6">1</tspan></text>
<text x="418.44" y="405.30" font-size="9.3" fill="#000">10<tspan dx="0.7" dy="-4.6" font-size="6.6">2</tspan></text>
<text x="439.34" y="405.30" font-size="9.3" fill="#000">10<tspan dx="0.7" dy="-4.6" font-size="6.6">3</tspan></text>
<text x="460.24" y="405.30" font-size="9.3" fill="#000">10<tspan dx="0.7" dy="-4.6" font-size="6.6">4</tspan></text>
<line x1="383.40" y1="388.50" x2="378.80" y2="388.50" stroke="#000" stroke-width="1.1" />
<line x1="383.40" y1="382.16" x2="380.90" y2="382.16" stroke="#000" stroke-width="1.1" />
<line x1="383.40" y1="378.44" x2="380.90" y2="378.44" stroke="#000" stroke-width="1.1" />
<line x1="383.40" y1="375.81" x2="380.90" y2="375.81" stroke="#000" stroke-width="1.1" />
<line x1="383.40" y1="373.77" x2="380.90" y2="373.77" stroke="#000" stroke-width="1.1" />
<line x1="383.40" y1="372.10" x2="380.90" y2="372.10" stroke="#000" stroke-width="1.1" />
<line x1="383.40" y1="370.69" x2="380.90" y2="370.69" stroke="#000" stroke-width="1.1" />
<line x1="383.40" y1="369.47" x2="380.90" y2="369.47" stroke="#000" stroke-width="1.1" />
<line x1="383.40" y1="368.39" x2="380.90" y2="368.39" stroke="#000" stroke-width="1.1" />
<line x1="383.40" y1="367.43" x2="378.80" y2="367.43" stroke="#000" stroke-width="1.1" />
<line x1="383.40" y1="361.08" x2="380.90" y2="361.08" stroke="#000" stroke-width="1.1" />
<line x1="383.40" y1="357.37" x2="380.90" y2="357.37" stroke="#000" stroke-width="1.1" />
<line x1="383.40" y1="354.74" x2="380.90" y2="354.74" stroke="#000" stroke-width="1.1" />
<line x1="383.40" y1="352.69" x2="380.90" y2="352.69" stroke="#000" stroke-width="1.1" />
<line x1="383.40" y1="351.03" x2="380.90" y2="351.03" stroke="#000" stroke-width="1.1" />
<line x1="383.40" y1="349.61" x2="380.90" y2="349.61" stroke="#000" stroke-width="1.1" />
<line x1="383.40" y1="348.39" x2="380.90" y2="348.39" stroke="#000" stroke-width="1.1" />
<line x1="383.40" y1="347.31" x2="380.90" y2="347.31" stroke="#000" stroke-width="1.1" />
<line x1="383.40" y1="346.35" x2="378.80" y2="346.35" stroke="#000" stroke-width="1.1" />
<line x1="383.40" y1="340.01" x2="380.90" y2="340.01" stroke="#000" stroke-width="1.1" />
<line x1="383.40" y1="336.29" x2="380.90" y2="336.29" stroke="#000" stroke-width="1.1" />
<line x1="383.40" y1="333.66" x2="380.90" y2="333.66" stroke="#000" stroke-width="1.1" />
<line x1="383.40" y1="331.62" x2="380.90" y2="331.62" stroke="#000" stroke-width="1.1" />
<line x1="383.40" y1="329.95" x2="380.90" y2="329.95" stroke="#000" stroke-width="1.1" />
<line x1="383.40" y1="328.54" x2="380.90" y2="328.54" stroke="#000" stroke-width="1.1" />
<line x1="383.40" y1="327.32" x2="380.90" y2="327.32" stroke="#000" stroke-width="1.1" />
<line x1="383.40" y1="326.24" x2="380.90" y2="326.24" stroke="#000" stroke-width="1.1" />
<line x1="383.40" y1="325.27" x2="378.80" y2="325.27" stroke="#000" stroke-width="1.1" />
<line x1="383.40" y1="318.93" x2="380.90" y2="318.93" stroke="#000" stroke-width="1.1" />
<line x1="383.40" y1="315.22" x2="380.90" y2="315.22" stroke="#000" stroke-width="1.1" />
<line x1="383.40" y1="312.59" x2="380.90" y2="312.59" stroke="#000" stroke-width="1.1" />
<line x1="383.40" y1="310.54" x2="380.90" y2="310.54" stroke="#000" stroke-width="1.1" />
<line x1="383.40" y1="308.88" x2="380.90" y2="308.88" stroke="#000" stroke-width="1.1" />
<line x1="383.40" y1="307.46" x2="380.90" y2="307.46" stroke="#000" stroke-width="1.1" />
<line x1="383.40" y1="306.24" x2="380.90" y2="306.24" stroke="#000" stroke-width="1.1" />
<line x1="383.40" y1="305.16" x2="380.90" y2="305.16" stroke="#000" stroke-width="1.1" />
<line x1="383.40" y1="304.20" x2="378.80" y2="304.20" stroke="#000" stroke-width="1.1" />
<rect x="383.40" y="304.20" width="83.60" height="84.30" fill="none" stroke="#000" stroke-width="1.8" />
<text x="410.0" y="323.1" font-size="12.6" text-anchor="start" fill="#000" font-weight="normal" >Day 3</text>
<line x1="65.40" y1="501.40" x2="65.40" y2="505.60" stroke="#000" stroke-width="1.1" />
<line x1="71.69" y1="501.40" x2="71.69" y2="503.70" stroke="#000" stroke-width="1.1" />
<line x1="75.37" y1="501.40" x2="75.37" y2="503.70" stroke="#000" stroke-width="1.1" />
<line x1="77.98" y1="501.40" x2="77.98" y2="503.70" stroke="#000" stroke-width="1.1" />
<line x1="80.01" y1="501.40" x2="80.01" y2="503.70" stroke="#000" stroke-width="1.1" />
<line x1="81.66" y1="501.40" x2="81.66" y2="503.70" stroke="#000" stroke-width="1.1" />
<line x1="83.06" y1="501.40" x2="83.06" y2="503.70" stroke="#000" stroke-width="1.1" />
<line x1="84.27" y1="501.40" x2="84.27" y2="503.70" stroke="#000" stroke-width="1.1" />
<line x1="85.34" y1="501.40" x2="85.34" y2="503.70" stroke="#000" stroke-width="1.1" />
<line x1="86.30" y1="501.40" x2="86.30" y2="505.60" stroke="#000" stroke-width="1.1" />
<line x1="92.59" y1="501.40" x2="92.59" y2="503.70" stroke="#000" stroke-width="1.1" />
<line x1="96.27" y1="501.40" x2="96.27" y2="503.70" stroke="#000" stroke-width="1.1" />
<line x1="98.88" y1="501.40" x2="98.88" y2="503.70" stroke="#000" stroke-width="1.1" />
<line x1="100.91" y1="501.40" x2="100.91" y2="503.70" stroke="#000" stroke-width="1.1" />
<line x1="102.56" y1="501.40" x2="102.56" y2="503.70" stroke="#000" stroke-width="1.1" />
<line x1="103.96" y1="501.40" x2="103.96" y2="503.70" stroke="#000" stroke-width="1.1" />
<line x1="105.17" y1="501.40" x2="105.17" y2="503.70" stroke="#000" stroke-width="1.1" />
<line x1="106.24" y1="501.40" x2="106.24" y2="503.70" stroke="#000" stroke-width="1.1" />
<line x1="107.20" y1="501.40" x2="107.20" y2="505.60" stroke="#000" stroke-width="1.1" />
<line x1="113.49" y1="501.40" x2="113.49" y2="503.70" stroke="#000" stroke-width="1.1" />
<line x1="117.17" y1="501.40" x2="117.17" y2="503.70" stroke="#000" stroke-width="1.1" />
<line x1="119.78" y1="501.40" x2="119.78" y2="503.70" stroke="#000" stroke-width="1.1" />
<line x1="121.81" y1="501.40" x2="121.81" y2="503.70" stroke="#000" stroke-width="1.1" />
<line x1="123.46" y1="501.40" x2="123.46" y2="503.70" stroke="#000" stroke-width="1.1" />
<line x1="124.86" y1="501.40" x2="124.86" y2="503.70" stroke="#000" stroke-width="1.1" />
<line x1="126.07" y1="501.40" x2="126.07" y2="503.70" stroke="#000" stroke-width="1.1" />
<line x1="127.14" y1="501.40" x2="127.14" y2="503.70" stroke="#000" stroke-width="1.1" />
<line x1="128.10" y1="501.40" x2="128.10" y2="505.60" stroke="#000" stroke-width="1.1" />
<line x1="134.39" y1="501.40" x2="134.39" y2="503.70" stroke="#000" stroke-width="1.1" />
<line x1="138.07" y1="501.40" x2="138.07" y2="503.70" stroke="#000" stroke-width="1.1" />
<line x1="140.68" y1="501.40" x2="140.68" y2="503.70" stroke="#000" stroke-width="1.1" />
<line x1="142.71" y1="501.40" x2="142.71" y2="503.70" stroke="#000" stroke-width="1.1" />
<line x1="144.36" y1="501.40" x2="144.36" y2="503.70" stroke="#000" stroke-width="1.1" />
<line x1="145.76" y1="501.40" x2="145.76" y2="503.70" stroke="#000" stroke-width="1.1" />
<line x1="146.97" y1="501.40" x2="146.97" y2="503.70" stroke="#000" stroke-width="1.1" />
<line x1="148.04" y1="501.40" x2="148.04" y2="503.70" stroke="#000" stroke-width="1.1" />
<line x1="149.00" y1="501.40" x2="149.00" y2="505.60" stroke="#000" stroke-width="1.1" />
<text x="58.64" y="519.60" font-size="9.3" fill="#000">10<tspan dx="0.7" dy="-4.6" font-size="6.6">0</tspan></text>
<text x="79.54" y="519.60" font-size="9.3" fill="#000">10<tspan dx="0.7" dy="-4.6" font-size="6.6">1</tspan></text>
<text x="100.44" y="519.60" font-size="9.3" fill="#000">10<tspan dx="0.7" dy="-4.6" font-size="6.6">2</tspan></text>
<text x="121.34" y="519.60" font-size="9.3" fill="#000">10<tspan dx="0.7" dy="-4.6" font-size="6.6">3</tspan></text>
<text x="142.24" y="519.60" font-size="9.3" fill="#000">10<tspan dx="0.7" dy="-4.6" font-size="6.6">4</tspan></text>
<line x1="65.40" y1="501.40" x2="60.80" y2="501.40" stroke="#000" stroke-width="1.1" />
<line x1="65.40" y1="495.10" x2="62.90" y2="495.10" stroke="#000" stroke-width="1.1" />
<line x1="65.40" y1="491.42" x2="62.90" y2="491.42" stroke="#000" stroke-width="1.1" />
<line x1="65.40" y1="488.80" x2="62.90" y2="488.80" stroke="#000" stroke-width="1.1" />
<line x1="65.40" y1="486.77" x2="62.90" y2="486.77" stroke="#000" stroke-width="1.1" />
<line x1="65.40" y1="485.12" x2="62.90" y2="485.12" stroke="#000" stroke-width="1.1" />
<line x1="65.40" y1="483.72" x2="62.90" y2="483.72" stroke="#000" stroke-width="1.1" />
<line x1="65.40" y1="482.50" x2="62.90" y2="482.50" stroke="#000" stroke-width="1.1" />
<line x1="65.40" y1="481.43" x2="62.90" y2="481.43" stroke="#000" stroke-width="1.1" />
<line x1="65.40" y1="480.47" x2="60.80" y2="480.47" stroke="#000" stroke-width="1.1" />
<line x1="65.40" y1="474.18" x2="62.90" y2="474.18" stroke="#000" stroke-width="1.1" />
<line x1="65.40" y1="470.49" x2="62.90" y2="470.49" stroke="#000" stroke-width="1.1" />
<line x1="65.40" y1="467.88" x2="62.90" y2="467.88" stroke="#000" stroke-width="1.1" />
<line x1="65.40" y1="465.85" x2="62.90" y2="465.85" stroke="#000" stroke-width="1.1" />
<line x1="65.40" y1="464.19" x2="62.90" y2="464.19" stroke="#000" stroke-width="1.1" />
<line x1="65.40" y1="462.79" x2="62.90" y2="462.79" stroke="#000" stroke-width="1.1" />
<line x1="65.40" y1="461.58" x2="62.90" y2="461.58" stroke="#000" stroke-width="1.1" />
<line x1="65.40" y1="460.51" x2="62.90" y2="460.51" stroke="#000" stroke-width="1.1" />
<line x1="65.40" y1="459.55" x2="60.80" y2="459.55" stroke="#000" stroke-width="1.1" />
<line x1="65.40" y1="453.25" x2="62.90" y2="453.25" stroke="#000" stroke-width="1.1" />
<line x1="65.40" y1="449.57" x2="62.90" y2="449.57" stroke="#000" stroke-width="1.1" />
<line x1="65.40" y1="446.95" x2="62.90" y2="446.95" stroke="#000" stroke-width="1.1" />
<line x1="65.40" y1="444.92" x2="62.90" y2="444.92" stroke="#000" stroke-width="1.1" />
<line x1="65.40" y1="443.27" x2="62.90" y2="443.27" stroke="#000" stroke-width="1.1" />
<line x1="65.40" y1="441.87" x2="62.90" y2="441.87" stroke="#000" stroke-width="1.1" />
<line x1="65.40" y1="440.65" x2="62.90" y2="440.65" stroke="#000" stroke-width="1.1" />
<line x1="65.40" y1="439.58" x2="62.90" y2="439.58" stroke="#000" stroke-width="1.1" />
<line x1="65.40" y1="438.62" x2="60.80" y2="438.62" stroke="#000" stroke-width="1.1" />
<line x1="65.40" y1="432.33" x2="62.90" y2="432.33" stroke="#000" stroke-width="1.1" />
<line x1="65.40" y1="428.64" x2="62.90" y2="428.64" stroke="#000" stroke-width="1.1" />
<line x1="65.40" y1="426.03" x2="62.90" y2="426.03" stroke="#000" stroke-width="1.1" />
<line x1="65.40" y1="424.00" x2="62.90" y2="424.00" stroke="#000" stroke-width="1.1" />
<line x1="65.40" y1="422.34" x2="62.90" y2="422.34" stroke="#000" stroke-width="1.1" />
<line x1="65.40" y1="420.94" x2="62.90" y2="420.94" stroke="#000" stroke-width="1.1" />
<line x1="65.40" y1="419.73" x2="62.90" y2="419.73" stroke="#000" stroke-width="1.1" />
<line x1="65.40" y1="418.66" x2="62.90" y2="418.66" stroke="#000" stroke-width="1.1" />
<line x1="65.40" y1="417.70" x2="60.80" y2="417.70" stroke="#000" stroke-width="1.1" />
<text x="39.79" y="504.40" font-size="9.3" fill="#000">10<tspan dx="1.5" dy="-4.4" font-size="8.4">0</tspan></text>
<text x="39.79" y="483.47" font-size="9.3" fill="#000">10<tspan dx="1.5" dy="-4.4" font-size="8.4">1</tspan></text>
<text x="39.79" y="462.55" font-size="9.3" fill="#000">10<tspan dx="1.5" dy="-4.4" font-size="8.4">2</tspan></text>
<text x="39.79" y="441.62" font-size="9.3" fill="#000">10<tspan dx="1.5" dy="-4.4" font-size="8.4">3</tspan></text>
<text x="39.79" y="420.70" font-size="9.3" fill="#000">10<tspan dx="1.5" dy="-4.4" font-size="8.4">4</tspan></text>
<rect x="65.40" y="417.70" width="83.60" height="83.70" fill="none" stroke="#000" stroke-width="1.8" />
<text x="88.3" y="436.1" font-size="12.6" text-anchor="start" fill="#000" font-weight="normal" >Day 4</text>
<line x1="171.40" y1="501.40" x2="171.40" y2="505.60" stroke="#000" stroke-width="1.1" />
<line x1="177.69" y1="501.40" x2="177.69" y2="503.70" stroke="#000" stroke-width="1.1" />
<line x1="181.37" y1="501.40" x2="181.37" y2="503.70" stroke="#000" stroke-width="1.1" />
<line x1="183.98" y1="501.40" x2="183.98" y2="503.70" stroke="#000" stroke-width="1.1" />
<line x1="186.01" y1="501.40" x2="186.01" y2="503.70" stroke="#000" stroke-width="1.1" />
<line x1="187.66" y1="501.40" x2="187.66" y2="503.70" stroke="#000" stroke-width="1.1" />
<line x1="189.06" y1="501.40" x2="189.06" y2="503.70" stroke="#000" stroke-width="1.1" />
<line x1="190.27" y1="501.40" x2="190.27" y2="503.70" stroke="#000" stroke-width="1.1" />
<line x1="191.34" y1="501.40" x2="191.34" y2="503.70" stroke="#000" stroke-width="1.1" />
<line x1="192.30" y1="501.40" x2="192.30" y2="505.60" stroke="#000" stroke-width="1.1" />
<line x1="198.59" y1="501.40" x2="198.59" y2="503.70" stroke="#000" stroke-width="1.1" />
<line x1="202.27" y1="501.40" x2="202.27" y2="503.70" stroke="#000" stroke-width="1.1" />
<line x1="204.88" y1="501.40" x2="204.88" y2="503.70" stroke="#000" stroke-width="1.1" />
<line x1="206.91" y1="501.40" x2="206.91" y2="503.70" stroke="#000" stroke-width="1.1" />
<line x1="208.56" y1="501.40" x2="208.56" y2="503.70" stroke="#000" stroke-width="1.1" />
<line x1="209.96" y1="501.40" x2="209.96" y2="503.70" stroke="#000" stroke-width="1.1" />
<line x1="211.17" y1="501.40" x2="211.17" y2="503.70" stroke="#000" stroke-width="1.1" />
<line x1="212.24" y1="501.40" x2="212.24" y2="503.70" stroke="#000" stroke-width="1.1" />
<line x1="213.20" y1="501.40" x2="213.20" y2="505.60" stroke="#000" stroke-width="1.1" />
<line x1="219.49" y1="501.40" x2="219.49" y2="503.70" stroke="#000" stroke-width="1.1" />
<line x1="223.17" y1="501.40" x2="223.17" y2="503.70" stroke="#000" stroke-width="1.1" />
<line x1="225.78" y1="501.40" x2="225.78" y2="503.70" stroke="#000" stroke-width="1.1" />
<line x1="227.81" y1="501.40" x2="227.81" y2="503.70" stroke="#000" stroke-width="1.1" />
<line x1="229.46" y1="501.40" x2="229.46" y2="503.70" stroke="#000" stroke-width="1.1" />
<line x1="230.86" y1="501.40" x2="230.86" y2="503.70" stroke="#000" stroke-width="1.1" />
<line x1="232.07" y1="501.40" x2="232.07" y2="503.70" stroke="#000" stroke-width="1.1" />
<line x1="233.14" y1="501.40" x2="233.14" y2="503.70" stroke="#000" stroke-width="1.1" />
<line x1="234.10" y1="501.40" x2="234.10" y2="505.60" stroke="#000" stroke-width="1.1" />
<line x1="240.39" y1="501.40" x2="240.39" y2="503.70" stroke="#000" stroke-width="1.1" />
<line x1="244.07" y1="501.40" x2="244.07" y2="503.70" stroke="#000" stroke-width="1.1" />
<line x1="246.68" y1="501.40" x2="246.68" y2="503.70" stroke="#000" stroke-width="1.1" />
<line x1="248.71" y1="501.40" x2="248.71" y2="503.70" stroke="#000" stroke-width="1.1" />
<line x1="250.36" y1="501.40" x2="250.36" y2="503.70" stroke="#000" stroke-width="1.1" />
<line x1="251.76" y1="501.40" x2="251.76" y2="503.70" stroke="#000" stroke-width="1.1" />
<line x1="252.97" y1="501.40" x2="252.97" y2="503.70" stroke="#000" stroke-width="1.1" />
<line x1="254.04" y1="501.40" x2="254.04" y2="503.70" stroke="#000" stroke-width="1.1" />
<line x1="255.00" y1="501.40" x2="255.00" y2="505.60" stroke="#000" stroke-width="1.1" />
<text x="164.64" y="519.60" font-size="9.3" fill="#000">10<tspan dx="0.7" dy="-4.6" font-size="6.6">0</tspan></text>
<text x="185.54" y="519.60" font-size="9.3" fill="#000">10<tspan dx="0.7" dy="-4.6" font-size="6.6">1</tspan></text>
<text x="206.44" y="519.60" font-size="9.3" fill="#000">10<tspan dx="0.7" dy="-4.6" font-size="6.6">2</tspan></text>
<text x="227.34" y="519.60" font-size="9.3" fill="#000">10<tspan dx="0.7" dy="-4.6" font-size="6.6">3</tspan></text>
<text x="248.24" y="519.60" font-size="9.3" fill="#000">10<tspan dx="0.7" dy="-4.6" font-size="6.6">4</tspan></text>
<line x1="171.40" y1="501.40" x2="166.80" y2="501.40" stroke="#000" stroke-width="1.1" />
<line x1="171.40" y1="495.10" x2="168.90" y2="495.10" stroke="#000" stroke-width="1.1" />
<line x1="171.40" y1="491.42" x2="168.90" y2="491.42" stroke="#000" stroke-width="1.1" />
<line x1="171.40" y1="488.80" x2="168.90" y2="488.80" stroke="#000" stroke-width="1.1" />
<line x1="171.40" y1="486.77" x2="168.90" y2="486.77" stroke="#000" stroke-width="1.1" />
<line x1="171.40" y1="485.12" x2="168.90" y2="485.12" stroke="#000" stroke-width="1.1" />
<line x1="171.40" y1="483.72" x2="168.90" y2="483.72" stroke="#000" stroke-width="1.1" />
<line x1="171.40" y1="482.50" x2="168.90" y2="482.50" stroke="#000" stroke-width="1.1" />
<line x1="171.40" y1="481.43" x2="168.90" y2="481.43" stroke="#000" stroke-width="1.1" />
<line x1="171.40" y1="480.47" x2="166.80" y2="480.47" stroke="#000" stroke-width="1.1" />
<line x1="171.40" y1="474.18" x2="168.90" y2="474.18" stroke="#000" stroke-width="1.1" />
<line x1="171.40" y1="470.49" x2="168.90" y2="470.49" stroke="#000" stroke-width="1.1" />
<line x1="171.40" y1="467.88" x2="168.90" y2="467.88" stroke="#000" stroke-width="1.1" />
<line x1="171.40" y1="465.85" x2="168.90" y2="465.85" stroke="#000" stroke-width="1.1" />
<line x1="171.40" y1="464.19" x2="168.90" y2="464.19" stroke="#000" stroke-width="1.1" />
<line x1="171.40" y1="462.79" x2="168.90" y2="462.79" stroke="#000" stroke-width="1.1" />
<line x1="171.40" y1="461.58" x2="168.90" y2="461.58" stroke="#000" stroke-width="1.1" />
<line x1="171.40" y1="460.51" x2="168.90" y2="460.51" stroke="#000" stroke-width="1.1" />
<line x1="171.40" y1="459.55" x2="166.80" y2="459.55" stroke="#000" stroke-width="1.1" />
<line x1="171.40" y1="453.25" x2="168.90" y2="453.25" stroke="#000" stroke-width="1.1" />
<line x1="171.40" y1="449.57" x2="168.90" y2="449.57" stroke="#000" stroke-width="1.1" />
<line x1="171.40" y1="446.95" x2="168.90" y2="446.95" stroke="#000" stroke-width="1.1" />
<line x1="171.40" y1="444.92" x2="168.90" y2="444.92" stroke="#000" stroke-width="1.1" />
<line x1="171.40" y1="443.27" x2="168.90" y2="443.27" stroke="#000" stroke-width="1.1" />
<line x1="171.40" y1="441.87" x2="168.90" y2="441.87" stroke="#000" stroke-width="1.1" />
<line x1="171.40" y1="440.65" x2="168.90" y2="440.65" stroke="#000" stroke-width="1.1" />
<line x1="171.40" y1="439.58" x2="168.90" y2="439.58" stroke="#000" stroke-width="1.1" />
<line x1="171.40" y1="438.62" x2="166.80" y2="438.62" stroke="#000" stroke-width="1.1" />
<line x1="171.40" y1="432.33" x2="168.90" y2="432.33" stroke="#000" stroke-width="1.1" />
<line x1="171.40" y1="428.64" x2="168.90" y2="428.64" stroke="#000" stroke-width="1.1" />
<line x1="171.40" y1="426.03" x2="168.90" y2="426.03" stroke="#000" stroke-width="1.1" />
<line x1="171.40" y1="424.00" x2="168.90" y2="424.00" stroke="#000" stroke-width="1.1" />
<line x1="171.40" y1="422.34" x2="168.90" y2="422.34" stroke="#000" stroke-width="1.1" />
<line x1="171.40" y1="420.94" x2="168.90" y2="420.94" stroke="#000" stroke-width="1.1" />
<line x1="171.40" y1="419.73" x2="168.90" y2="419.73" stroke="#000" stroke-width="1.1" />
<line x1="171.40" y1="418.66" x2="168.90" y2="418.66" stroke="#000" stroke-width="1.1" />
<line x1="171.40" y1="417.70" x2="166.80" y2="417.70" stroke="#000" stroke-width="1.1" />
<rect x="171.40" y="417.70" width="83.60" height="83.70" fill="none" stroke="#000" stroke-width="1.8" />
<text x="194.5" y="436.1" font-size="12.6" text-anchor="start" fill="#000" font-weight="normal" >Day 6</text>
<line x1="277.40" y1="501.40" x2="277.40" y2="505.60" stroke="#000" stroke-width="1.1" />
<line x1="283.69" y1="501.40" x2="283.69" y2="503.70" stroke="#000" stroke-width="1.1" />
<line x1="287.37" y1="501.40" x2="287.37" y2="503.70" stroke="#000" stroke-width="1.1" />
<line x1="289.98" y1="501.40" x2="289.98" y2="503.70" stroke="#000" stroke-width="1.1" />
<line x1="292.01" y1="501.40" x2="292.01" y2="503.70" stroke="#000" stroke-width="1.1" />
<line x1="293.66" y1="501.40" x2="293.66" y2="503.70" stroke="#000" stroke-width="1.1" />
<line x1="295.06" y1="501.40" x2="295.06" y2="503.70" stroke="#000" stroke-width="1.1" />
<line x1="296.27" y1="501.40" x2="296.27" y2="503.70" stroke="#000" stroke-width="1.1" />
<line x1="297.34" y1="501.40" x2="297.34" y2="503.70" stroke="#000" stroke-width="1.1" />
<line x1="298.30" y1="501.40" x2="298.30" y2="505.60" stroke="#000" stroke-width="1.1" />
<line x1="304.59" y1="501.40" x2="304.59" y2="503.70" stroke="#000" stroke-width="1.1" />
<line x1="308.27" y1="501.40" x2="308.27" y2="503.70" stroke="#000" stroke-width="1.1" />
<line x1="310.88" y1="501.40" x2="310.88" y2="503.70" stroke="#000" stroke-width="1.1" />
<line x1="312.91" y1="501.40" x2="312.91" y2="503.70" stroke="#000" stroke-width="1.1" />
<line x1="314.56" y1="501.40" x2="314.56" y2="503.70" stroke="#000" stroke-width="1.1" />
<line x1="315.96" y1="501.40" x2="315.96" y2="503.70" stroke="#000" stroke-width="1.1" />
<line x1="317.17" y1="501.40" x2="317.17" y2="503.70" stroke="#000" stroke-width="1.1" />
<line x1="318.24" y1="501.40" x2="318.24" y2="503.70" stroke="#000" stroke-width="1.1" />
<line x1="319.20" y1="501.40" x2="319.20" y2="505.60" stroke="#000" stroke-width="1.1" />
<line x1="325.49" y1="501.40" x2="325.49" y2="503.70" stroke="#000" stroke-width="1.1" />
<line x1="329.17" y1="501.40" x2="329.17" y2="503.70" stroke="#000" stroke-width="1.1" />
<line x1="331.78" y1="501.40" x2="331.78" y2="503.70" stroke="#000" stroke-width="1.1" />
<line x1="333.81" y1="501.40" x2="333.81" y2="503.70" stroke="#000" stroke-width="1.1" />
<line x1="335.46" y1="501.40" x2="335.46" y2="503.70" stroke="#000" stroke-width="1.1" />
<line x1="336.86" y1="501.40" x2="336.86" y2="503.70" stroke="#000" stroke-width="1.1" />
<line x1="338.07" y1="501.40" x2="338.07" y2="503.70" stroke="#000" stroke-width="1.1" />
<line x1="339.14" y1="501.40" x2="339.14" y2="503.70" stroke="#000" stroke-width="1.1" />
<line x1="340.10" y1="501.40" x2="340.10" y2="505.60" stroke="#000" stroke-width="1.1" />
<line x1="346.39" y1="501.40" x2="346.39" y2="503.70" stroke="#000" stroke-width="1.1" />
<line x1="350.07" y1="501.40" x2="350.07" y2="503.70" stroke="#000" stroke-width="1.1" />
<line x1="352.68" y1="501.40" x2="352.68" y2="503.70" stroke="#000" stroke-width="1.1" />
<line x1="354.71" y1="501.40" x2="354.71" y2="503.70" stroke="#000" stroke-width="1.1" />
<line x1="356.36" y1="501.40" x2="356.36" y2="503.70" stroke="#000" stroke-width="1.1" />
<line x1="357.76" y1="501.40" x2="357.76" y2="503.70" stroke="#000" stroke-width="1.1" />
<line x1="358.97" y1="501.40" x2="358.97" y2="503.70" stroke="#000" stroke-width="1.1" />
<line x1="360.04" y1="501.40" x2="360.04" y2="503.70" stroke="#000" stroke-width="1.1" />
<line x1="361.00" y1="501.40" x2="361.00" y2="505.60" stroke="#000" stroke-width="1.1" />
<text x="270.64" y="519.60" font-size="9.3" fill="#000">10<tspan dx="0.7" dy="-4.6" font-size="6.6">0</tspan></text>
<text x="291.54" y="519.60" font-size="9.3" fill="#000">10<tspan dx="0.7" dy="-4.6" font-size="6.6">1</tspan></text>
<text x="312.44" y="519.60" font-size="9.3" fill="#000">10<tspan dx="0.7" dy="-4.6" font-size="6.6">2</tspan></text>
<text x="333.34" y="519.60" font-size="9.3" fill="#000">10<tspan dx="0.7" dy="-4.6" font-size="6.6">3</tspan></text>
<text x="354.24" y="519.60" font-size="9.3" fill="#000">10<tspan dx="0.7" dy="-4.6" font-size="6.6">4</tspan></text>
<line x1="277.40" y1="501.40" x2="272.80" y2="501.40" stroke="#000" stroke-width="1.1" />
<line x1="277.40" y1="495.10" x2="274.90" y2="495.10" stroke="#000" stroke-width="1.1" />
<line x1="277.40" y1="491.42" x2="274.90" y2="491.42" stroke="#000" stroke-width="1.1" />
<line x1="277.40" y1="488.80" x2="274.90" y2="488.80" stroke="#000" stroke-width="1.1" />
<line x1="277.40" y1="486.77" x2="274.90" y2="486.77" stroke="#000" stroke-width="1.1" />
<line x1="277.40" y1="485.12" x2="274.90" y2="485.12" stroke="#000" stroke-width="1.1" />
<line x1="277.40" y1="483.72" x2="274.90" y2="483.72" stroke="#000" stroke-width="1.1" />
<line x1="277.40" y1="482.50" x2="274.90" y2="482.50" stroke="#000" stroke-width="1.1" />
<line x1="277.40" y1="481.43" x2="274.90" y2="481.43" stroke="#000" stroke-width="1.1" />
<line x1="277.40" y1="480.47" x2="272.80" y2="480.47" stroke="#000" stroke-width="1.1" />
<line x1="277.40" y1="474.18" x2="274.90" y2="474.18" stroke="#000" stroke-width="1.1" />
<line x1="277.40" y1="470.49" x2="274.90" y2="470.49" stroke="#000" stroke-width="1.1" />
<line x1="277.40" y1="467.88" x2="274.90" y2="467.88" stroke="#000" stroke-width="1.1" />
<line x1="277.40" y1="465.85" x2="274.90" y2="465.85" stroke="#000" stroke-width="1.1" />
<line x1="277.40" y1="464.19" x2="274.90" y2="464.19" stroke="#000" stroke-width="1.1" />
<line x1="277.40" y1="462.79" x2="274.90" y2="462.79" stroke="#000" stroke-width="1.1" />
<line x1="277.40" y1="461.58" x2="274.90" y2="461.58" stroke="#000" stroke-width="1.1" />
<line x1="277.40" y1="460.51" x2="274.90" y2="460.51" stroke="#000" stroke-width="1.1" />
<line x1="277.40" y1="459.55" x2="272.80" y2="459.55" stroke="#000" stroke-width="1.1" />
<line x1="277.40" y1="453.25" x2="274.90" y2="453.25" stroke="#000" stroke-width="1.1" />
<line x1="277.40" y1="449.57" x2="274.90" y2="449.57" stroke="#000" stroke-width="1.1" />
<line x1="277.40" y1="446.95" x2="274.90" y2="446.95" stroke="#000" stroke-width="1.1" />
<line x1="277.40" y1="444.92" x2="274.90" y2="444.92" stroke="#000" stroke-width="1.1" />
<line x1="277.40" y1="443.27" x2="274.90" y2="443.27" stroke="#000" stroke-width="1.1" />
<line x1="277.40" y1="441.87" x2="274.90" y2="441.87" stroke="#000" stroke-width="1.1" />
<line x1="277.40" y1="440.65" x2="274.90" y2="440.65" stroke="#000" stroke-width="1.1" />
<line x1="277.40" y1="439.58" x2="274.90" y2="439.58" stroke="#000" stroke-width="1.1" />
<line x1="277.40" y1="438.62" x2="272.80" y2="438.62" stroke="#000" stroke-width="1.1" />
<line x1="277.40" y1="432.33" x2="274.90" y2="432.33" stroke="#000" stroke-width="1.1" />
<line x1="277.40" y1="428.64" x2="274.90" y2="428.64" stroke="#000" stroke-width="1.1" />
<line x1="277.40" y1="426.03" x2="274.90" y2="426.03" stroke="#000" stroke-width="1.1" />
<line x1="277.40" y1="424.00" x2="274.90" y2="424.00" stroke="#000" stroke-width="1.1" />
<line x1="277.40" y1="422.34" x2="274.90" y2="422.34" stroke="#000" stroke-width="1.1" />
<line x1="277.40" y1="420.94" x2="274.90" y2="420.94" stroke="#000" stroke-width="1.1" />
<line x1="277.40" y1="419.73" x2="274.90" y2="419.73" stroke="#000" stroke-width="1.1" />
<line x1="277.40" y1="418.66" x2="274.90" y2="418.66" stroke="#000" stroke-width="1.1" />
<line x1="277.40" y1="417.70" x2="272.80" y2="417.70" stroke="#000" stroke-width="1.1" />
<rect x="277.40" y="417.70" width="83.60" height="83.70" fill="none" stroke="#000" stroke-width="1.8" />
<text x="300.5" y="436.1" font-size="12.6" text-anchor="start" fill="#000" font-weight="normal" >Day 7</text>
<line x1="383.40" y1="501.40" x2="383.40" y2="505.60" stroke="#000" stroke-width="1.1" />
<line x1="389.69" y1="501.40" x2="389.69" y2="503.70" stroke="#000" stroke-width="1.1" />
<line x1="393.37" y1="501.40" x2="393.37" y2="503.70" stroke="#000" stroke-width="1.1" />
<line x1="395.98" y1="501.40" x2="395.98" y2="503.70" stroke="#000" stroke-width="1.1" />
<line x1="398.01" y1="501.40" x2="398.01" y2="503.70" stroke="#000" stroke-width="1.1" />
<line x1="399.66" y1="501.40" x2="399.66" y2="503.70" stroke="#000" stroke-width="1.1" />
<line x1="401.06" y1="501.40" x2="401.06" y2="503.70" stroke="#000" stroke-width="1.1" />
<line x1="402.27" y1="501.40" x2="402.27" y2="503.70" stroke="#000" stroke-width="1.1" />
<line x1="403.34" y1="501.40" x2="403.34" y2="503.70" stroke="#000" stroke-width="1.1" />
<line x1="404.30" y1="501.40" x2="404.30" y2="505.60" stroke="#000" stroke-width="1.1" />
<line x1="410.59" y1="501.40" x2="410.59" y2="503.70" stroke="#000" stroke-width="1.1" />
<line x1="414.27" y1="501.40" x2="414.27" y2="503.70" stroke="#000" stroke-width="1.1" />
<line x1="416.88" y1="501.40" x2="416.88" y2="503.70" stroke="#000" stroke-width="1.1" />
<line x1="418.91" y1="501.40" x2="418.91" y2="503.70" stroke="#000" stroke-width="1.1" />
<line x1="420.56" y1="501.40" x2="420.56" y2="503.70" stroke="#000" stroke-width="1.1" />
<line x1="421.96" y1="501.40" x2="421.96" y2="503.70" stroke="#000" stroke-width="1.1" />
<line x1="423.17" y1="501.40" x2="423.17" y2="503.70" stroke="#000" stroke-width="1.1" />
<line x1="424.24" y1="501.40" x2="424.24" y2="503.70" stroke="#000" stroke-width="1.1" />
<line x1="425.20" y1="501.40" x2="425.20" y2="505.60" stroke="#000" stroke-width="1.1" />
<line x1="431.49" y1="501.40" x2="431.49" y2="503.70" stroke="#000" stroke-width="1.1" />
<line x1="435.17" y1="501.40" x2="435.17" y2="503.70" stroke="#000" stroke-width="1.1" />
<line x1="437.78" y1="501.40" x2="437.78" y2="503.70" stroke="#000" stroke-width="1.1" />
<line x1="439.81" y1="501.40" x2="439.81" y2="503.70" stroke="#000" stroke-width="1.1" />
<line x1="441.46" y1="501.40" x2="441.46" y2="503.70" stroke="#000" stroke-width="1.1" />
<line x1="442.86" y1="501.40" x2="442.86" y2="503.70" stroke="#000" stroke-width="1.1" />
<line x1="444.07" y1="501.40" x2="444.07" y2="503.70" stroke="#000" stroke-width="1.1" />
<line x1="445.14" y1="501.40" x2="445.14" y2="503.70" stroke="#000" stroke-width="1.1" />
<line x1="446.10" y1="501.40" x2="446.10" y2="505.60" stroke="#000" stroke-width="1.1" />
<line x1="452.39" y1="501.40" x2="452.39" y2="503.70" stroke="#000" stroke-width="1.1" />
<line x1="456.07" y1="501.40" x2="456.07" y2="503.70" stroke="#000" stroke-width="1.1" />
<line x1="458.68" y1="501.40" x2="458.68" y2="503.70" stroke="#000" stroke-width="1.1" />
<line x1="460.71" y1="501.40" x2="460.71" y2="503.70" stroke="#000" stroke-width="1.1" />
<line x1="462.36" y1="501.40" x2="462.36" y2="503.70" stroke="#000" stroke-width="1.1" />
<line x1="463.76" y1="501.40" x2="463.76" y2="503.70" stroke="#000" stroke-width="1.1" />
<line x1="464.97" y1="501.40" x2="464.97" y2="503.70" stroke="#000" stroke-width="1.1" />
<line x1="466.04" y1="501.40" x2="466.04" y2="503.70" stroke="#000" stroke-width="1.1" />
<line x1="467.00" y1="501.40" x2="467.00" y2="505.60" stroke="#000" stroke-width="1.1" />
<text x="376.64" y="519.60" font-size="9.3" fill="#000">10<tspan dx="0.7" dy="-4.6" font-size="6.6">0</tspan></text>
<text x="397.54" y="519.60" font-size="9.3" fill="#000">10<tspan dx="0.7" dy="-4.6" font-size="6.6">1</tspan></text>
<text x="418.44" y="519.60" font-size="9.3" fill="#000">10<tspan dx="0.7" dy="-4.6" font-size="6.6">2</tspan></text>
<text x="439.34" y="519.60" font-size="9.3" fill="#000">10<tspan dx="0.7" dy="-4.6" font-size="6.6">3</tspan></text>
<text x="460.24" y="519.60" font-size="9.3" fill="#000">10<tspan dx="0.7" dy="-4.6" font-size="6.6">4</tspan></text>
<line x1="383.40" y1="501.40" x2="378.80" y2="501.40" stroke="#000" stroke-width="1.1" />
<line x1="383.40" y1="495.10" x2="380.90" y2="495.10" stroke="#000" stroke-width="1.1" />
<line x1="383.40" y1="491.42" x2="380.90" y2="491.42" stroke="#000" stroke-width="1.1" />
<line x1="383.40" y1="488.80" x2="380.90" y2="488.80" stroke="#000" stroke-width="1.1" />
<line x1="383.40" y1="486.77" x2="380.90" y2="486.77" stroke="#000" stroke-width="1.1" />
<line x1="383.40" y1="485.12" x2="380.90" y2="485.12" stroke="#000" stroke-width="1.1" />
<line x1="383.40" y1="483.72" x2="380.90" y2="483.72" stroke="#000" stroke-width="1.1" />
<line x1="383.40" y1="482.50" x2="380.90" y2="482.50" stroke="#000" stroke-width="1.1" />
<line x1="383.40" y1="481.43" x2="380.90" y2="481.43" stroke="#000" stroke-width="1.1" />
<line x1="383.40" y1="480.47" x2="378.80" y2="480.47" stroke="#000" stroke-width="1.1" />
<line x1="383.40" y1="474.18" x2="380.90" y2="474.18" stroke="#000" stroke-width="1.1" />
<line x1="383.40" y1="470.49" x2="380.90" y2="470.49" stroke="#000" stroke-width="1.1" />
<line x1="383.40" y1="467.88" x2="380.90" y2="467.88" stroke="#000" stroke-width="1.1" />
<line x1="383.40" y1="465.85" x2="380.90" y2="465.85" stroke="#000" stroke-width="1.1" />
<line x1="383.40" y1="464.19" x2="380.90" y2="464.19" stroke="#000" stroke-width="1.1" />
<line x1="383.40" y1="462.79" x2="380.90" y2="462.79" stroke="#000" stroke-width="1.1" />
<line x1="383.40" y1="461.58" x2="380.90" y2="461.58" stroke="#000" stroke-width="1.1" />
<line x1="383.40" y1="460.51" x2="380.90" y2="460.51" stroke="#000" stroke-width="1.1" />
<line x1="383.40" y1="459.55" x2="378.80" y2="459.55" stroke="#000" stroke-width="1.1" />
<line x1="383.40" y1="453.25" x2="380.90" y2="453.25" stroke="#000" stroke-width="1.1" />
<line x1="383.40" y1="449.57" x2="380.90" y2="449.57" stroke="#000" stroke-width="1.1" />
<line x1="383.40" y1="446.95" x2="380.90" y2="446.95" stroke="#000" stroke-width="1.1" />
<line x1="383.40" y1="444.92" x2="380.90" y2="444.92" stroke="#000" stroke-width="1.1" />
<line x1="383.40" y1="443.27" x2="380.90" y2="443.27" stroke="#000" stroke-width="1.1" />
<line x1="383.40" y1="441.87" x2="380.90" y2="441.87" stroke="#000" stroke-width="1.1" />
<line x1="383.40" y1="440.65" x2="380.90" y2="440.65" stroke="#000" stroke-width="1.1" />
<line x1="383.40" y1="439.58" x2="380.90" y2="439.58" stroke="#000" stroke-width="1.1" />
<line x1="383.40" y1="438.62" x2="378.80" y2="438.62" stroke="#000" stroke-width="1.1" />
<line x1="383.40" y1="432.33" x2="380.90" y2="432.33" stroke="#000" stroke-width="1.1" />
<line x1="383.40" y1="428.64" x2="380.90" y2="428.64" stroke="#000" stroke-width="1.1" />
<line x1="383.40" y1="426.03" x2="380.90" y2="426.03" stroke="#000" stroke-width="1.1" />
<line x1="383.40" y1="424.00" x2="380.90" y2="424.00" stroke="#000" stroke-width="1.1" />
<line x1="383.40" y1="422.34" x2="380.90" y2="422.34" stroke="#000" stroke-width="1.1" />
<line x1="383.40" y1="420.94" x2="380.90" y2="420.94" stroke="#000" stroke-width="1.1" />
<line x1="383.40" y1="419.73" x2="380.90" y2="419.73" stroke="#000" stroke-width="1.1" />
<line x1="383.40" y1="418.66" x2="380.90" y2="418.66" stroke="#000" stroke-width="1.1" />
<line x1="383.40" y1="417.70" x2="378.80" y2="417.70" stroke="#000" stroke-width="1.1" />
<rect x="383.40" y="417.70" width="83.60" height="83.70" fill="none" stroke="#000" stroke-width="1.8" />
<text x="406.0" y="436.1" font-size="12.6" text-anchor="start" fill="#000" font-weight="normal" >Day 8</text>
<clipPath id="cp5"><path d="M97.29,356.38 C97.92,356.94 98.39,357.77 98.60,358.70 C98.81,359.63 98.80,360.79 98.57,361.94 C98.33,363.09 97.84,364.40 97.20,365.59 C96.56,366.79 95.66,368.05 94.70,369.12 C93.75,370.18 92.59,371.20 91.46,371.97 C90.34,372.73 89.09,373.36 87.97,373.71 C86.85,374.06 85.70,374.19 84.75,374.08 C83.81,373.97 82.93,373.59 82.31,373.02 C81.68,372.46 81.21,371.63 81.00,370.70 C80.79,369.77 80.80,368.61 81.03,367.46 C81.27,366.31 81.76,365.00 82.40,363.81 C83.04,362.61 83.94,361.35 84.90,360.28 C85.85,359.22 87.01,358.20 88.14,357.43 C89.26,356.67 90.51,356.04 91.63,355.69 C92.75,355.34 93.90,355.21 94.85,355.32 C95.79,355.43 96.67,355.81 97.29,356.38Z"/></clipPath>
<g clip-path="url(#cp5)">
<path d="M97.29,356.38 C97.92,356.94 98.39,357.77 98.60,358.70 C98.81,359.63 98.80,360.79 98.57,361.94 C98.33,363.09 97.84,364.40 97.20,365.59 C96.56,366.79 95.66,368.05 94.70,369.12 C93.75,370.18 92.59,371.20 91.46,371.97 C90.34,372.73 89.09,373.36 87.97,373.71 C86.85,374.06 85.70,374.19 84.75,374.08 C83.81,373.97 82.93,373.59 82.31,373.02 C81.68,372.46 81.21,371.63 81.00,370.70 C80.79,369.77 80.80,368.61 81.03,367.46 C81.27,366.31 81.76,365.00 82.40,363.81 C83.04,362.61 83.94,361.35 84.90,360.28 C85.85,359.22 87.01,358.20 88.14,357.43 C89.26,356.67 90.51,356.04 91.63,355.69 C92.75,355.34 93.90,355.21 94.85,355.32 C95.79,355.43 96.67,355.81 97.29,356.38Z" fill="#0d0d0d"/>
<path d="M97.29,356.38 C97.92,356.94 98.39,357.77 98.60,358.70 C98.81,359.63 98.80,360.79 98.57,361.94 C98.33,363.09 97.84,364.40 97.20,365.59 C96.56,366.79 95.66,368.05 94.70,369.12 C93.75,370.18 92.59,371.20 91.46,371.97 C90.34,372.73 89.09,373.36 87.97,373.71 C86.85,374.06 85.70,374.19 84.75,374.08 C83.81,373.97 82.93,373.59 82.31,373.02 C81.68,372.46 81.21,371.63 81.00,370.70 C80.79,369.77 80.80,368.61 81.03,367.46 C81.27,366.31 81.76,365.00 82.40,363.81 C83.04,362.61 83.94,361.35 84.90,360.28 C85.85,359.22 87.01,358.20 88.14,357.43 C89.26,356.67 90.51,356.04 91.63,355.69 C92.75,355.34 93.90,355.21 94.85,355.32 C95.79,355.43 96.67,355.81 97.29,356.38Z" fill="none" stroke="#050505" stroke-width="7" stroke-linejoin="round"/>
<path d="M97.29,356.38 C97.92,356.94 98.39,357.77 98.60,358.70 C98.81,359.63 98.80,360.79 98.57,361.94 C98.33,363.09 97.84,364.40 97.20,365.59 C96.56,366.79 95.66,368.05 94.70,369.12 C93.75,370.18 92.59,371.20 91.46,371.97 C90.34,372.73 89.09,373.36 87.97,373.71 C86.85,374.06 85.70,374.19 84.75,374.08 C83.81,373.97 82.93,373.59 82.31,373.02 C81.68,372.46 81.21,371.63 81.00,370.70 C80.79,369.77 80.80,368.61 81.03,367.46 C81.27,366.31 81.76,365.00 82.40,363.81 C83.04,362.61 83.94,361.35 84.90,360.28 C85.85,359.22 87.01,358.20 88.14,357.43 C89.26,356.67 90.51,356.04 91.63,355.69 C92.75,355.34 93.90,355.21 94.85,355.32 C95.79,355.43 96.67,355.81 97.29,356.38Z" fill="none" stroke="#151515" stroke-width="3.8" stroke-linejoin="round"/>
<path d="M97.29,356.38 C97.92,356.94 98.39,357.77 98.60,358.70 C98.81,359.63 98.80,360.79 98.57,361.94 C98.33,363.09 97.84,364.40 97.20,365.59 C96.56,366.79 95.66,368.05 94.70,369.12 C93.75,370.18 92.59,371.20 91.46,371.97 C90.34,372.73 89.09,373.36 87.97,373.71 C86.85,374.06 85.70,374.19 84.75,374.08 C83.81,373.97 82.93,373.59 82.31,373.02 C81.68,372.46 81.21,371.63 81.00,370.70 C80.79,369.77 80.80,368.61 81.03,367.46 C81.27,366.31 81.76,365.00 82.40,363.81 C83.04,362.61 83.94,361.35 84.90,360.28 C85.85,359.22 87.01,358.20 88.14,357.43 C89.26,356.67 90.51,356.04 91.63,355.69 C92.75,355.34 93.90,355.21 94.85,355.32 C95.79,355.43 96.67,355.81 97.29,356.38Z" fill="none" stroke="#999" stroke-width="2.2" stroke-linejoin="round"/>
<path d="M94.90,359.08 C95.29,359.43 95.58,359.95 95.71,360.52 C95.84,361.10 95.84,361.82 95.69,362.53 C95.55,363.24 95.24,364.06 94.84,364.80 C94.44,365.54 93.89,366.32 93.30,366.98 C92.70,367.64 91.98,368.27 91.29,368.75 C90.59,369.22 89.81,369.61 89.12,369.83 C88.43,370.05 87.71,370.13 87.13,370.06 C86.54,369.99 86.00,369.75 85.61,369.40 C85.22,369.06 84.93,368.54 84.80,367.96 C84.67,367.39 84.68,366.67 84.82,365.96 C84.97,365.24 85.27,364.43 85.67,363.69 C86.07,362.95 86.62,362.16 87.22,361.51 C87.81,360.85 88.53,360.21 89.22,359.74 C89.92,359.27 90.70,358.88 91.39,358.66 C92.08,358.44 92.80,358.36 93.39,358.43 C93.97,358.50 94.51,358.73 94.90,359.08Z" fill="none" stroke="#9a9a9a" stroke-width="0.65"/>
<path d="M93.64,360.51 C93.91,360.74 94.10,361.09 94.19,361.48 C94.28,361.87 94.28,362.36 94.18,362.84 C94.08,363.33 93.87,363.88 93.60,364.38 C93.33,364.88 92.96,365.41 92.56,365.86 C92.15,366.30 91.67,366.73 91.19,367.06 C90.72,367.38 90.20,367.64 89.73,367.79 C89.26,367.94 88.77,367.99 88.38,367.94 C87.98,367.90 87.61,367.74 87.35,367.50 C87.09,367.26 86.89,366.91 86.80,366.52 C86.71,366.13 86.72,365.65 86.81,365.16 C86.91,364.68 87.12,364.13 87.39,363.63 C87.66,363.13 88.03,362.60 88.44,362.15 C88.84,361.70 89.33,361.27 89.80,360.95 C90.27,360.63 90.80,360.37 91.27,360.22 C91.73,360.07 92.22,360.02 92.62,360.06 C93.01,360.11 93.38,360.27 93.64,360.51Z" fill="none" stroke="#b0b0b0" stroke-width="0.65"/>
<path d="M92.51,361.79 C92.66,361.93 92.77,362.13 92.82,362.35 C92.88,362.57 92.87,362.85 92.82,363.12 C92.76,363.40 92.64,363.72 92.49,364.00 C92.33,364.29 92.12,364.59 91.89,364.85 C91.66,365.10 91.38,365.35 91.11,365.53 C90.84,365.72 90.54,365.87 90.27,365.95 C90.00,366.03 89.73,366.07 89.50,366.04 C89.27,366.01 89.06,365.92 88.91,365.79 C88.76,365.65 88.65,365.45 88.60,365.23 C88.55,365.01 88.55,364.73 88.61,364.45 C88.66,364.18 88.78,363.86 88.94,363.57 C89.09,363.29 89.31,362.98 89.53,362.73 C89.76,362.47 90.04,362.23 90.31,362.04 C90.58,361.86 90.88,361.71 91.15,361.63 C91.42,361.54 91.70,361.51 91.92,361.54 C92.15,361.56 92.36,361.66 92.51,361.79Z" fill="none" stroke="#9a9a9a" stroke-width="0.65"/>
<path d="M91.63,362.79 C91.69,362.84 91.74,362.93 91.76,363.02 C91.78,363.11 91.78,363.23 91.76,363.34 C91.73,363.46 91.68,363.59 91.62,363.71 C91.56,363.83 91.47,363.96 91.37,364.06 C91.27,364.17 91.16,364.27 91.05,364.35 C90.93,364.42 90.81,364.49 90.70,364.52 C90.59,364.56 90.47,364.57 90.38,364.56 C90.28,364.55 90.19,364.51 90.13,364.45 C90.07,364.40 90.02,364.31 90.00,364.22 C89.98,364.13 89.98,364.01 90.00,363.90 C90.03,363.78 90.08,363.65 90.14,363.53 C90.20,363.41 90.29,363.28 90.39,363.18 C90.49,363.07 90.60,362.97 90.71,362.89 C90.83,362.82 90.95,362.75 91.06,362.72 C91.17,362.68 91.29,362.67 91.38,362.68 C91.48,362.69 91.57,362.73 91.63,362.79Z" fill="#555"/>
</g>
<clipPath id="cp6"><path d="M189.50,367.00 C189.83,365.50 190.92,363.33 192.00,362.00 C193.08,360.67 194.33,359.75 196.00,359.00 C197.67,358.25 200.17,357.50 202.00,357.50 C203.83,357.50 205.25,358.17 207.00,359.00 C208.75,359.83 211.83,361.33 212.50,362.50 C213.17,363.67 211.58,364.58 211.00,366.00 C210.42,367.42 209.83,369.83 209.00,371.00 C208.17,372.17 207.00,372.33 206.00,373.00 C205.00,373.67 204.17,374.00 203.00,375.00 C201.83,376.00 200.17,378.08 199.00,379.00 C197.83,379.92 197.00,380.67 196.00,380.50 C195.00,380.33 193.67,379.08 193.00,378.00 C192.33,376.92 192.50,375.17 192.00,374.00 C191.50,372.83 190.42,372.17 190.00,371.00 C189.58,369.83 189.17,368.50 189.50,367.00Z"/></clipPath>
<g clip-path="url(#cp6)">
<path d="M189.50,367.00 C189.83,365.50 190.92,363.33 192.00,362.00 C193.08,360.67 194.33,359.75 196.00,359.00 C197.67,358.25 200.17,357.50 202.00,357.50 C203.83,357.50 205.25,358.17 207.00,359.00 C208.75,359.83 211.83,361.33 212.50,362.50 C213.17,363.67 211.58,364.58 211.00,366.00 C210.42,367.42 209.83,369.83 209.00,371.00 C208.17,372.17 207.00,372.33 206.00,373.00 C205.00,373.67 204.17,374.00 203.00,375.00 C201.83,376.00 200.17,378.08 199.00,379.00 C197.83,379.92 197.00,380.67 196.00,380.50 C195.00,380.33 193.67,379.08 193.00,378.00 C192.33,376.92 192.50,375.17 192.00,374.00 C191.50,372.83 190.42,372.17 190.00,371.00 C189.58,369.83 189.17,368.50 189.50,367.00Z" fill="#0d0d0d"/>
<path d="M189.50,367.00 C189.83,365.50 190.92,363.33 192.00,362.00 C193.08,360.67 194.33,359.75 196.00,359.00 C197.67,358.25 200.17,357.50 202.00,357.50 C203.83,357.50 205.25,358.17 207.00,359.00 C208.75,359.83 211.83,361.33 212.50,362.50 C213.17,363.67 211.58,364.58 211.00,366.00 C210.42,367.42 209.83,369.83 209.00,371.00 C208.17,372.17 207.00,372.33 206.00,373.00 C205.00,373.67 204.17,374.00 203.00,375.00 C201.83,376.00 200.17,378.08 199.00,379.00 C197.83,379.92 197.00,380.67 196.00,380.50 C195.00,380.33 193.67,379.08 193.00,378.00 C192.33,376.92 192.50,375.17 192.00,374.00 C191.50,372.83 190.42,372.17 190.00,371.00 C189.58,369.83 189.17,368.50 189.50,367.00Z" fill="none" stroke="#050505" stroke-width="7" stroke-linejoin="round"/>
<path d="M189.50,367.00 C189.83,365.50 190.92,363.33 192.00,362.00 C193.08,360.67 194.33,359.75 196.00,359.00 C197.67,358.25 200.17,357.50 202.00,357.50 C203.83,357.50 205.25,358.17 207.00,359.00 C208.75,359.83 211.83,361.33 212.50,362.50 C213.17,363.67 211.58,364.58 211.00,366.00 C210.42,367.42 209.83,369.83 209.00,371.00 C208.17,372.17 207.00,372.33 206.00,373.00 C205.00,373.67 204.17,374.00 203.00,375.00 C201.83,376.00 200.17,378.08 199.00,379.00 C197.83,379.92 197.00,380.67 196.00,380.50 C195.00,380.33 193.67,379.08 193.00,378.00 C192.33,376.92 192.50,375.17 192.00,374.00 C191.50,372.83 190.42,372.17 190.00,371.00 C189.58,369.83 189.17,368.50 189.50,367.00Z" fill="none" stroke="#151515" stroke-width="3.8" stroke-linejoin="round"/>
<path d="M189.50,367.00 C189.83,365.50 190.92,363.33 192.00,362.00 C193.08,360.67 194.33,359.75 196.00,359.00 C197.67,358.25 200.17,357.50 202.00,357.50 C203.83,357.50 205.25,358.17 207.00,359.00 C208.75,359.83 211.83,361.33 212.50,362.50 C213.17,363.67 211.58,364.58 211.00,366.00 C210.42,367.42 209.83,369.83 209.00,371.00 C208.17,372.17 207.00,372.33 206.00,373.00 C205.00,373.67 204.17,374.00 203.00,375.00 C201.83,376.00 200.17,378.08 199.00,379.00 C197.83,379.92 197.00,380.67 196.00,380.50 C195.00,380.33 193.67,379.08 193.00,378.00 C192.33,376.92 192.50,375.17 192.00,374.00 C191.50,372.83 190.42,372.17 190.00,371.00 C189.58,369.83 189.17,368.50 189.50,367.00Z" fill="none" stroke="#999" stroke-width="2.2" stroke-linejoin="round"/>
<path d="M193.30,366.62 C193.51,365.69 194.18,364.35 194.85,363.52 C195.52,362.69 196.30,362.12 197.33,361.66 C198.36,361.20 199.91,360.73 201.05,360.73 C202.19,360.73 203.06,361.14 204.15,361.66 C205.24,362.18 207.15,363.11 207.56,363.83 C207.97,364.55 206.99,365.12 206.63,366.00 C206.27,366.88 205.91,368.38 205.39,369.10 C204.87,369.82 204.15,369.93 203.53,370.34 C202.91,370.75 202.39,370.96 201.67,371.58 C200.95,372.20 199.91,373.49 199.19,374.06 C198.47,374.63 197.95,375.09 197.33,374.99 C196.71,374.89 195.88,374.11 195.47,373.44 C195.06,372.77 195.16,371.68 194.85,370.96 C194.54,370.24 193.87,369.82 193.61,369.10 C193.35,368.38 193.09,367.55 193.30,366.62Z" fill="none" stroke="#9a9a9a" stroke-width="0.65"/>
<path d="M195.30,366.42 C195.44,365.79 195.89,364.88 196.35,364.32 C196.81,363.76 197.33,363.38 198.03,363.06 C198.73,362.75 199.78,362.43 200.55,362.43 C201.32,362.43 201.92,362.71 202.65,363.06 C203.38,363.41 204.68,364.04 204.96,364.53 C205.24,365.02 204.58,365.40 204.33,366.00 C204.09,366.60 203.84,367.61 203.49,368.10 C203.14,368.59 202.65,368.66 202.23,368.94 C201.81,369.22 201.46,369.36 200.97,369.78 C200.48,370.20 199.78,371.07 199.29,371.46 C198.80,371.84 198.45,372.16 198.03,372.09 C197.61,372.02 197.05,371.50 196.77,371.04 C196.49,370.59 196.56,369.85 196.35,369.36 C196.14,368.87 195.69,368.59 195.51,368.10 C195.33,367.61 195.16,367.05 195.30,366.42Z" fill="none" stroke="#b0b0b0" stroke-width="0.65"/>
<path d="M197.10,366.24 C197.18,365.88 197.44,365.36 197.70,365.04 C197.96,364.72 198.26,364.50 198.66,364.32 C199.06,364.14 199.66,363.96 200.10,363.96 C200.54,363.96 200.88,364.12 201.30,364.32 C201.72,364.52 202.46,364.88 202.62,365.16 C202.78,365.44 202.40,365.66 202.26,366.00 C202.12,366.34 201.98,366.92 201.78,367.20 C201.58,367.48 201.30,367.52 201.06,367.68 C200.82,367.84 200.62,367.92 200.34,368.16 C200.06,368.40 199.66,368.90 199.38,369.12 C199.10,369.34 198.90,369.52 198.66,369.48 C198.42,369.44 198.10,369.14 197.94,368.88 C197.78,368.62 197.82,368.20 197.70,367.92 C197.58,367.64 197.32,367.48 197.22,367.20 C197.12,366.92 197.02,366.60 197.10,366.24Z" fill="none" stroke="#9a9a9a" stroke-width="0.65"/>
<path d="M198.50,366.10 C198.53,365.95 198.64,365.73 198.75,365.60 C198.86,365.47 198.98,365.38 199.15,365.30 C199.32,365.23 199.57,365.15 199.75,365.15 C199.93,365.15 200.07,365.22 200.25,365.30 C200.43,365.38 200.73,365.53 200.80,365.65 C200.87,365.77 200.71,365.86 200.65,366.00 C200.59,366.14 200.53,366.38 200.45,366.50 C200.37,366.62 200.25,366.63 200.15,366.70 C200.05,366.77 199.97,366.80 199.85,366.90 C199.73,367.00 199.57,367.21 199.45,367.30 C199.33,367.39 199.25,367.47 199.15,367.45 C199.05,367.43 198.92,367.31 198.85,367.20 C198.78,367.09 198.80,366.92 198.75,366.80 C198.70,366.68 198.59,366.62 198.55,366.50 C198.51,366.38 198.47,366.25 198.50,366.10Z" fill="#555"/>
</g>
<clipPath id="cp7"><path d="M298.50,368.00 C298.50,366.33 298.92,364.00 300.00,362.00 C301.08,360.00 303.25,357.55 305.00,356.00 C306.75,354.45 308.67,352.87 310.50,352.70 C312.33,352.53 314.25,353.62 316.00,355.00 C317.75,356.38 320.10,358.83 321.00,361.00 C321.90,363.17 321.90,365.50 321.40,368.00 C320.90,370.50 319.23,374.03 318.00,376.00 C316.77,377.97 315.67,379.47 314.00,379.80 C312.33,380.13 310.00,378.63 308.00,378.00 C306.00,377.37 303.33,377.00 302.00,376.00 C300.67,375.00 300.58,373.33 300.00,372.00 C299.42,370.67 298.50,369.67 298.50,368.00Z"/></clipPath>
<g clip-path="url(#cp7)">
<path d="M298.50,368.00 C298.50,366.33 298.92,364.00 300.00,362.00 C301.08,360.00 303.25,357.55 305.00,356.00 C306.75,354.45 308.67,352.87 310.50,352.70 C312.33,352.53 314.25,353.62 316.00,355.00 C317.75,356.38 320.10,358.83 321.00,361.00 C321.90,363.17 321.90,365.50 321.40,368.00 C320.90,370.50 319.23,374.03 318.00,376.00 C316.77,377.97 315.67,379.47 314.00,379.80 C312.33,380.13 310.00,378.63 308.00,378.00 C306.00,377.37 303.33,377.00 302.00,376.00 C300.67,375.00 300.58,373.33 300.00,372.00 C299.42,370.67 298.50,369.67 298.50,368.00Z" fill="#0d0d0d"/>
<path d="M298.50,368.00 C298.50,366.33 298.92,364.00 300.00,362.00 C301.08,360.00 303.25,357.55 305.00,356.00 C306.75,354.45 308.67,352.87 310.50,352.70 C312.33,352.53 314.25,353.62 316.00,355.00 C317.75,356.38 320.10,358.83 321.00,361.00 C321.90,363.17 321.90,365.50 321.40,368.00 C320.90,370.50 319.23,374.03 318.00,376.00 C316.77,377.97 315.67,379.47 314.00,379.80 C312.33,380.13 310.00,378.63 308.00,378.00 C306.00,377.37 303.33,377.00 302.00,376.00 C300.67,375.00 300.58,373.33 300.00,372.00 C299.42,370.67 298.50,369.67 298.50,368.00Z" fill="none" stroke="#050505" stroke-width="7" stroke-linejoin="round"/>
<path d="M298.50,368.00 C298.50,366.33 298.92,364.00 300.00,362.00 C301.08,360.00 303.25,357.55 305.00,356.00 C306.75,354.45 308.67,352.87 310.50,352.70 C312.33,352.53 314.25,353.62 316.00,355.00 C317.75,356.38 320.10,358.83 321.00,361.00 C321.90,363.17 321.90,365.50 321.40,368.00 C320.90,370.50 319.23,374.03 318.00,376.00 C316.77,377.97 315.67,379.47 314.00,379.80 C312.33,380.13 310.00,378.63 308.00,378.00 C306.00,377.37 303.33,377.00 302.00,376.00 C300.67,375.00 300.58,373.33 300.00,372.00 C299.42,370.67 298.50,369.67 298.50,368.00Z" fill="none" stroke="#151515" stroke-width="3.8" stroke-linejoin="round"/>
<path d="M298.50,368.00 C298.50,366.33 298.92,364.00 300.00,362.00 C301.08,360.00 303.25,357.55 305.00,356.00 C306.75,354.45 308.67,352.87 310.50,352.70 C312.33,352.53 314.25,353.62 316.00,355.00 C317.75,356.38 320.10,358.83 321.00,361.00 C321.90,363.17 321.90,365.50 321.40,368.00 C320.90,370.50 319.23,374.03 318.00,376.00 C316.77,377.97 315.67,379.47 314.00,379.80 C312.33,380.13 310.00,378.63 308.00,378.00 C306.00,377.37 303.33,377.00 302.00,376.00 C300.67,375.00 300.58,373.33 300.00,372.00 C299.42,370.67 298.50,369.67 298.50,368.00Z" fill="none" stroke="#999" stroke-width="2.2" stroke-linejoin="round"/>
<path d="M303.25,366.86 C303.25,365.83 303.51,364.38 304.18,363.14 C304.85,361.90 306.19,360.38 307.28,359.42 C308.36,358.46 309.55,357.48 310.69,357.37 C311.83,357.27 313.02,357.94 314.10,358.80 C315.19,359.66 316.64,361.18 317.20,362.52 C317.76,363.86 317.76,365.31 317.45,366.86 C317.14,368.41 316.10,370.60 315.34,371.82 C314.58,373.04 313.89,373.97 312.86,374.18 C311.83,374.38 310.38,373.45 309.14,373.06 C307.90,372.67 306.25,372.44 305.42,371.82 C304.59,371.20 304.54,370.17 304.18,369.34 C303.82,368.51 303.25,367.89 303.25,366.86Z" fill="none" stroke="#9a9a9a" stroke-width="0.65"/>
<path d="M305.75,366.26 C305.75,365.56 305.93,364.58 306.38,363.74 C306.83,362.90 307.75,361.87 308.48,361.22 C309.22,360.57 310.02,359.90 310.79,359.83 C311.56,359.76 312.37,360.22 313.10,360.80 C313.84,361.38 314.82,362.41 315.20,363.32 C315.58,364.23 315.58,365.21 315.37,366.26 C315.16,367.31 314.46,368.79 313.94,369.62 C313.42,370.45 312.96,371.08 312.26,371.22 C311.56,371.36 310.58,370.73 309.74,370.46 C308.90,370.19 307.78,370.04 307.22,369.62 C306.66,369.20 306.62,368.50 306.38,367.94 C306.13,367.38 305.75,366.96 305.75,366.26Z" fill="none" stroke="#b0b0b0" stroke-width="0.65"/>
<path d="M308.00,365.72 C308.00,365.32 308.10,364.76 308.36,364.28 C308.62,363.80 309.14,363.21 309.56,362.84 C309.98,362.47 310.44,362.09 310.88,362.05 C311.32,362.01 311.78,362.27 312.20,362.60 C312.62,362.93 313.18,363.52 313.40,364.04 C313.62,364.56 313.62,365.12 313.50,365.72 C313.38,366.32 312.98,367.17 312.68,367.64 C312.38,368.11 312.12,368.47 311.72,368.55 C311.32,368.63 310.76,368.27 310.28,368.12 C309.80,367.97 309.16,367.88 308.84,367.64 C308.52,367.40 308.50,367.00 308.36,366.68 C308.22,366.36 308.00,366.12 308.00,365.72Z" fill="none" stroke="#9a9a9a" stroke-width="0.65"/>
<path d="M309.75,365.30 C309.75,365.13 309.79,364.90 309.90,364.70 C310.01,364.50 310.22,364.25 310.40,364.10 C310.57,363.95 310.77,363.79 310.95,363.77 C311.13,363.75 311.32,363.86 311.50,364.00 C311.68,364.14 311.91,364.38 312.00,364.60 C312.09,364.82 312.09,365.05 312.04,365.30 C311.99,365.55 311.82,365.90 311.70,366.10 C311.58,366.30 311.47,366.45 311.30,366.48 C311.13,366.51 310.90,366.36 310.70,366.30 C310.50,366.24 310.23,366.20 310.10,366.10 C309.97,366.00 309.96,365.83 309.90,365.70 C309.84,365.57 309.75,365.47 309.75,365.30Z" fill="#555"/>
</g>
<clipPath id="cp8"><path d="M401.50,370.50 C401.58,369.58 402.25,368.17 403.00,367.00 C403.75,365.83 405.33,365.00 406.00,363.50 C406.67,362.00 406.17,359.75 407.00,358.00 C407.83,356.25 409.50,354.25 411.00,353.00 C412.50,351.75 414.50,350.75 416.00,350.50 C417.50,350.25 418.33,351.42 420.00,351.50 C421.67,351.58 424.17,350.58 426.00,351.00 C427.83,351.42 429.80,352.83 431.00,354.00 C432.20,355.17 433.20,356.50 433.20,358.00 C433.20,359.50 432.03,361.50 431.00,363.00 C429.97,364.50 428.67,365.92 427.00,367.00 C425.33,368.08 423.00,369.17 421.00,369.50 C419.00,369.83 416.83,369.42 415.00,369.00 C413.17,368.58 411.67,366.75 410.00,367.00 C408.33,367.25 406.25,369.58 405.00,370.50 C403.75,371.42 403.08,372.50 402.50,372.50 C401.92,372.50 401.42,371.42 401.50,370.50Z"/></clipPath>
<g clip-path="url(#cp8)">
<path d="M401.50,370.50 C401.58,369.58 402.25,368.17 403.00,367.00 C403.75,365.83 405.33,365.00 406.00,363.50 C406.67,362.00 406.17,359.75 407.00,358.00 C407.83,356.25 409.50,354.25 411.00,353.00 C412.50,351.75 414.50,350.75 416.00,350.50 C417.50,350.25 418.33,351.42 420.00,351.50 C421.67,351.58 424.17,350.58 426.00,351.00 C427.83,351.42 429.80,352.83 431.00,354.00 C432.20,355.17 433.20,356.50 433.20,358.00 C433.20,359.50 432.03,361.50 431.00,363.00 C429.97,364.50 428.67,365.92 427.00,367.00 C425.33,368.08 423.00,369.17 421.00,369.50 C419.00,369.83 416.83,369.42 415.00,369.00 C413.17,368.58 411.67,366.75 410.00,367.00 C408.33,367.25 406.25,369.58 405.00,370.50 C403.75,371.42 403.08,372.50 402.50,372.50 C401.92,372.50 401.42,371.42 401.50,370.50Z" fill="#0d0d0d"/>
<path d="M401.50,370.50 C401.58,369.58 402.25,368.17 403.00,367.00 C403.75,365.83 405.33,365.00 406.00,363.50 C406.67,362.00 406.17,359.75 407.00,358.00 C407.83,356.25 409.50,354.25 411.00,353.00 C412.50,351.75 414.50,350.75 416.00,350.50 C417.50,350.25 418.33,351.42 420.00,351.50 C421.67,351.58 424.17,350.58 426.00,351.00 C427.83,351.42 429.80,352.83 431.00,354.00 C432.20,355.17 433.20,356.50 433.20,358.00 C433.20,359.50 432.03,361.50 431.00,363.00 C429.97,364.50 428.67,365.92 427.00,367.00 C425.33,368.08 423.00,369.17 421.00,369.50 C419.00,369.83 416.83,369.42 415.00,369.00 C413.17,368.58 411.67,366.75 410.00,367.00 C408.33,367.25 406.25,369.58 405.00,370.50 C403.75,371.42 403.08,372.50 402.50,372.50 C401.92,372.50 401.42,371.42 401.50,370.50Z" fill="none" stroke="#050505" stroke-width="7" stroke-linejoin="round"/>
<path d="M401.50,370.50 C401.58,369.58 402.25,368.17 403.00,367.00 C403.75,365.83 405.33,365.00 406.00,363.50 C406.67,362.00 406.17,359.75 407.00,358.00 C407.83,356.25 409.50,354.25 411.00,353.00 C412.50,351.75 414.50,350.75 416.00,350.50 C417.50,350.25 418.33,351.42 420.00,351.50 C421.67,351.58 424.17,350.58 426.00,351.00 C427.83,351.42 429.80,352.83 431.00,354.00 C432.20,355.17 433.20,356.50 433.20,358.00 C433.20,359.50 432.03,361.50 431.00,363.00 C429.97,364.50 428.67,365.92 427.00,367.00 C425.33,368.08 423.00,369.17 421.00,369.50 C419.00,369.83 416.83,369.42 415.00,369.00 C413.17,368.58 411.67,366.75 410.00,367.00 C408.33,367.25 406.25,369.58 405.00,370.50 C403.75,371.42 403.08,372.50 402.50,372.50 C401.92,372.50 401.42,371.42 401.50,370.50Z" fill="none" stroke="#151515" stroke-width="3.8" stroke-linejoin="round"/>
<path d="M401.50,370.50 C401.58,369.58 402.25,368.17 403.00,367.00 C403.75,365.83 405.33,365.00 406.00,363.50 C406.67,362.00 406.17,359.75 407.00,358.00 C407.83,356.25 409.50,354.25 411.00,353.00 C412.50,351.75 414.50,350.75 416.00,350.50 C417.50,350.25 418.33,351.42 420.00,351.50 C421.67,351.58 424.17,350.58 426.00,351.00 C427.83,351.42 429.80,352.83 431.00,354.00 C432.20,355.17 433.20,356.50 433.20,358.00 C433.20,359.50 432.03,361.50 431.00,363.00 C429.97,364.50 428.67,365.92 427.00,367.00 C425.33,368.08 423.00,369.17 421.00,369.50 C419.00,369.83 416.83,369.42 415.00,369.00 C413.17,368.58 411.67,366.75 410.00,367.00 C408.33,367.25 406.25,369.58 405.00,370.50 C403.75,371.42 403.08,372.50 402.50,372.50 C401.92,372.50 401.42,371.42 401.50,370.50Z" fill="none" stroke="#999" stroke-width="2.2" stroke-linejoin="round"/>
<path d="M408.91,366.13 C408.96,365.56 409.38,364.68 409.84,363.96 C410.30,363.24 411.29,362.72 411.70,361.79 C412.11,360.86 411.80,359.47 412.32,358.38 C412.84,357.29 413.87,356.05 414.80,355.28 C415.73,354.50 416.97,353.88 417.90,353.73 C418.83,353.58 419.35,354.30 420.38,354.35 C421.41,354.40 422.96,353.78 424.10,354.04 C425.24,354.30 426.46,355.18 427.20,355.90 C427.94,356.62 428.56,357.45 428.56,358.38 C428.56,359.31 427.84,360.55 427.20,361.48 C426.56,362.41 425.75,363.29 424.72,363.96 C423.69,364.63 422.24,365.30 421.00,365.51 C419.76,365.72 418.42,365.46 417.28,365.20 C416.14,364.94 415.21,363.80 414.18,363.96 C413.15,364.12 411.86,365.56 411.08,366.13 C410.30,366.70 409.89,367.37 409.53,367.37 C409.17,367.37 408.86,366.70 408.91,366.13Z" fill="none" stroke="#9a9a9a" stroke-width="0.65"/>
<path d="M412.81,363.83 C412.85,363.44 413.12,362.85 413.44,362.36 C413.75,361.87 414.42,361.52 414.70,360.89 C414.98,360.26 414.77,359.31 415.12,358.58 C415.47,357.84 416.17,357.00 416.80,356.48 C417.43,355.96 418.27,355.54 418.90,355.43 C419.53,355.32 419.88,355.82 420.58,355.85 C421.28,355.88 422.33,355.46 423.10,355.64 C423.87,355.81 424.70,356.41 425.20,356.90 C425.70,357.39 426.12,357.95 426.12,358.58 C426.12,359.21 425.63,360.05 425.20,360.68 C424.77,361.31 424.22,361.91 423.52,362.36 C422.82,362.81 421.84,363.27 421.00,363.41 C420.16,363.55 419.25,363.38 418.48,363.20 C417.71,363.02 417.08,362.25 416.38,362.36 C415.68,362.47 414.80,363.44 414.28,363.83 C413.75,364.21 413.48,364.67 413.23,364.67 C412.99,364.67 412.77,364.21 412.81,363.83Z" fill="none" stroke="#b0b0b0" stroke-width="0.65"/>
<path d="M416.32,361.76 C416.34,361.54 416.50,361.20 416.68,360.92 C416.86,360.64 417.24,360.44 417.40,360.08 C417.56,359.72 417.44,359.18 417.64,358.76 C417.84,358.34 418.24,357.86 418.60,357.56 C418.96,357.26 419.44,357.02 419.80,356.96 C420.16,356.90 420.36,357.18 420.76,357.20 C421.16,357.22 421.76,356.98 422.20,357.08 C422.64,357.18 423.11,357.52 423.40,357.80 C423.69,358.08 423.93,358.40 423.93,358.76 C423.93,359.12 423.65,359.60 423.40,359.96 C423.15,360.32 422.84,360.66 422.44,360.92 C422.04,361.18 421.48,361.44 421.00,361.52 C420.52,361.60 420.00,361.50 419.56,361.40 C419.12,361.30 418.76,360.86 418.36,360.92 C417.96,360.98 417.46,361.54 417.16,361.76 C416.86,361.98 416.70,362.24 416.56,362.24 C416.42,362.24 416.30,361.98 416.32,361.76Z" fill="none" stroke="#9a9a9a" stroke-width="0.65"/>
<path d="M419.05,360.15 C419.06,360.06 419.12,359.92 419.20,359.80 C419.27,359.68 419.43,359.60 419.50,359.45 C419.57,359.30 419.52,359.07 419.60,358.90 C419.68,358.72 419.85,358.52 420.00,358.40 C420.15,358.27 420.35,358.17 420.50,358.15 C420.65,358.12 420.73,358.24 420.90,358.25 C421.07,358.26 421.32,358.16 421.50,358.20 C421.68,358.24 421.88,358.38 422.00,358.50 C422.12,358.62 422.22,358.75 422.22,358.90 C422.22,359.05 422.10,359.25 422.00,359.40 C421.90,359.55 421.77,359.69 421.60,359.80 C421.43,359.91 421.20,360.02 421.00,360.05 C420.80,360.08 420.58,360.04 420.40,360.00 C420.22,359.96 420.07,359.78 419.90,359.80 C419.73,359.82 419.52,360.06 419.40,360.15 C419.27,360.24 419.21,360.35 419.15,360.35 C419.09,360.35 419.04,360.24 419.05,360.15Z" fill="#555"/>
</g>
<path d="M97.2,472.5 Q96.2,466 97.6,462.2 Q99.4,460.6 100.6,462.4 Q101.4,466.5 101,471 Z" fill="#080808"/>
<path d="M96.5,473.5 Q93.2,470.5 92.4,467.8 Q93.6,466.4 95.8,467.8 Q97.5,469.5 97.8,472 Z" fill="#080808"/>
<clipPath id="cp9"><path d="M94.60,476.00 C94.73,474.75 95.03,473.37 95.60,472.50 C96.17,471.63 97.02,471.12 98.00,470.80 C98.98,470.48 100.42,470.32 101.50,470.60 C102.58,470.88 103.68,471.52 104.50,472.50 C105.32,473.48 106.12,475.08 106.40,476.50 C106.68,477.92 106.63,479.72 106.20,481.00 C105.77,482.28 104.83,483.57 103.80,484.20 C102.77,484.83 101.22,484.97 100.00,484.80 C98.78,484.63 97.37,484.00 96.50,483.20 C95.63,482.40 95.12,481.20 94.80,480.00 C94.48,478.80 94.47,477.25 94.60,476.00Z"/></clipPath>
<g clip-path="url(#cp9)">
<path d="M94.60,476.00 C94.73,474.75 95.03,473.37 95.60,472.50 C96.17,471.63 97.02,471.12 98.00,470.80 C98.98,470.48 100.42,470.32 101.50,470.60 C102.58,470.88 103.68,471.52 104.50,472.50 C105.32,473.48 106.12,475.08 106.40,476.50 C106.68,477.92 106.63,479.72 106.20,481.00 C105.77,482.28 104.83,483.57 103.80,484.20 C102.77,484.83 101.22,484.97 100.00,484.80 C98.78,484.63 97.37,484.00 96.50,483.20 C95.63,482.40 95.12,481.20 94.80,480.00 C94.48,478.80 94.47,477.25 94.60,476.00Z" fill="#0d0d0d"/>
<path d="M94.60,476.00 C94.73,474.75 95.03,473.37 95.60,472.50 C96.17,471.63 97.02,471.12 98.00,470.80 C98.98,470.48 100.42,470.32 101.50,470.60 C102.58,470.88 103.68,471.52 104.50,472.50 C105.32,473.48 106.12,475.08 106.40,476.50 C106.68,477.92 106.63,479.72 106.20,481.00 C105.77,482.28 104.83,483.57 103.80,484.20 C102.77,484.83 101.22,484.97 100.00,484.80 C98.78,484.63 97.37,484.00 96.50,483.20 C95.63,482.40 95.12,481.20 94.80,480.00 C94.48,478.80 94.47,477.25 94.60,476.00Z" fill="none" stroke="#050505" stroke-width="7" stroke-linejoin="round"/>
<path d="M94.60,476.00 C94.73,474.75 95.03,473.37 95.60,472.50 C96.17,471.63 97.02,471.12 98.00,470.80 C98.98,470.48 100.42,470.32 101.50,470.60 C102.58,470.88 103.68,471.52 104.50,472.50 C105.32,473.48 106.12,475.08 106.40,476.50 C106.68,477.92 106.63,479.72 106.20,481.00 C105.77,482.28 104.83,483.57 103.80,484.20 C102.77,484.83 101.22,484.97 100.00,484.80 C98.78,484.63 97.37,484.00 96.50,483.20 C95.63,482.40 95.12,481.20 94.80,480.00 C94.48,478.80 94.47,477.25 94.60,476.00Z" fill="none" stroke="#d8d8d8" stroke-width="4.2" stroke-linejoin="round"/>
<path d="M94.60,476.00 C94.73,474.75 95.03,473.37 95.60,472.50 C96.17,471.63 97.02,471.12 98.00,470.80 C98.98,470.48 100.42,470.32 101.50,470.60 C102.58,470.88 103.68,471.52 104.50,472.50 C105.32,473.48 106.12,475.08 106.40,476.50 C106.68,477.92 106.63,479.72 106.20,481.00 C105.77,482.28 104.83,483.57 103.80,484.20 C102.77,484.83 101.22,484.97 100.00,484.80 C98.78,484.63 97.37,484.00 96.50,483.20 C95.63,482.40 95.12,481.20 94.80,480.00 C94.48,478.80 94.47,477.25 94.60,476.00Z" fill="none" stroke="#000" stroke-width="2.6" stroke-linejoin="round"/>
<path d="M97.70,476.75 C97.77,476.12 97.92,475.43 98.20,475.00 C98.48,474.57 98.91,474.31 99.40,474.15 C99.89,473.99 100.61,473.91 101.15,474.05 C101.69,474.19 102.24,474.51 102.65,475.00 C103.06,475.49 103.46,476.29 103.60,477.00 C103.74,477.71 103.72,478.61 103.50,479.25 C103.28,479.89 102.82,480.53 102.30,480.85 C101.78,481.17 101.01,481.23 100.40,481.15 C99.79,481.07 99.08,480.75 98.65,480.35 C98.22,479.95 97.96,479.35 97.80,478.75 C97.64,478.15 97.63,477.38 97.70,476.75Z" fill="none" stroke="#9a9a9a" stroke-width="0.65"/>
<path d="M100.18,477.35 C100.19,477.23 100.22,477.09 100.28,477.00 C100.34,476.91 100.42,476.86 100.52,476.83 C100.62,476.80 100.76,476.78 100.87,476.81 C100.98,476.84 101.09,476.90 101.17,477.00 C101.25,477.10 101.33,477.26 101.36,477.40 C101.39,477.54 101.38,477.72 101.34,477.85 C101.30,477.98 101.20,478.11 101.10,478.17 C101.00,478.23 100.84,478.25 100.72,478.23 C100.60,478.21 100.46,478.15 100.37,478.07 C100.28,477.99 100.23,477.87 100.20,477.75 C100.17,477.63 100.17,477.48 100.18,477.35Z" fill="#555"/>
</g>
<ellipse cx="88.5" cy="480" rx="1.9" ry="1.6" fill="#111"/>
<clipPath id="cp10"><path d="M195.00,470.00 C194.38,467.87 194.72,465.13 195.30,463.00 C195.88,460.87 197.22,458.57 198.50,457.20 C199.78,455.83 201.42,455.12 203.00,454.80 C204.58,454.48 206.58,454.60 208.00,455.30 C209.42,456.00 210.83,457.38 211.50,459.00 C212.17,460.62 212.00,463.33 212.00,465.00 C212.00,466.67 210.70,468.28 211.50,469.00 C212.30,469.72 216.22,468.55 216.80,469.30 C217.38,470.05 216.05,472.05 215.00,473.50 C213.95,474.95 211.92,476.45 210.50,478.00 C209.08,479.55 207.62,482.22 206.50,482.80 C205.38,483.38 204.18,482.55 203.80,481.50 C203.42,480.45 205.00,477.45 204.20,476.50 C203.40,475.55 200.53,476.88 199.00,475.80 C197.47,474.72 195.62,472.13 195.00,470.00Z"/></clipPath>
<g clip-path="url(#cp10)">
<path d="M195.00,470.00 C194.38,467.87 194.72,465.13 195.30,463.00 C195.88,460.87 197.22,458.57 198.50,457.20 C199.78,455.83 201.42,455.12 203.00,454.80 C204.58,454.48 206.58,454.60 208.00,455.30 C209.42,456.00 210.83,457.38 211.50,459.00 C212.17,460.62 212.00,463.33 212.00,465.00 C212.00,466.67 210.70,468.28 211.50,469.00 C212.30,469.72 216.22,468.55 216.80,469.30 C217.38,470.05 216.05,472.05 215.00,473.50 C213.95,474.95 211.92,476.45 210.50,478.00 C209.08,479.55 207.62,482.22 206.50,482.80 C205.38,483.38 204.18,482.55 203.80,481.50 C203.42,480.45 205.00,477.45 204.20,476.50 C203.40,475.55 200.53,476.88 199.00,475.80 C197.47,474.72 195.62,472.13 195.00,470.00Z" fill="#0d0d0d"/>
<path d="M195.00,470.00 C194.38,467.87 194.72,465.13 195.30,463.00 C195.88,460.87 197.22,458.57 198.50,457.20 C199.78,455.83 201.42,455.12 203.00,454.80 C204.58,454.48 206.58,454.60 208.00,455.30 C209.42,456.00 210.83,457.38 211.50,459.00 C212.17,460.62 212.00,463.33 212.00,465.00 C212.00,466.67 210.70,468.28 211.50,469.00 C212.30,469.72 216.22,468.55 216.80,469.30 C217.38,470.05 216.05,472.05 215.00,473.50 C213.95,474.95 211.92,476.45 210.50,478.00 C209.08,479.55 207.62,482.22 206.50,482.80 C205.38,483.38 204.18,482.55 203.80,481.50 C203.42,480.45 205.00,477.45 204.20,476.50 C203.40,475.55 200.53,476.88 199.00,475.80 C197.47,474.72 195.62,472.13 195.00,470.00Z" fill="none" stroke="#050505" stroke-width="7" stroke-linejoin="round"/>
<path d="M195.00,470.00 C194.38,467.87 194.72,465.13 195.30,463.00 C195.88,460.87 197.22,458.57 198.50,457.20 C199.78,455.83 201.42,455.12 203.00,454.80 C204.58,454.48 206.58,454.60 208.00,455.30 C209.42,456.00 210.83,457.38 211.50,459.00 C212.17,460.62 212.00,463.33 212.00,465.00 C212.00,466.67 210.70,468.28 211.50,469.00 C212.30,469.72 216.22,468.55 216.80,469.30 C217.38,470.05 216.05,472.05 215.00,473.50 C213.95,474.95 211.92,476.45 210.50,478.00 C209.08,479.55 207.62,482.22 206.50,482.80 C205.38,483.38 204.18,482.55 203.80,481.50 C203.42,480.45 205.00,477.45 204.20,476.50 C203.40,475.55 200.53,476.88 199.00,475.80 C197.47,474.72 195.62,472.13 195.00,470.00Z" fill="none" stroke="#151515" stroke-width="3.8" stroke-linejoin="round"/>
<path d="M195.00,470.00 C194.38,467.87 194.72,465.13 195.30,463.00 C195.88,460.87 197.22,458.57 198.50,457.20 C199.78,455.83 201.42,455.12 203.00,454.80 C204.58,454.48 206.58,454.60 208.00,455.30 C209.42,456.00 210.83,457.38 211.50,459.00 C212.17,460.62 212.00,463.33 212.00,465.00 C212.00,466.67 210.70,468.28 211.50,469.00 C212.30,469.72 216.22,468.55 216.80,469.30 C217.38,470.05 216.05,472.05 215.00,473.50 C213.95,474.95 211.92,476.45 210.50,478.00 C209.08,479.55 207.62,482.22 206.50,482.80 C205.38,483.38 204.18,482.55 203.80,481.50 C203.42,480.45 205.00,477.45 204.20,476.50 C203.40,475.55 200.53,476.88 199.00,475.80 C197.47,474.72 195.62,472.13 195.00,470.00Z" fill="none" stroke="#999" stroke-width="2.2" stroke-linejoin="round"/>
<path d="M198.61,467.53 C198.23,466.21 198.43,464.51 198.80,463.19 C199.16,461.87 199.98,460.44 200.78,459.59 C201.58,458.75 202.59,458.30 203.57,458.11 C204.55,457.91 205.79,457.98 206.67,458.42 C207.55,458.85 208.43,459.71 208.84,460.71 C209.25,461.71 209.15,463.40 209.15,464.43 C209.15,465.46 208.34,466.47 208.84,466.91 C209.34,467.35 211.76,466.63 212.13,467.10 C212.49,467.56 211.66,468.80 211.01,469.70 C210.36,470.60 209.10,471.53 208.22,472.49 C207.34,473.45 206.43,475.10 205.74,475.47 C205.05,475.83 204.30,475.31 204.07,474.66 C203.83,474.01 204.81,472.15 204.31,471.56 C203.82,470.97 202.04,471.80 201.09,471.13 C200.14,470.45 198.99,468.85 198.61,467.53Z" fill="none" stroke="#9a9a9a" stroke-width="0.65"/>
<path d="M200.51,466.23 C200.25,465.33 200.39,464.19 200.64,463.29 C200.88,462.39 201.44,461.43 201.98,460.85 C202.52,460.28 203.21,459.98 203.87,459.85 C204.53,459.71 205.38,459.76 205.97,460.06 C206.56,460.35 207.16,460.93 207.44,461.61 C207.72,462.29 207.65,463.43 207.65,464.13 C207.65,464.83 207.10,465.51 207.44,465.81 C207.78,466.11 209.42,465.62 209.67,465.94 C209.91,466.25 209.35,467.09 208.91,467.70 C208.47,468.31 207.62,468.94 207.02,469.59 C206.43,470.24 205.81,471.36 205.34,471.61 C204.87,471.85 204.37,471.50 204.21,471.06 C204.05,470.62 204.71,469.36 204.37,468.96 C204.04,468.56 202.83,469.12 202.19,468.67 C201.55,468.21 200.77,467.13 200.51,466.23Z" fill="none" stroke="#b0b0b0" stroke-width="0.65"/>
<path d="M202.22,465.06 C202.07,464.55 202.15,463.89 202.29,463.38 C202.43,462.87 202.75,462.32 203.06,461.99 C203.37,461.66 203.76,461.49 204.14,461.41 C204.52,461.34 205.00,461.36 205.34,461.53 C205.68,461.70 206.02,462.03 206.18,462.42 C206.34,462.81 206.30,463.46 206.30,463.86 C206.30,464.26 205.99,464.65 206.18,464.82 C206.37,464.99 207.31,464.71 207.45,464.89 C207.59,465.07 207.27,465.55 207.02,465.90 C206.77,466.25 206.28,466.61 205.94,466.98 C205.60,467.35 205.25,467.99 204.98,468.13 C204.71,468.27 204.42,468.07 204.33,467.82 C204.24,467.57 204.62,466.85 204.43,466.62 C204.24,466.39 203.55,466.71 203.18,466.45 C202.81,466.19 202.37,465.57 202.22,465.06Z" fill="none" stroke="#9a9a9a" stroke-width="0.65"/>
<path d="M203.55,464.15 C203.49,463.94 203.52,463.66 203.58,463.45 C203.64,463.24 203.77,463.01 203.90,462.87 C204.03,462.73 204.19,462.66 204.35,462.63 C204.51,462.60 204.71,462.61 204.85,462.68 C204.99,462.75 205.13,462.89 205.20,463.05 C205.27,463.21 205.25,463.48 205.25,463.65 C205.25,463.82 205.12,463.98 205.20,464.05 C205.28,464.12 205.67,464.00 205.73,464.08 C205.79,464.15 205.66,464.36 205.55,464.50 C205.45,464.64 205.24,464.79 205.10,464.95 C204.96,465.11 204.81,465.37 204.70,465.43 C204.59,465.49 204.47,465.41 204.43,465.30 C204.39,465.19 204.55,464.89 204.47,464.80 C204.39,464.71 204.10,464.84 203.95,464.73 C203.80,464.62 203.61,464.36 203.55,464.15Z" fill="#555"/>
</g>
<circle cx="209.7" cy="473.3" r="1.3" fill="#fff"/>
<path d="M295.5,475.6 L297.5,473 L302,471.5 L304,475.5 L301.8,479 L298,478 Z" fill="#aaa" stroke="#000" stroke-width="1"/>
<clipPath id="cp11"><path d="M320.52,457.58 C321.10,458.20 321.47,459.09 321.57,460.06 C321.66,461.04 321.49,462.24 321.09,463.43 C320.69,464.62 320.00,465.96 319.17,467.18 C318.34,468.39 317.24,469.67 316.10,470.73 C314.96,471.79 313.62,472.80 312.34,473.54 C311.07,474.29 309.68,474.88 308.47,475.20 C307.26,475.51 306.05,475.60 305.08,475.43 C304.11,475.27 303.25,474.84 302.68,474.22 C302.10,473.60 301.73,472.71 301.63,471.74 C301.54,470.76 301.71,469.56 302.11,468.37 C302.51,467.18 303.20,465.84 304.03,464.62 C304.86,463.41 305.96,462.13 307.10,461.07 C308.24,460.01 309.58,459.00 310.86,458.26 C312.13,457.51 313.52,456.92 314.73,456.60 C315.94,456.29 317.15,456.20 318.12,456.37 C319.09,456.53 319.95,456.96 320.52,457.58Z"/></clipPath>
<g clip-path="url(#cp11)">
<path d="M320.52,457.58 C321.10,458.20 321.47,459.09 321.57,460.06 C321.66,461.04 321.49,462.24 321.09,463.43 C320.69,464.62 320.00,465.96 319.17,467.18 C318.34,468.39 317.24,469.67 316.10,470.73 C314.96,471.79 313.62,472.80 312.34,473.54 C311.07,474.29 309.68,474.88 308.47,475.20 C307.26,475.51 306.05,475.60 305.08,475.43 C304.11,475.27 303.25,474.84 302.68,474.22 C302.10,473.60 301.73,472.71 301.63,471.74 C301.54,470.76 301.71,469.56 302.11,468.37 C302.51,467.18 303.20,465.84 304.03,464.62 C304.86,463.41 305.96,462.13 307.10,461.07 C308.24,460.01 309.58,459.00 310.86,458.26 C312.13,457.51 313.52,456.92 314.73,456.60 C315.94,456.29 317.15,456.20 318.12,456.37 C319.09,456.53 319.95,456.96 320.52,457.58Z" fill="#0d0d0d"/>
<path d="M320.52,457.58 C321.10,458.20 321.47,459.09 321.57,460.06 C321.66,461.04 321.49,462.24 321.09,463.43 C320.69,464.62 320.00,465.96 319.17,467.18 C318.34,468.39 317.24,469.67 316.10,470.73 C314.96,471.79 313.62,472.80 312.34,473.54 C311.07,474.29 309.68,474.88 308.47,475.20 C307.26,475.51 306.05,475.60 305.08,475.43 C304.11,475.27 303.25,474.84 302.68,474.22 C302.10,473.60 301.73,472.71 301.63,471.74 C301.54,470.76 301.71,469.56 302.11,468.37 C302.51,467.18 303.20,465.84 304.03,464.62 C304.86,463.41 305.96,462.13 307.10,461.07 C308.24,460.01 309.58,459.00 310.86,458.26 C312.13,457.51 313.52,456.92 314.73,456.60 C315.94,456.29 317.15,456.20 318.12,456.37 C319.09,456.53 319.95,456.96 320.52,457.58Z" fill="none" stroke="#050505" stroke-width="7" stroke-linejoin="round"/>
<path d="M320.52,457.58 C321.10,458.20 321.47,459.09 321.57,460.06 C321.66,461.04 321.49,462.24 321.09,463.43 C320.69,464.62 320.00,465.96 319.17,467.18 C318.34,468.39 317.24,469.67 316.10,470.73 C314.96,471.79 313.62,472.80 312.34,473.54 C311.07,474.29 309.68,474.88 308.47,475.20 C307.26,475.51 306.05,475.60 305.08,475.43 C304.11,475.27 303.25,474.84 302.68,474.22 C302.10,473.60 301.73,472.71 301.63,471.74 C301.54,470.76 301.71,469.56 302.11,468.37 C302.51,467.18 303.20,465.84 304.03,464.62 C304.86,463.41 305.96,462.13 307.10,461.07 C308.24,460.01 309.58,459.00 310.86,458.26 C312.13,457.51 313.52,456.92 314.73,456.60 C315.94,456.29 317.15,456.20 318.12,456.37 C319.09,456.53 319.95,456.96 320.52,457.58Z" fill="none" stroke="#151515" stroke-width="3.8" stroke-linejoin="round"/>
<path d="M320.52,457.58 C321.10,458.20 321.47,459.09 321.57,460.06 C321.66,461.04 321.49,462.24 321.09,463.43 C320.69,464.62 320.00,465.96 319.17,467.18 C318.34,468.39 317.24,469.67 316.10,470.73 C314.96,471.79 313.62,472.80 312.34,473.54 C311.07,474.29 309.68,474.88 308.47,475.20 C307.26,475.51 306.05,475.60 305.08,475.43 C304.11,475.27 303.25,474.84 302.68,474.22 C302.10,473.60 301.73,472.71 301.63,471.74 C301.54,470.76 301.71,469.56 302.11,468.37 C302.51,467.18 303.20,465.84 304.03,464.62 C304.86,463.41 305.96,462.13 307.10,461.07 C308.24,460.01 309.58,459.00 310.86,458.26 C312.13,457.51 313.52,456.92 314.73,456.60 C315.94,456.29 317.15,456.20 318.12,456.37 C319.09,456.53 319.95,456.96 320.52,457.58Z" fill="none" stroke="#999" stroke-width="2.2" stroke-linejoin="round"/>
<path d="M317.13,460.74 C317.49,461.12 317.72,461.67 317.78,462.28 C317.84,462.88 317.73,463.63 317.49,464.37 C317.24,465.10 316.81,465.94 316.30,466.69 C315.78,467.44 315.10,468.23 314.39,468.89 C313.69,469.55 312.85,470.18 312.06,470.64 C311.27,471.10 310.41,471.47 309.66,471.66 C308.91,471.86 308.16,471.91 307.56,471.81 C306.96,471.71 306.42,471.44 306.07,471.06 C305.71,470.68 305.48,470.13 305.42,469.52 C305.36,468.92 305.47,468.17 305.71,467.43 C305.96,466.70 306.39,465.86 306.90,465.11 C307.42,464.36 308.10,463.57 308.81,462.91 C309.51,462.25 310.35,461.62 311.14,461.16 C311.93,460.70 312.79,460.33 313.54,460.14 C314.29,459.94 315.04,459.89 315.64,459.99 C316.24,460.09 316.78,460.36 317.13,460.74Z" fill="none" stroke="#9a9a9a" stroke-width="0.65"/>
<path d="M315.35,462.41 C315.59,462.66 315.75,463.04 315.79,463.45 C315.83,463.86 315.75,464.36 315.59,464.86 C315.42,465.36 315.13,465.92 314.78,466.44 C314.43,466.95 313.97,467.48 313.49,467.93 C313.01,468.37 312.45,468.80 311.91,469.11 C311.38,469.42 310.80,469.67 310.29,469.80 C309.78,469.94 309.27,469.97 308.86,469.90 C308.46,469.84 308.09,469.65 307.85,469.39 C307.61,469.14 307.45,468.76 307.41,468.35 C307.37,467.94 307.45,467.44 307.61,466.94 C307.78,466.44 308.07,465.88 308.42,465.36 C308.77,464.85 309.23,464.32 309.71,463.87 C310.19,463.43 310.75,463.00 311.29,462.69 C311.82,462.38 312.40,462.13 312.91,462.00 C313.42,461.86 313.93,461.83 314.34,461.90 C314.74,461.96 315.11,462.15 315.35,462.41Z" fill="none" stroke="#b0b0b0" stroke-width="0.65"/>
<path d="M313.74,463.90 C313.88,464.05 313.97,464.26 313.99,464.50 C314.01,464.73 313.97,465.02 313.88,465.31 C313.78,465.59 313.62,465.91 313.42,466.21 C313.22,466.50 312.95,466.80 312.68,467.06 C312.41,467.31 312.08,467.56 311.78,467.73 C311.47,467.91 311.14,468.06 310.85,468.13 C310.56,468.21 310.27,468.23 310.04,468.19 C309.80,468.15 309.60,468.04 309.46,467.90 C309.32,467.75 309.23,467.54 309.21,467.30 C309.19,467.07 309.23,466.78 309.32,466.49 C309.42,466.21 309.58,465.89 309.78,465.59 C309.98,465.30 310.25,465.00 310.52,464.74 C310.79,464.49 311.12,464.24 311.42,464.07 C311.73,463.89 312.06,463.74 312.35,463.67 C312.64,463.59 312.93,463.57 313.16,463.61 C313.40,463.65 313.60,463.76 313.74,463.90Z" fill="none" stroke="#9a9a9a" stroke-width="0.65"/>
<path d="M312.49,465.07 C312.55,465.13 312.59,465.22 312.60,465.32 C312.61,465.41 312.59,465.53 312.55,465.65 C312.51,465.77 312.44,465.91 312.36,466.03 C312.27,466.15 312.16,466.28 312.05,466.38 C311.94,466.49 311.80,466.59 311.67,466.66 C311.55,466.74 311.41,466.80 311.29,466.83 C311.17,466.86 311.04,466.87 310.95,466.85 C310.85,466.84 310.77,466.79 310.71,466.73 C310.65,466.67 310.61,466.58 310.60,466.48 C310.59,466.39 310.61,466.27 310.65,466.15 C310.69,466.03 310.76,465.89 310.84,465.77 C310.93,465.65 311.04,465.52 311.15,465.42 C311.26,465.31 311.40,465.21 311.53,465.14 C311.65,465.06 311.79,465.00 311.91,464.97 C312.03,464.94 312.16,464.93 312.25,464.95 C312.35,464.96 312.43,465.01 312.49,465.07Z" fill="#555"/>
</g>
<clipPath id="cp12"><path d="M426.91,456.61 C427.36,457.28 427.44,458.26 427.15,459.36 C426.86,460.45 426.14,461.82 425.15,463.17 C424.16,464.53 422.74,466.07 421.21,467.48 C419.67,468.89 417.77,470.37 415.92,471.62 C414.07,472.87 411.98,474.07 410.10,474.97 C408.22,475.87 406.26,476.60 404.63,477.01 C403.01,477.42 401.47,477.58 400.34,477.44 C399.22,477.30 398.34,476.85 397.89,476.19 C397.44,475.52 397.36,474.54 397.65,473.44 C397.94,472.35 398.66,470.98 399.65,469.63 C400.64,468.27 402.06,466.73 403.59,465.32 C405.13,463.91 407.03,462.43 408.88,461.18 C410.73,459.93 412.82,458.73 414.70,457.83 C416.58,456.93 418.54,456.20 420.17,455.79 C421.79,455.38 423.33,455.22 424.46,455.36 C425.58,455.50 426.46,455.95 426.91,456.61Z"/></clipPath>
<g clip-path="url(#cp12)">
<path d="M426.91,456.61 C427.36,457.28 427.44,458.26 427.15,459.36 C426.86,460.45 426.14,461.82 425.15,463.17 C424.16,464.53 422.74,466.07 421.21,467.48 C419.67,468.89 417.77,470.37 415.92,471.62 C414.07,472.87 411.98,474.07 410.10,474.97 C408.22,475.87 406.26,476.60 404.63,477.01 C403.01,477.42 401.47,477.58 400.34,477.44 C399.22,477.30 398.34,476.85 397.89,476.19 C397.44,475.52 397.36,474.54 397.65,473.44 C397.94,472.35 398.66,470.98 399.65,469.63 C400.64,468.27 402.06,466.73 403.59,465.32 C405.13,463.91 407.03,462.43 408.88,461.18 C410.73,459.93 412.82,458.73 414.70,457.83 C416.58,456.93 418.54,456.20 420.17,455.79 C421.79,455.38 423.33,455.22 424.46,455.36 C425.58,455.50 426.46,455.95 426.91,456.61Z" fill="#0d0d0d"/>
<path d="M426.91,456.61 C427.36,457.28 427.44,458.26 427.15,459.36 C426.86,460.45 426.14,461.82 425.15,463.17 C424.16,464.53 422.74,466.07 421.21,467.48 C419.67,468.89 417.77,470.37 415.92,471.62 C414.07,472.87 411.98,474.07 410.10,474.97 C408.22,475.87 406.26,476.60 404.63,477.01 C403.01,477.42 401.47,477.58 400.34,477.44 C399.22,477.30 398.34,476.85 397.89,476.19 C397.44,475.52 397.36,474.54 397.65,473.44 C397.94,472.35 398.66,470.98 399.65,469.63 C400.64,468.27 402.06,466.73 403.59,465.32 C405.13,463.91 407.03,462.43 408.88,461.18 C410.73,459.93 412.82,458.73 414.70,457.83 C416.58,456.93 418.54,456.20 420.17,455.79 C421.79,455.38 423.33,455.22 424.46,455.36 C425.58,455.50 426.46,455.95 426.91,456.61Z" fill="none" stroke="#050505" stroke-width="7" stroke-linejoin="round"/>
<path d="M426.91,456.61 C427.36,457.28 427.44,458.26 427.15,459.36 C426.86,460.45 426.14,461.82 425.15,463.17 C424.16,464.53 422.74,466.07 421.21,467.48 C419.67,468.89 417.77,470.37 415.92,471.62 C414.07,472.87 411.98,474.07 410.10,474.97 C408.22,475.87 406.26,476.60 404.63,477.01 C403.01,477.42 401.47,477.58 400.34,477.44 C399.22,477.30 398.34,476.85 397.89,476.19 C397.44,475.52 397.36,474.54 397.65,473.44 C397.94,472.35 398.66,470.98 399.65,469.63 C400.64,468.27 402.06,466.73 403.59,465.32 C405.13,463.91 407.03,462.43 408.88,461.18 C410.73,459.93 412.82,458.73 414.70,457.83 C416.58,456.93 418.54,456.20 420.17,455.79 C421.79,455.38 423.33,455.22 424.46,455.36 C425.58,455.50 426.46,455.95 426.91,456.61Z" fill="none" stroke="#151515" stroke-width="3.8" stroke-linejoin="round"/>
<path d="M426.91,456.61 C427.36,457.28 427.44,458.26 427.15,459.36 C426.86,460.45 426.14,461.82 425.15,463.17 C424.16,464.53 422.74,466.07 421.21,467.48 C419.67,468.89 417.77,470.37 415.92,471.62 C414.07,472.87 411.98,474.07 410.10,474.97 C408.22,475.87 406.26,476.60 404.63,477.01 C403.01,477.42 401.47,477.58 400.34,477.44 C399.22,477.30 398.34,476.85 397.89,476.19 C397.44,475.52 397.36,474.54 397.65,473.44 C397.94,472.35 398.66,470.98 399.65,469.63 C400.64,468.27 402.06,466.73 403.59,465.32 C405.13,463.91 407.03,462.43 408.88,461.18 C410.73,459.93 412.82,458.73 414.70,457.83 C416.58,456.93 418.54,456.20 420.17,455.79 C421.79,455.38 423.33,455.22 424.46,455.36 C425.58,455.50 426.46,455.95 426.91,456.61Z" fill="none" stroke="#999" stroke-width="2.2" stroke-linejoin="round"/>
<path d="M421.40,460.33 C421.67,460.75 421.73,461.36 421.55,462.03 C421.36,462.71 420.92,463.56 420.30,464.40 C419.69,465.24 418.81,466.20 417.86,467.07 C416.91,467.94 415.73,468.86 414.58,469.64 C413.44,470.41 412.14,471.16 410.98,471.71 C409.81,472.27 408.59,472.72 407.58,472.98 C406.58,473.24 405.62,473.33 404.93,473.24 C404.23,473.16 403.68,472.88 403.40,472.47 C403.13,472.05 403.07,471.44 403.25,470.77 C403.44,470.09 403.88,469.24 404.50,468.40 C405.11,467.56 405.99,466.60 406.94,465.73 C407.89,464.86 409.07,463.94 410.22,463.16 C411.36,462.39 412.66,461.64 413.82,461.09 C414.99,460.53 416.21,460.08 417.22,459.82 C418.22,459.56 419.18,459.47 419.87,459.56 C420.57,459.64 421.12,459.92 421.40,460.33Z" fill="none" stroke="#9a9a9a" stroke-width="0.65"/>
<path d="M418.49,462.29 C418.68,462.57 418.72,462.98 418.60,463.44 C418.47,463.90 418.17,464.48 417.75,465.04 C417.34,465.61 416.74,466.26 416.10,466.85 C415.45,467.45 414.66,468.07 413.88,468.59 C413.10,469.12 412.23,469.62 411.44,470.00 C410.64,470.38 409.82,470.68 409.14,470.86 C408.45,471.03 407.81,471.09 407.34,471.04 C406.86,470.98 406.50,470.79 406.31,470.51 C406.12,470.23 406.08,469.82 406.20,469.36 C406.33,468.90 406.63,468.32 407.05,467.76 C407.46,467.19 408.06,466.54 408.70,465.95 C409.35,465.35 410.14,464.73 410.92,464.21 C411.70,463.68 412.57,463.18 413.36,462.80 C414.16,462.42 414.98,462.12 415.66,461.94 C416.35,461.77 416.99,461.71 417.46,461.76 C417.94,461.82 418.30,462.01 418.49,462.29Z" fill="none" stroke="#b0b0b0" stroke-width="0.65"/>
<path d="M415.88,464.05 C415.99,464.21 416.01,464.45 415.94,464.71 C415.87,464.97 415.70,465.30 415.46,465.63 C415.22,465.95 414.88,466.32 414.51,466.66 C414.14,467.00 413.69,467.35 413.25,467.65 C412.80,467.95 412.30,468.24 411.85,468.46 C411.40,468.67 410.93,468.85 410.54,468.95 C410.15,469.05 409.78,469.08 409.51,469.05 C409.24,469.02 409.03,468.91 408.92,468.75 C408.81,468.59 408.79,468.35 408.86,468.09 C408.93,467.83 409.10,467.50 409.34,467.17 C409.58,466.85 409.92,466.48 410.29,466.14 C410.66,465.80 411.11,465.45 411.55,465.15 C412.00,464.85 412.50,464.56 412.95,464.34 C413.40,464.13 413.87,463.95 414.26,463.85 C414.65,463.75 415.02,463.72 415.29,463.75 C415.56,463.78 415.77,463.89 415.88,464.05Z" fill="none" stroke="#9a9a9a" stroke-width="0.65"/>
<path d="M413.85,465.42 C413.90,465.49 413.90,465.59 413.88,465.70 C413.85,465.81 413.77,465.94 413.67,466.08 C413.58,466.21 413.43,466.37 413.28,466.51 C413.13,466.65 412.94,466.80 412.75,466.92 C412.57,467.05 412.36,467.17 412.17,467.26 C411.98,467.35 411.79,467.42 411.62,467.46 C411.46,467.50 411.31,467.52 411.19,467.50 C411.08,467.49 410.99,467.45 410.95,467.38 C410.90,467.31 410.90,467.21 410.92,467.10 C410.95,466.99 411.03,466.86 411.13,466.72 C411.22,466.59 411.37,466.43 411.52,466.29 C411.67,466.15 411.86,466.00 412.05,465.88 C412.23,465.75 412.44,465.63 412.63,465.54 C412.82,465.45 413.01,465.38 413.18,465.34 C413.34,465.30 413.49,465.28 413.61,465.30 C413.72,465.31 413.81,465.35 413.85,465.42Z" fill="#555"/>
</g>
<rect x="65.60" y="354.30" width="33.50" height="33.50" fill="none" stroke="#2c4f93" stroke-width="1.4" />
<rect x="172.10" y="361.80" width="33.00" height="26.20" fill="none" stroke="#2c4f93" stroke-width="1.4" />
<rect x="277.60" y="361.00" width="33.20" height="27.00" fill="none" stroke="#2c4f93" stroke-width="1.4" />
<rect x="383.60" y="355.80" width="32.90" height="32.20" fill="none" stroke="#2c4f93" stroke-width="1.4" />
<rect x="65.60" y="471.10" width="28.80" height="29.90" fill="none" stroke="#2c4f93" stroke-width="1.4" />
<rect x="172.10" y="471.30" width="28.30" height="29.70" fill="none" stroke="#2c4f93" stroke-width="1.4" />
<rect x="277.60" y="468.90" width="32.90" height="32.10" fill="none" stroke="#2c4f93" stroke-width="1.4" />
<rect x="383.60" y="468.90" width="32.90" height="32.10" fill="none" stroke="#2c4f93" stroke-width="1.4" />
<line x1="31.70" y1="498.70" x2="31.70" y2="530.80" stroke="#000" stroke-width="1.5" />
<line x1="30.95" y1="530.80" x2="66.50" y2="530.80" stroke="#000" stroke-width="1.5" />
<path d="M28.10,501.00 L31.70,492.70 L35.30,501.00 L31.70,499.50 Z" fill="#000"/>
<path d="M64.20,527.20 L72.50,530.80 L64.20,534.40 L65.70,530.80 Z" fill="#000"/>
<text transform="translate(36.20,486.50) rotate(-90)" font-size="12.8" fill="#5e2a84" font-weight="bold" textLength="27.8" lengthAdjust="spacingAndGlyphs">N-term</text>
<text x="77.2" y="534.8" font-size="12.8" text-anchor="start" fill="#b3143c" font-weight="bold" textLength="28.3" lengthAdjust="spacingAndGlyphs" >C-term</text>
<text x="12.2" y="562.5" font-size="17.8" text-anchor="start" fill="#000" font-weight="bold" >E</text>
<text x="73.3" y="563.8" font-size="12.5" text-anchor="start" fill="#000" font-weight="normal" textLength="120.5" lengthAdjust="spacingAndGlyphs" >Total C/EBPβ protein</text>
<line x1="62.60" y1="573.50" x2="62.60" y2="686.40" stroke="#000" stroke-width="1.5" />
<line x1="58.10" y1="685.80" x2="62.60" y2="685.80" stroke="#000" stroke-width="1.3" />
<text x="53.8" y="689.1999999999999" font-size="9.4" text-anchor="end" fill="#000" font-weight="normal" >0</text>
<line x1="58.10" y1="660.80" x2="62.60" y2="660.80" stroke="#000" stroke-width="1.3" />
<text x="53.8" y="664.1999999999999" font-size="9.4" text-anchor="end" fill="#000" font-weight="normal" >1</text>
<line x1="58.10" y1="635.80" x2="62.60" y2="635.80" stroke="#000" stroke-width="1.3" />
<text x="53.8" y="639.1999999999999" font-size="9.4" text-anchor="end" fill="#000" font-weight="normal" >2</text>
<line x1="58.10" y1="610.80" x2="62.60" y2="610.80" stroke="#000" stroke-width="1.3" />
<text x="53.8" y="614.1999999999999" font-size="9.4" text-anchor="end" fill="#000" font-weight="normal" >3</text>
<line x1="58.10" y1="585.80" x2="62.60" y2="585.80" stroke="#000" stroke-width="1.3" />
<text x="53.8" y="589.1999999999999" font-size="9.4" text-anchor="end" fill="#000" font-weight="normal" >4</text>
<line x1="61.90" y1="685.80" x2="203.40" y2="685.80" stroke="#000" stroke-width="1.5" />
<line x1="72.50" y1="685.80" x2="72.50" y2="690.50" stroke="#000" stroke-width="1.3" />
<line x1="91.70" y1="685.80" x2="91.70" y2="690.50" stroke="#000" stroke-width="1.3" />
<line x1="111.20" y1="685.80" x2="111.20" y2="690.50" stroke="#000" stroke-width="1.3" />
<line x1="130.60" y1="685.80" x2="130.60" y2="690.50" stroke="#000" stroke-width="1.3" />
<line x1="150.30" y1="685.80" x2="150.30" y2="690.50" stroke="#000" stroke-width="1.3" />
<line x1="169.40" y1="685.80" x2="169.40" y2="690.50" stroke="#000" stroke-width="1.3" />
<line x1="188.90" y1="685.80" x2="188.90" y2="690.50" stroke="#000" stroke-width="1.3" />
<line x1="198.80" y1="685.80" x2="198.80" y2="690.50" stroke="#000" stroke-width="1.3" />
<text x="72.5" y="703.8" font-size="9.4" text-anchor="middle" fill="#000" font-weight="normal" >0</text>
<text x="91.7" y="703.8" font-size="9.4" text-anchor="middle" fill="#000" font-weight="normal" >1</text>
<text x="111.2" y="703.8" font-size="9.4" text-anchor="middle" fill="#000" font-weight="normal" >2</text>
<text x="130.6" y="703.8" font-size="9.4" text-anchor="middle" fill="#000" font-weight="normal" >3</text>
<text x="150.3" y="703.8" font-size="9.4" text-anchor="middle" fill="#000" font-weight="normal" >4</text>
<text x="169.4" y="703.8" font-size="9.4" text-anchor="middle" fill="#000" font-weight="normal" >6</text>
<text x="188.9" y="703.8" font-size="9.4" text-anchor="middle" fill="#000" font-weight="normal" >8</text>
<line x1="72.50" y1="660.80" x2="72.50" y2="652.05" stroke="#000" stroke-width="1.2" />
<line x1="69.80" y1="652.05" x2="75.20" y2="652.05" stroke="#000" stroke-width="1.44" />
<line x1="91.70" y1="652.05" x2="91.70" y2="649.80" stroke="#000" stroke-width="1.2" />
<line x1="89.00" y1="649.80" x2="94.40" y2="649.80" stroke="#000" stroke-width="1.44" />
<line x1="111.20" y1="622.30" x2="111.20" y2="615.05" stroke="#000" stroke-width="1.2" />
<line x1="108.50" y1="615.05" x2="113.90" y2="615.05" stroke="#000" stroke-width="1.44" />
<line x1="130.60" y1="592.30" x2="130.60" y2="585.80" stroke="#000" stroke-width="1.2" />
<line x1="127.90" y1="585.80" x2="133.30" y2="585.80" stroke="#000" stroke-width="1.44" />
<line x1="150.30" y1="591.55" x2="150.30" y2="578.80" stroke="#000" stroke-width="1.2" />
<line x1="147.60" y1="578.80" x2="153.00" y2="578.80" stroke="#000" stroke-width="1.44" />
<line x1="169.40" y1="607.30" x2="169.40" y2="579.05" stroke="#000" stroke-width="1.2" />
<line x1="166.70" y1="579.05" x2="172.10" y2="579.05" stroke="#000" stroke-width="1.44" />
<line x1="169.40" y1="604.05" x2="169.40" y2="589.30" stroke="#000" stroke-width="1.2" />
<line x1="166.70" y1="589.30" x2="172.10" y2="589.30" stroke="#000" stroke-width="1.44" />
<line x1="150.30" y1="603.80" x2="150.30" y2="591.55" stroke="#000" stroke-width="1.2" />
<line x1="130.60" y1="625.05" x2="130.60" y2="621.55" stroke="#000" stroke-width="1.2" />
<line x1="127.90" y1="621.55" x2="133.30" y2="621.55" stroke="#000" stroke-width="1.44" />
<line x1="188.90" y1="636.30" x2="188.90" y2="633.80" stroke="#000" stroke-width="1.2" />
<line x1="186.20" y1="633.80" x2="191.60" y2="633.80" stroke="#000" stroke-width="1.44" />
<polyline points="72.50,660.80 91.70,652.05 111.20,622.30 130.60,592.30 150.30,591.55 169.40,607.30 188.90,641.30" fill="none" stroke="#111" stroke-width="1.4" stroke-linejoin="round"/>
<circle cx="72.50" cy="660.80" r="2.6" fill="#111"/>
<circle cx="91.70" cy="652.05" r="2.6" fill="#111"/>
<circle cx="111.20" cy="622.30" r="2.6" fill="#111"/>
<circle cx="130.60" cy="592.30" r="2.6" fill="#111"/>
<circle cx="150.30" cy="591.55" r="2.6" fill="#111"/>
<circle cx="169.40" cy="607.30" r="2.6" fill="#111"/>
<circle cx="188.90" cy="641.30" r="2.6" fill="#111"/>
<polyline points="72.50,659.80 91.70,658.80 111.20,640.05 130.60,625.05 150.30,603.80 169.40,604.05 188.90,636.30" fill="none" stroke="#27974a" stroke-width="1.4" stroke-linejoin="round"/>
<circle cx="72.50" cy="659.80" r="2.6" fill="#27974a"/>
<circle cx="91.70" cy="658.80" r="2.6" fill="#27974a"/>
<circle cx="111.20" cy="640.05" r="2.6" fill="#27974a"/>
<circle cx="130.60" cy="625.05" r="2.6" fill="#27974a"/>
<circle cx="150.30" cy="603.80" r="2.6" fill="#27974a"/>
<circle cx="169.40" cy="604.05" r="2.6" fill="#27974a"/>
<circle cx="188.90" cy="636.30" r="2.6" fill="#27974a"/>
<text x="91.7" y="649.3000000000001" font-size="8.5" text-anchor="middle" fill="#000" font-weight="normal" letter-spacing="0.6">*</text>
<text x="111.2" y="616.1" font-size="8.5" text-anchor="middle" fill="#000" font-weight="normal" letter-spacing="0.6">*</text>
<text x="131.0" y="586.6" font-size="8.5" text-anchor="middle" fill="#000" font-weight="normal" letter-spacing="0.6">**</text>
<line x1="110.90" y1="658.00" x2="132.50" y2="658.00" stroke="#111" stroke-width="1.4" />
<circle cx="121.70" cy="658.00" r="2.6" fill="#111"/>
<line x1="110.90" y1="671.50" x2="132.50" y2="671.50" stroke="#27974a" stroke-width="1.4" />
<circle cx="121.70" cy="671.50" r="2.6" fill="#27974a"/>
<text x="137.5" y="661.2" font-size="8.0" text-anchor="start" fill="#000" font-weight="normal" >Control</text>
<text x="137.5" y="674.4" font-size="7.8" text-anchor="start" fill="#000" font-weight="normal" >Rapamycin</text>
<text transform="translate(39.80,671.30) rotate(-90)" font-size="12.8" fill="#000" font-weight="normal" textLength="84.2" lengthAdjust="spacingAndGlyphs" stroke="#000" stroke-width="0.4">C/EBPβ C-term MFI</text>
<text x="219.7" y="562.5" font-size="17.8" text-anchor="start" fill="#000" font-weight="bold" >F</text>
<text x="313.2" y="564.3" font-size="12.5" text-anchor="start" fill="#000" font-weight="normal" textLength="58.2" lengthAdjust="spacingAndGlyphs" >C / N ratio</text>
<line x1="272.10" y1="571.30" x2="272.10" y2="686.20" stroke="#000" stroke-width="1.5" />
<line x1="267.60" y1="685.60" x2="272.10" y2="685.60" stroke="#000" stroke-width="1.3" />
<text x="263.3" y="689.0" font-size="9.4" text-anchor="end" fill="#000" font-weight="normal" >0</text>
<line x1="267.60" y1="648.85" x2="272.10" y2="648.85" stroke="#000" stroke-width="1.3" />
<text x="263.3" y="652.25" font-size="9.4" text-anchor="end" fill="#000" font-weight="normal" >1</text>
<line x1="267.60" y1="612.10" x2="272.10" y2="612.10" stroke="#000" stroke-width="1.3" />
<text x="263.3" y="615.5" font-size="9.4" text-anchor="end" fill="#000" font-weight="normal" >2</text>
<line x1="267.60" y1="575.35" x2="272.10" y2="575.35" stroke="#000" stroke-width="1.3" />
<text x="263.3" y="578.75" font-size="9.4" text-anchor="end" fill="#000" font-weight="normal" >3</text>
<line x1="271.40" y1="685.60" x2="412.00" y2="685.60" stroke="#000" stroke-width="1.5" />
<line x1="281.70" y1="685.60" x2="281.70" y2="690.30" stroke="#000" stroke-width="1.3" />
<line x1="301.30" y1="685.60" x2="301.30" y2="690.30" stroke="#000" stroke-width="1.3" />
<line x1="320.50" y1="685.60" x2="320.50" y2="690.30" stroke="#000" stroke-width="1.3" />
<line x1="339.80" y1="685.60" x2="339.80" y2="690.30" stroke="#000" stroke-width="1.3" />
<line x1="359.30" y1="685.60" x2="359.30" y2="690.30" stroke="#000" stroke-width="1.3" />
<line x1="378.50" y1="685.60" x2="378.50" y2="690.30" stroke="#000" stroke-width="1.3" />
<line x1="397.60" y1="685.60" x2="397.60" y2="690.30" stroke="#000" stroke-width="1.3" />
<line x1="407.90" y1="685.60" x2="407.90" y2="690.30" stroke="#000" stroke-width="1.3" />
<text x="281.7" y="704.3" font-size="9.4" text-anchor="middle" fill="#000" font-weight="normal" >0</text>
<text x="301.3" y="704.3" font-size="9.4" text-anchor="middle" fill="#000" font-weight="normal" >1</text>
<text x="320.5" y="704.3" font-size="9.4" text-anchor="middle" fill="#000" font-weight="normal" >2</text>
<text x="339.8" y="704.3" font-size="9.4" text-anchor="middle" fill="#000" font-weight="normal" >3</text>
<text x="359.3" y="704.3" font-size="9.4" text-anchor="middle" fill="#000" font-weight="normal" >4</text>
<text x="378.5" y="704.3" font-size="9.4" text-anchor="middle" fill="#000" font-weight="normal" >6</text>
<text x="397.6" y="704.3" font-size="9.4" text-anchor="middle" fill="#000" font-weight="normal" >8</text>
<line x1="274.60" y1="648.85" x2="407.30" y2="648.85" stroke="#888" stroke-width="0.9" stroke-dasharray="1.4,2.2"/>
<line x1="301.30" y1="643.71" x2="301.30" y2="641.50" stroke="#000" stroke-width="1.2" />
<line x1="298.60" y1="641.50" x2="304.00" y2="641.50" stroke="#000" stroke-width="1.44" />
<line x1="320.50" y1="629.00" x2="320.50" y2="625.33" stroke="#000" stroke-width="1.2" />
<line x1="317.80" y1="625.33" x2="323.20" y2="625.33" stroke="#000" stroke-width="1.44" />
<line x1="339.80" y1="598.13" x2="339.80" y2="592.62" stroke="#000" stroke-width="1.2" />
<line x1="337.10" y1="592.62" x2="342.50" y2="592.62" stroke="#000" stroke-width="1.44" />
<line x1="359.30" y1="607.32" x2="359.30" y2="596.30" stroke="#000" stroke-width="1.2" />
<line x1="356.60" y1="596.30" x2="362.00" y2="596.30" stroke="#000" stroke-width="1.44" />
<line x1="281.70" y1="644.07" x2="281.70" y2="634.15" stroke="#000" stroke-width="1.2" />
<line x1="279.00" y1="634.15" x2="284.40" y2="634.15" stroke="#000" stroke-width="1.44" />
<line x1="320.50" y1="638.93" x2="320.50" y2="635.25" stroke="#000" stroke-width="1.2" />
<line x1="317.80" y1="635.25" x2="323.20" y2="635.25" stroke="#000" stroke-width="1.44" />
<line x1="339.80" y1="632.31" x2="339.80" y2="628.64" stroke="#000" stroke-width="1.2" />
<line x1="337.10" y1="628.64" x2="342.50" y2="628.64" stroke="#000" stroke-width="1.44" />
<line x1="359.30" y1="607.32" x2="359.30" y2="600.34" stroke="#000" stroke-width="1.2" />
<line x1="356.60" y1="600.34" x2="362.00" y2="600.34" stroke="#000" stroke-width="1.44" />
<line x1="378.50" y1="651.06" x2="378.50" y2="649.59" stroke="#000" stroke-width="1.2" />
<line x1="375.80" y1="649.59" x2="381.20" y2="649.59" stroke="#000" stroke-width="1.44" />
<polyline points="281.70,648.85 301.30,643.71 320.50,629.00 339.80,598.13 359.30,607.32 378.50,653.26 397.60,656.94" fill="none" stroke="#111" stroke-width="1.4" stroke-linejoin="round"/>
<circle cx="281.70" cy="648.85" r="2.6" fill="#111"/>
<circle cx="301.30" cy="643.71" r="2.6" fill="#111"/>
<circle cx="320.50" cy="629.00" r="2.6" fill="#111"/>
<circle cx="339.80" cy="598.13" r="2.6" fill="#111"/>
<circle cx="359.30" cy="607.32" r="2.6" fill="#111"/>
<circle cx="378.50" cy="653.26" r="2.6" fill="#111"/>
<circle cx="397.60" cy="656.94" r="2.6" fill="#111"/>
<polyline points="281.70,644.07 301.30,645.91 320.50,638.93 339.80,632.31 359.30,607.32 378.50,651.06 397.60,655.47" fill="none" stroke="#27974a" stroke-width="1.4" stroke-linejoin="round"/>
<circle cx="281.70" cy="644.07" r="2.6" fill="#27974a"/>
<circle cx="301.30" cy="645.91" r="2.6" fill="#27974a"/>
<circle cx="320.50" cy="638.93" r="2.6" fill="#27974a"/>
<circle cx="339.80" cy="632.31" r="2.6" fill="#27974a"/>
<circle cx="359.30" cy="607.32" r="2.6" fill="#27974a"/>
<circle cx="378.50" cy="651.06" r="2.6" fill="#27974a"/>
<circle cx="397.60" cy="655.47" r="2.6" fill="#27974a"/>
<text x="320.5" y="625.1" font-size="8.5" text-anchor="middle" fill="#000" font-weight="normal" letter-spacing="0.6">*</text>
<text x="340.2" y="592.8000000000001" font-size="8.5" text-anchor="middle" fill="#000" font-weight="normal" letter-spacing="0.6">***</text>
<line x1="298.30" y1="659.30" x2="321.00" y2="659.30" stroke="#111" stroke-width="1.4" />
<circle cx="309.60" cy="659.30" r="2.6" fill="#111"/>
<line x1="298.30" y1="671.70" x2="321.00" y2="671.70" stroke="#27974a" stroke-width="1.4" />
<circle cx="309.60" cy="671.70" r="2.6" fill="#27974a"/>
<text x="324.9" y="662.4" font-size="8.0" text-anchor="start" fill="#000" font-weight="normal" >Control</text>
<text x="324.9" y="674.8" font-size="7.8" text-anchor="start" fill="#000" font-weight="normal" >Rapamycin</text>
<g transform="translate(249.10,668.20) rotate(-90)" fill="#000">
<text x="0" y="0" font-size="12.6" font-weight="bold" textLength="15.2" lengthAdjust="spacingAndGlyphs">MFI</text>
<text x="15.4" y="-4.8" font-size="8.2" font-weight="bold" textLength="20" lengthAdjust="spacingAndGlyphs">C-term</text>
<text x="36.2" y="0" font-size="12.6" font-weight="bold" textLength="4" lengthAdjust="spacingAndGlyphs">/</text>
<text x="43.4" y="0" font-size="12.6" font-weight="bold" textLength="15.2" lengthAdjust="spacingAndGlyphs">MFI</text>
<text x="58.8" y="-4.8" font-size="8.2" font-weight="bold" textLength="21.2" lengthAdjust="spacingAndGlyphs">N-term</text>
</g>
<line x1="60.30" y1="711.10" x2="406.20" y2="711.10" stroke="#000" stroke-width="1.6" />
<text x="171.3" y="725.4" font-size="11.6" text-anchor="start" fill="#000" font-weight="normal" textLength="123.0" lengthAdjust="spacingAndGlyphs"  stroke="#000" stroke-width="0.4">Days after 5-FU administration</text>
<text x="11.7" y="754.3" font-size="17.8" text-anchor="start" fill="#000" font-weight="bold" >G</text>
<text x="227.4" y="752.2" font-size="12.3" text-anchor="start" fill="#000" font-weight="normal" textLength="117.7" lengthAdjust="spacingAndGlyphs" >LT-HSC (5-FU day 3)</text>
<line x1="77.00" y1="757.60" x2="496.80" y2="757.60" stroke="#000" stroke-width="1.6" />
<text x="42" y="770.3" font-size="11" text-anchor="start" fill="#000" font-weight="bold" >i</text>
<text x="163.2" y="769.8" font-size="11" text-anchor="start" fill="#000" font-weight="bold" >ii</text>
<text x="275.5" y="770" font-size="11" text-anchor="start" fill="#000" font-weight="bold" >iii</text>
<text x="400.8" y="770" font-size="11" text-anchor="start" fill="#000" font-weight="bold" >iv</text>
<line x1="74.40" y1="852.60" x2="74.40" y2="856.80" stroke="#000" stroke-width="1.1" />
<line x1="80.61" y1="852.60" x2="80.61" y2="854.90" stroke="#000" stroke-width="1.1" />
<line x1="84.24" y1="852.60" x2="84.24" y2="854.90" stroke="#000" stroke-width="1.1" />
<line x1="86.82" y1="852.60" x2="86.82" y2="854.90" stroke="#000" stroke-width="1.1" />
<line x1="88.82" y1="852.60" x2="88.82" y2="854.90" stroke="#000" stroke-width="1.1" />
<line x1="90.45" y1="852.60" x2="90.45" y2="854.90" stroke="#000" stroke-width="1.1" />
<line x1="91.83" y1="852.60" x2="91.83" y2="854.90" stroke="#000" stroke-width="1.1" />
<line x1="93.03" y1="852.60" x2="93.03" y2="854.90" stroke="#000" stroke-width="1.1" />
<line x1="94.08" y1="852.60" x2="94.08" y2="854.90" stroke="#000" stroke-width="1.1" />
<line x1="95.03" y1="852.60" x2="95.03" y2="856.80" stroke="#000" stroke-width="1.1" />
<line x1="101.23" y1="852.60" x2="101.23" y2="854.90" stroke="#000" stroke-width="1.1" />
<line x1="104.87" y1="852.60" x2="104.87" y2="854.90" stroke="#000" stroke-width="1.1" />
<line x1="107.44" y1="852.60" x2="107.44" y2="854.90" stroke="#000" stroke-width="1.1" />
<line x1="109.44" y1="852.60" x2="109.44" y2="854.90" stroke="#000" stroke-width="1.1" />
<line x1="111.07" y1="852.60" x2="111.07" y2="854.90" stroke="#000" stroke-width="1.1" />
<line x1="112.46" y1="852.60" x2="112.46" y2="854.90" stroke="#000" stroke-width="1.1" />
<line x1="113.65" y1="852.60" x2="113.65" y2="854.90" stroke="#000" stroke-width="1.1" />
<line x1="114.71" y1="852.60" x2="114.71" y2="854.90" stroke="#000" stroke-width="1.1" />
<line x1="115.65" y1="852.60" x2="115.65" y2="856.80" stroke="#000" stroke-width="1.1" />
<line x1="121.86" y1="852.60" x2="121.86" y2="854.90" stroke="#000" stroke-width="1.1" />
<line x1="125.49" y1="852.60" x2="125.49" y2="854.90" stroke="#000" stroke-width="1.1" />
<line x1="128.07" y1="852.60" x2="128.07" y2="854.90" stroke="#000" stroke-width="1.1" />
<line x1="130.07" y1="852.60" x2="130.07" y2="854.90" stroke="#000" stroke-width="1.1" />
<line x1="131.70" y1="852.60" x2="131.70" y2="854.90" stroke="#000" stroke-width="1.1" />
<line x1="133.08" y1="852.60" x2="133.08" y2="854.90" stroke="#000" stroke-width="1.1" />
<line x1="134.28" y1="852.60" x2="134.28" y2="854.90" stroke="#000" stroke-width="1.1" />
<line x1="135.33" y1="852.60" x2="135.33" y2="854.90" stroke="#000" stroke-width="1.1" />
<line x1="136.28" y1="852.60" x2="136.28" y2="856.80" stroke="#000" stroke-width="1.1" />
<line x1="142.48" y1="852.60" x2="142.48" y2="854.90" stroke="#000" stroke-width="1.1" />
<line x1="146.12" y1="852.60" x2="146.12" y2="854.90" stroke="#000" stroke-width="1.1" />
<line x1="148.69" y1="852.60" x2="148.69" y2="854.90" stroke="#000" stroke-width="1.1" />
<line x1="150.69" y1="852.60" x2="150.69" y2="854.90" stroke="#000" stroke-width="1.1" />
<line x1="152.32" y1="852.60" x2="152.32" y2="854.90" stroke="#000" stroke-width="1.1" />
<line x1="153.71" y1="852.60" x2="153.71" y2="854.90" stroke="#000" stroke-width="1.1" />
<line x1="154.90" y1="852.60" x2="154.90" y2="854.90" stroke="#000" stroke-width="1.1" />
<line x1="155.96" y1="852.60" x2="155.96" y2="854.90" stroke="#000" stroke-width="1.1" />
<line x1="156.90" y1="852.60" x2="156.90" y2="856.80" stroke="#000" stroke-width="1.1" />
<text x="67.64" y="869.80" font-size="9.3" fill="#000">10<tspan dx="0.7" dy="-4.6" font-size="6.6">0</tspan></text>
<text x="88.27" y="869.80" font-size="9.3" fill="#000">10<tspan dx="0.7" dy="-4.6" font-size="6.6">1</tspan></text>
<text x="108.89" y="869.80" font-size="9.3" fill="#000">10<tspan dx="0.7" dy="-4.6" font-size="6.6">2</tspan></text>
<text x="129.52" y="869.80" font-size="9.3" fill="#000">10<tspan dx="0.7" dy="-4.6" font-size="6.6">3</tspan></text>
<text x="150.14" y="869.80" font-size="9.3" fill="#000">10<tspan dx="0.7" dy="-4.6" font-size="6.6">4</tspan></text>
<line x1="74.40" y1="852.60" x2="69.80" y2="852.60" stroke="#000" stroke-width="1.1" />
<line x1="74.40" y1="846.45" x2="71.90" y2="846.45" stroke="#000" stroke-width="1.1" />
<line x1="74.40" y1="842.85" x2="71.90" y2="842.85" stroke="#000" stroke-width="1.1" />
<line x1="74.40" y1="840.30" x2="71.90" y2="840.30" stroke="#000" stroke-width="1.1" />
<line x1="74.40" y1="838.32" x2="71.90" y2="838.32" stroke="#000" stroke-width="1.1" />
<line x1="74.40" y1="836.71" x2="71.90" y2="836.71" stroke="#000" stroke-width="1.1" />
<line x1="74.40" y1="835.34" x2="71.90" y2="835.34" stroke="#000" stroke-width="1.1" />
<line x1="74.40" y1="834.15" x2="71.90" y2="834.15" stroke="#000" stroke-width="1.1" />
<line x1="74.40" y1="833.11" x2="71.90" y2="833.11" stroke="#000" stroke-width="1.1" />
<line x1="74.40" y1="832.17" x2="69.80" y2="832.17" stroke="#000" stroke-width="1.1" />
<line x1="74.40" y1="826.03" x2="71.90" y2="826.03" stroke="#000" stroke-width="1.1" />
<line x1="74.40" y1="822.43" x2="71.90" y2="822.43" stroke="#000" stroke-width="1.1" />
<line x1="74.40" y1="819.88" x2="71.90" y2="819.88" stroke="#000" stroke-width="1.1" />
<line x1="74.40" y1="817.90" x2="71.90" y2="817.90" stroke="#000" stroke-width="1.1" />
<line x1="74.40" y1="816.28" x2="71.90" y2="816.28" stroke="#000" stroke-width="1.1" />
<line x1="74.40" y1="814.91" x2="71.90" y2="814.91" stroke="#000" stroke-width="1.1" />
<line x1="74.40" y1="813.73" x2="71.90" y2="813.73" stroke="#000" stroke-width="1.1" />
<line x1="74.40" y1="812.68" x2="71.90" y2="812.68" stroke="#000" stroke-width="1.1" />
<line x1="74.40" y1="811.75" x2="69.80" y2="811.75" stroke="#000" stroke-width="1.1" />
<line x1="74.40" y1="805.60" x2="71.90" y2="805.60" stroke="#000" stroke-width="1.1" />
<line x1="74.40" y1="802.00" x2="71.90" y2="802.00" stroke="#000" stroke-width="1.1" />
<line x1="74.40" y1="799.45" x2="71.90" y2="799.45" stroke="#000" stroke-width="1.1" />
<line x1="74.40" y1="797.47" x2="71.90" y2="797.47" stroke="#000" stroke-width="1.1" />
<line x1="74.40" y1="795.86" x2="71.90" y2="795.86" stroke="#000" stroke-width="1.1" />
<line x1="74.40" y1="794.49" x2="71.90" y2="794.49" stroke="#000" stroke-width="1.1" />
<line x1="74.40" y1="793.30" x2="71.90" y2="793.30" stroke="#000" stroke-width="1.1" />
<line x1="74.40" y1="792.26" x2="71.90" y2="792.26" stroke="#000" stroke-width="1.1" />
<line x1="74.40" y1="791.33" x2="69.80" y2="791.33" stroke="#000" stroke-width="1.1" />
<line x1="74.40" y1="785.18" x2="71.90" y2="785.18" stroke="#000" stroke-width="1.1" />
<line x1="74.40" y1="781.58" x2="71.90" y2="781.58" stroke="#000" stroke-width="1.1" />
<line x1="74.40" y1="779.03" x2="71.90" y2="779.03" stroke="#000" stroke-width="1.1" />
<line x1="74.40" y1="777.05" x2="71.90" y2="777.05" stroke="#000" stroke-width="1.1" />
<line x1="74.40" y1="775.43" x2="71.90" y2="775.43" stroke="#000" stroke-width="1.1" />
<line x1="74.40" y1="774.06" x2="71.90" y2="774.06" stroke="#000" stroke-width="1.1" />
<line x1="74.40" y1="772.88" x2="71.90" y2="772.88" stroke="#000" stroke-width="1.1" />
<line x1="74.40" y1="771.83" x2="71.90" y2="771.83" stroke="#000" stroke-width="1.1" />
<line x1="74.40" y1="770.90" x2="69.80" y2="770.90" stroke="#000" stroke-width="1.1" />
<text x="50.89" y="855.80" font-size="9.3" fill="#000">10<tspan dx="0.7" dy="-4.6" font-size="6.6">0</tspan></text>
<text x="50.89" y="835.38" font-size="9.3" fill="#000">10<tspan dx="0.7" dy="-4.6" font-size="6.6">1</tspan></text>
<text x="50.89" y="814.95" font-size="9.3" fill="#000">10<tspan dx="0.7" dy="-4.6" font-size="6.6">2</tspan></text>
<text x="50.89" y="794.53" font-size="9.3" fill="#000">10<tspan dx="0.7" dy="-4.6" font-size="6.6">3</tspan></text>
<text x="50.89" y="774.10" font-size="9.3" fill="#000">10<tspan dx="0.7" dy="-4.6" font-size="6.6">4</tspan></text>
<rect x="74.40" y="770.90" width="82.50" height="81.70" fill="none" stroke="#000" stroke-width="1.8" />
<line x1="176.00" y1="852.60" x2="176.00" y2="856.80" stroke="#000" stroke-width="1.1" />
<line x1="182.19" y1="852.60" x2="182.19" y2="854.90" stroke="#000" stroke-width="1.1" />
<line x1="185.82" y1="852.60" x2="185.82" y2="854.90" stroke="#000" stroke-width="1.1" />
<line x1="188.39" y1="852.60" x2="188.39" y2="854.90" stroke="#000" stroke-width="1.1" />
<line x1="190.38" y1="852.60" x2="190.38" y2="854.90" stroke="#000" stroke-width="1.1" />
<line x1="192.01" y1="852.60" x2="192.01" y2="854.90" stroke="#000" stroke-width="1.1" />
<line x1="193.39" y1="852.60" x2="193.39" y2="854.90" stroke="#000" stroke-width="1.1" />
<line x1="194.58" y1="852.60" x2="194.58" y2="854.90" stroke="#000" stroke-width="1.1" />
<line x1="195.63" y1="852.60" x2="195.63" y2="854.90" stroke="#000" stroke-width="1.1" />
<line x1="196.57" y1="852.60" x2="196.57" y2="856.80" stroke="#000" stroke-width="1.1" />
<line x1="202.77" y1="852.60" x2="202.77" y2="854.90" stroke="#000" stroke-width="1.1" />
<line x1="206.39" y1="852.60" x2="206.39" y2="854.90" stroke="#000" stroke-width="1.1" />
<line x1="208.96" y1="852.60" x2="208.96" y2="854.90" stroke="#000" stroke-width="1.1" />
<line x1="210.96" y1="852.60" x2="210.96" y2="854.90" stroke="#000" stroke-width="1.1" />
<line x1="212.59" y1="852.60" x2="212.59" y2="854.90" stroke="#000" stroke-width="1.1" />
<line x1="213.96" y1="852.60" x2="213.96" y2="854.90" stroke="#000" stroke-width="1.1" />
<line x1="215.16" y1="852.60" x2="215.16" y2="854.90" stroke="#000" stroke-width="1.1" />
<line x1="216.21" y1="852.60" x2="216.21" y2="854.90" stroke="#000" stroke-width="1.1" />
<line x1="217.15" y1="852.60" x2="217.15" y2="856.80" stroke="#000" stroke-width="1.1" />
<line x1="223.34" y1="852.60" x2="223.34" y2="854.90" stroke="#000" stroke-width="1.1" />
<line x1="226.97" y1="852.60" x2="226.97" y2="854.90" stroke="#000" stroke-width="1.1" />
<line x1="229.54" y1="852.60" x2="229.54" y2="854.90" stroke="#000" stroke-width="1.1" />
<line x1="231.53" y1="852.60" x2="231.53" y2="854.90" stroke="#000" stroke-width="1.1" />
<line x1="233.16" y1="852.60" x2="233.16" y2="854.90" stroke="#000" stroke-width="1.1" />
<line x1="234.54" y1="852.60" x2="234.54" y2="854.90" stroke="#000" stroke-width="1.1" />
<line x1="235.73" y1="852.60" x2="235.73" y2="854.90" stroke="#000" stroke-width="1.1" />
<line x1="236.78" y1="852.60" x2="236.78" y2="854.90" stroke="#000" stroke-width="1.1" />
<line x1="237.73" y1="852.60" x2="237.73" y2="856.80" stroke="#000" stroke-width="1.1" />
<line x1="243.92" y1="852.60" x2="243.92" y2="854.90" stroke="#000" stroke-width="1.1" />
<line x1="247.54" y1="852.60" x2="247.54" y2="854.90" stroke="#000" stroke-width="1.1" />
<line x1="250.11" y1="852.60" x2="250.11" y2="854.90" stroke="#000" stroke-width="1.1" />
<line x1="252.11" y1="852.60" x2="252.11" y2="854.90" stroke="#000" stroke-width="1.1" />
<line x1="253.74" y1="852.60" x2="253.74" y2="854.90" stroke="#000" stroke-width="1.1" />
<line x1="255.11" y1="852.60" x2="255.11" y2="854.90" stroke="#000" stroke-width="1.1" />
<line x1="256.31" y1="852.60" x2="256.31" y2="854.90" stroke="#000" stroke-width="1.1" />
<line x1="257.36" y1="852.60" x2="257.36" y2="854.90" stroke="#000" stroke-width="1.1" />
<line x1="258.30" y1="852.60" x2="258.30" y2="856.80" stroke="#000" stroke-width="1.1" />
<text x="169.24" y="870.00" font-size="9.3" fill="#000">10<tspan dx="0.7" dy="-4.6" font-size="6.6">0</tspan></text>
<text x="189.82" y="870.00" font-size="9.3" fill="#000">10<tspan dx="0.7" dy="-4.6" font-size="6.6">1</tspan></text>
<text x="210.39" y="870.00" font-size="9.3" fill="#000">10<tspan dx="0.7" dy="-4.6" font-size="6.6">2</tspan></text>
<text x="230.97" y="870.00" font-size="9.3" fill="#000">10<tspan dx="0.7" dy="-4.6" font-size="6.6">3</tspan></text>
<text x="251.54" y="870.00" font-size="9.3" fill="#000">10<tspan dx="0.7" dy="-4.6" font-size="6.6">4</tspan></text>
<line x1="176.00" y1="852.60" x2="171.40" y2="852.60" stroke="#000" stroke-width="1.1" />
<line x1="176.00" y1="846.44" x2="173.50" y2="846.44" stroke="#000" stroke-width="1.1" />
<line x1="176.00" y1="842.83" x2="173.50" y2="842.83" stroke="#000" stroke-width="1.1" />
<line x1="176.00" y1="840.27" x2="173.50" y2="840.27" stroke="#000" stroke-width="1.1" />
<line x1="176.00" y1="838.29" x2="173.50" y2="838.29" stroke="#000" stroke-width="1.1" />
<line x1="176.00" y1="836.67" x2="173.50" y2="836.67" stroke="#000" stroke-width="1.1" />
<line x1="176.00" y1="835.30" x2="173.50" y2="835.30" stroke="#000" stroke-width="1.1" />
<line x1="176.00" y1="834.11" x2="173.50" y2="834.11" stroke="#000" stroke-width="1.1" />
<line x1="176.00" y1="833.06" x2="173.50" y2="833.06" stroke="#000" stroke-width="1.1" />
<line x1="176.00" y1="832.12" x2="171.40" y2="832.12" stroke="#000" stroke-width="1.1" />
<line x1="176.00" y1="825.96" x2="173.50" y2="825.96" stroke="#000" stroke-width="1.1" />
<line x1="176.00" y1="822.36" x2="173.50" y2="822.36" stroke="#000" stroke-width="1.1" />
<line x1="176.00" y1="819.80" x2="173.50" y2="819.80" stroke="#000" stroke-width="1.1" />
<line x1="176.00" y1="817.81" x2="173.50" y2="817.81" stroke="#000" stroke-width="1.1" />
<line x1="176.00" y1="816.19" x2="173.50" y2="816.19" stroke="#000" stroke-width="1.1" />
<line x1="176.00" y1="814.82" x2="173.50" y2="814.82" stroke="#000" stroke-width="1.1" />
<line x1="176.00" y1="813.63" x2="173.50" y2="813.63" stroke="#000" stroke-width="1.1" />
<line x1="176.00" y1="812.59" x2="173.50" y2="812.59" stroke="#000" stroke-width="1.1" />
<line x1="176.00" y1="811.65" x2="171.40" y2="811.65" stroke="#000" stroke-width="1.1" />
<line x1="176.00" y1="805.49" x2="173.50" y2="805.49" stroke="#000" stroke-width="1.1" />
<line x1="176.00" y1="801.88" x2="173.50" y2="801.88" stroke="#000" stroke-width="1.1" />
<line x1="176.00" y1="799.32" x2="173.50" y2="799.32" stroke="#000" stroke-width="1.1" />
<line x1="176.00" y1="797.34" x2="173.50" y2="797.34" stroke="#000" stroke-width="1.1" />
<line x1="176.00" y1="795.72" x2="173.50" y2="795.72" stroke="#000" stroke-width="1.1" />
<line x1="176.00" y1="794.35" x2="173.50" y2="794.35" stroke="#000" stroke-width="1.1" />
<line x1="176.00" y1="793.16" x2="173.50" y2="793.16" stroke="#000" stroke-width="1.1" />
<line x1="176.00" y1="792.11" x2="173.50" y2="792.11" stroke="#000" stroke-width="1.1" />
<line x1="176.00" y1="791.18" x2="171.40" y2="791.18" stroke="#000" stroke-width="1.1" />
<line x1="176.00" y1="785.01" x2="173.50" y2="785.01" stroke="#000" stroke-width="1.1" />
<line x1="176.00" y1="781.41" x2="173.50" y2="781.41" stroke="#000" stroke-width="1.1" />
<line x1="176.00" y1="778.85" x2="173.50" y2="778.85" stroke="#000" stroke-width="1.1" />
<line x1="176.00" y1="776.86" x2="173.50" y2="776.86" stroke="#000" stroke-width="1.1" />
<line x1="176.00" y1="775.24" x2="173.50" y2="775.24" stroke="#000" stroke-width="1.1" />
<line x1="176.00" y1="773.87" x2="173.50" y2="773.87" stroke="#000" stroke-width="1.1" />
<line x1="176.00" y1="772.68" x2="173.50" y2="772.68" stroke="#000" stroke-width="1.1" />
<line x1="176.00" y1="771.64" x2="173.50" y2="771.64" stroke="#000" stroke-width="1.1" />
<line x1="176.00" y1="770.70" x2="171.40" y2="770.70" stroke="#000" stroke-width="1.1" />
<rect x="176.00" y="770.70" width="82.30" height="81.90" fill="none" stroke="#000" stroke-width="1.8" />
<line x1="314.60" y1="852.60" x2="314.60" y2="856.80" stroke="#000" stroke-width="1.1" />
<line x1="320.76" y1="852.60" x2="320.76" y2="854.90" stroke="#000" stroke-width="1.1" />
<line x1="324.36" y1="852.60" x2="324.36" y2="854.90" stroke="#000" stroke-width="1.1" />
<line x1="326.91" y1="852.60" x2="326.91" y2="854.90" stroke="#000" stroke-width="1.1" />
<line x1="328.89" y1="852.60" x2="328.89" y2="854.90" stroke="#000" stroke-width="1.1" />
<line x1="330.51" y1="852.60" x2="330.51" y2="854.90" stroke="#000" stroke-width="1.1" />
<line x1="331.88" y1="852.60" x2="331.88" y2="854.90" stroke="#000" stroke-width="1.1" />
<line x1="333.07" y1="852.60" x2="333.07" y2="854.90" stroke="#000" stroke-width="1.1" />
<line x1="334.11" y1="852.60" x2="334.11" y2="854.90" stroke="#000" stroke-width="1.1" />
<line x1="335.05" y1="852.60" x2="335.05" y2="856.80" stroke="#000" stroke-width="1.1" />
<line x1="341.21" y1="852.60" x2="341.21" y2="854.90" stroke="#000" stroke-width="1.1" />
<line x1="344.81" y1="852.60" x2="344.81" y2="854.90" stroke="#000" stroke-width="1.1" />
<line x1="347.36" y1="852.60" x2="347.36" y2="854.90" stroke="#000" stroke-width="1.1" />
<line x1="349.34" y1="852.60" x2="349.34" y2="854.90" stroke="#000" stroke-width="1.1" />
<line x1="350.96" y1="852.60" x2="350.96" y2="854.90" stroke="#000" stroke-width="1.1" />
<line x1="352.33" y1="852.60" x2="352.33" y2="854.90" stroke="#000" stroke-width="1.1" />
<line x1="353.52" y1="852.60" x2="353.52" y2="854.90" stroke="#000" stroke-width="1.1" />
<line x1="354.56" y1="852.60" x2="354.56" y2="854.90" stroke="#000" stroke-width="1.1" />
<line x1="355.50" y1="852.60" x2="355.50" y2="856.80" stroke="#000" stroke-width="1.1" />
<line x1="361.66" y1="852.60" x2="361.66" y2="854.90" stroke="#000" stroke-width="1.1" />
<line x1="365.26" y1="852.60" x2="365.26" y2="854.90" stroke="#000" stroke-width="1.1" />
<line x1="367.81" y1="852.60" x2="367.81" y2="854.90" stroke="#000" stroke-width="1.1" />
<line x1="369.79" y1="852.60" x2="369.79" y2="854.90" stroke="#000" stroke-width="1.1" />
<line x1="371.41" y1="852.60" x2="371.41" y2="854.90" stroke="#000" stroke-width="1.1" />
<line x1="372.78" y1="852.60" x2="372.78" y2="854.90" stroke="#000" stroke-width="1.1" />
<line x1="373.97" y1="852.60" x2="373.97" y2="854.90" stroke="#000" stroke-width="1.1" />
<line x1="375.01" y1="852.60" x2="375.01" y2="854.90" stroke="#000" stroke-width="1.1" />
<line x1="375.95" y1="852.60" x2="375.95" y2="856.80" stroke="#000" stroke-width="1.1" />
<line x1="382.11" y1="852.60" x2="382.11" y2="854.90" stroke="#000" stroke-width="1.1" />
<line x1="385.71" y1="852.60" x2="385.71" y2="854.90" stroke="#000" stroke-width="1.1" />
<line x1="388.26" y1="852.60" x2="388.26" y2="854.90" stroke="#000" stroke-width="1.1" />
<line x1="390.24" y1="852.60" x2="390.24" y2="854.90" stroke="#000" stroke-width="1.1" />
<line x1="391.86" y1="852.60" x2="391.86" y2="854.90" stroke="#000" stroke-width="1.1" />
<line x1="393.23" y1="852.60" x2="393.23" y2="854.90" stroke="#000" stroke-width="1.1" />
<line x1="394.42" y1="852.60" x2="394.42" y2="854.90" stroke="#000" stroke-width="1.1" />
<line x1="395.46" y1="852.60" x2="395.46" y2="854.90" stroke="#000" stroke-width="1.1" />
<line x1="396.40" y1="852.60" x2="396.40" y2="856.80" stroke="#000" stroke-width="1.1" />
<text x="307.84" y="869.80" font-size="9.3" fill="#000">10<tspan dx="0.7" dy="-4.6" font-size="6.6">0</tspan></text>
<text x="328.29" y="869.80" font-size="9.3" fill="#000">10<tspan dx="0.7" dy="-4.6" font-size="6.6">1</tspan></text>
<text x="348.74" y="869.80" font-size="9.3" fill="#000">10<tspan dx="0.7" dy="-4.6" font-size="6.6">2</tspan></text>
<text x="369.19" y="869.80" font-size="9.3" fill="#000">10<tspan dx="0.7" dy="-4.6" font-size="6.6">3</tspan></text>
<text x="389.64" y="869.80" font-size="9.3" fill="#000">10<tspan dx="0.7" dy="-4.6" font-size="6.6">4</tspan></text>
<line x1="314.60" y1="852.60" x2="310.00" y2="852.60" stroke="#000" stroke-width="1.1" />
<line x1="314.60" y1="846.41" x2="312.10" y2="846.41" stroke="#000" stroke-width="1.1" />
<line x1="314.60" y1="842.80" x2="312.10" y2="842.80" stroke="#000" stroke-width="1.1" />
<line x1="314.60" y1="840.23" x2="312.10" y2="840.23" stroke="#000" stroke-width="1.1" />
<line x1="314.60" y1="838.24" x2="312.10" y2="838.24" stroke="#000" stroke-width="1.1" />
<line x1="314.60" y1="836.61" x2="312.10" y2="836.61" stroke="#000" stroke-width="1.1" />
<line x1="314.60" y1="835.23" x2="312.10" y2="835.23" stroke="#000" stroke-width="1.1" />
<line x1="314.60" y1="834.04" x2="312.10" y2="834.04" stroke="#000" stroke-width="1.1" />
<line x1="314.60" y1="832.99" x2="312.10" y2="832.99" stroke="#000" stroke-width="1.1" />
<line x1="314.60" y1="832.05" x2="310.00" y2="832.05" stroke="#000" stroke-width="1.1" />
<line x1="314.60" y1="825.86" x2="312.10" y2="825.86" stroke="#000" stroke-width="1.1" />
<line x1="314.60" y1="822.25" x2="312.10" y2="822.25" stroke="#000" stroke-width="1.1" />
<line x1="314.60" y1="819.68" x2="312.10" y2="819.68" stroke="#000" stroke-width="1.1" />
<line x1="314.60" y1="817.69" x2="312.10" y2="817.69" stroke="#000" stroke-width="1.1" />
<line x1="314.60" y1="816.06" x2="312.10" y2="816.06" stroke="#000" stroke-width="1.1" />
<line x1="314.60" y1="814.68" x2="312.10" y2="814.68" stroke="#000" stroke-width="1.1" />
<line x1="314.60" y1="813.49" x2="312.10" y2="813.49" stroke="#000" stroke-width="1.1" />
<line x1="314.60" y1="812.44" x2="312.10" y2="812.44" stroke="#000" stroke-width="1.1" />
<line x1="314.60" y1="811.50" x2="310.00" y2="811.50" stroke="#000" stroke-width="1.1" />
<line x1="314.60" y1="805.31" x2="312.10" y2="805.31" stroke="#000" stroke-width="1.1" />
<line x1="314.60" y1="801.70" x2="312.10" y2="801.70" stroke="#000" stroke-width="1.1" />
<line x1="314.60" y1="799.13" x2="312.10" y2="799.13" stroke="#000" stroke-width="1.1" />
<line x1="314.60" y1="797.14" x2="312.10" y2="797.14" stroke="#000" stroke-width="1.1" />
<line x1="314.60" y1="795.51" x2="312.10" y2="795.51" stroke="#000" stroke-width="1.1" />
<line x1="314.60" y1="794.13" x2="312.10" y2="794.13" stroke="#000" stroke-width="1.1" />
<line x1="314.60" y1="792.94" x2="312.10" y2="792.94" stroke="#000" stroke-width="1.1" />
<line x1="314.60" y1="791.89" x2="312.10" y2="791.89" stroke="#000" stroke-width="1.1" />
<line x1="314.60" y1="790.95" x2="310.00" y2="790.95" stroke="#000" stroke-width="1.1" />
<line x1="314.60" y1="784.76" x2="312.10" y2="784.76" stroke="#000" stroke-width="1.1" />
<line x1="314.60" y1="781.15" x2="312.10" y2="781.15" stroke="#000" stroke-width="1.1" />
<line x1="314.60" y1="778.58" x2="312.10" y2="778.58" stroke="#000" stroke-width="1.1" />
<line x1="314.60" y1="776.59" x2="312.10" y2="776.59" stroke="#000" stroke-width="1.1" />
<line x1="314.60" y1="774.96" x2="312.10" y2="774.96" stroke="#000" stroke-width="1.1" />
<line x1="314.60" y1="773.58" x2="312.10" y2="773.58" stroke="#000" stroke-width="1.1" />
<line x1="314.60" y1="772.39" x2="312.10" y2="772.39" stroke="#000" stroke-width="1.1" />
<line x1="314.60" y1="771.34" x2="312.10" y2="771.34" stroke="#000" stroke-width="1.1" />
<line x1="314.60" y1="770.40" x2="310.00" y2="770.40" stroke="#000" stroke-width="1.1" />
<text x="290.89" y="855.80" font-size="9.3" fill="#000">10<tspan dx="0.7" dy="-4.6" font-size="6.6">0</tspan></text>
<text x="290.89" y="835.25" font-size="9.3" fill="#000">10<tspan dx="0.7" dy="-4.6" font-size="6.6">1</tspan></text>
<text x="290.89" y="814.70" font-size="9.3" fill="#000">10<tspan dx="0.7" dy="-4.6" font-size="6.6">2</tspan></text>
<text x="290.89" y="794.15" font-size="9.3" fill="#000">10<tspan dx="0.7" dy="-4.6" font-size="6.6">3</tspan></text>
<text x="290.89" y="773.60" font-size="9.3" fill="#000">10<tspan dx="0.7" dy="-4.6" font-size="6.6">4</tspan></text>
<rect x="314.60" y="770.40" width="81.80" height="82.20" fill="none" stroke="#000" stroke-width="1.8" />
<line x1="414.60" y1="852.60" x2="414.60" y2="856.80" stroke="#000" stroke-width="1.1" />
<line x1="420.79" y1="852.60" x2="420.79" y2="854.90" stroke="#000" stroke-width="1.1" />
<line x1="424.42" y1="852.60" x2="424.42" y2="854.90" stroke="#000" stroke-width="1.1" />
<line x1="426.99" y1="852.60" x2="426.99" y2="854.90" stroke="#000" stroke-width="1.1" />
<line x1="428.98" y1="852.60" x2="428.98" y2="854.90" stroke="#000" stroke-width="1.1" />
<line x1="430.61" y1="852.60" x2="430.61" y2="854.90" stroke="#000" stroke-width="1.1" />
<line x1="431.99" y1="852.60" x2="431.99" y2="854.90" stroke="#000" stroke-width="1.1" />
<line x1="433.18" y1="852.60" x2="433.18" y2="854.90" stroke="#000" stroke-width="1.1" />
<line x1="434.23" y1="852.60" x2="434.23" y2="854.90" stroke="#000" stroke-width="1.1" />
<line x1="435.18" y1="852.60" x2="435.18" y2="856.80" stroke="#000" stroke-width="1.1" />
<line x1="441.37" y1="852.60" x2="441.37" y2="854.90" stroke="#000" stroke-width="1.1" />
<line x1="444.99" y1="852.60" x2="444.99" y2="854.90" stroke="#000" stroke-width="1.1" />
<line x1="447.56" y1="852.60" x2="447.56" y2="854.90" stroke="#000" stroke-width="1.1" />
<line x1="449.56" y1="852.60" x2="449.56" y2="854.90" stroke="#000" stroke-width="1.1" />
<line x1="451.19" y1="852.60" x2="451.19" y2="854.90" stroke="#000" stroke-width="1.1" />
<line x1="452.56" y1="852.60" x2="452.56" y2="854.90" stroke="#000" stroke-width="1.1" />
<line x1="453.76" y1="852.60" x2="453.76" y2="854.90" stroke="#000" stroke-width="1.1" />
<line x1="454.81" y1="852.60" x2="454.81" y2="854.90" stroke="#000" stroke-width="1.1" />
<line x1="455.75" y1="852.60" x2="455.75" y2="856.80" stroke="#000" stroke-width="1.1" />
<line x1="461.94" y1="852.60" x2="461.94" y2="854.90" stroke="#000" stroke-width="1.1" />
<line x1="465.57" y1="852.60" x2="465.57" y2="854.90" stroke="#000" stroke-width="1.1" />
<line x1="468.14" y1="852.60" x2="468.14" y2="854.90" stroke="#000" stroke-width="1.1" />
<line x1="470.13" y1="852.60" x2="470.13" y2="854.90" stroke="#000" stroke-width="1.1" />
<line x1="471.76" y1="852.60" x2="471.76" y2="854.90" stroke="#000" stroke-width="1.1" />
<line x1="473.14" y1="852.60" x2="473.14" y2="854.90" stroke="#000" stroke-width="1.1" />
<line x1="474.33" y1="852.60" x2="474.33" y2="854.90" stroke="#000" stroke-width="1.1" />
<line x1="475.38" y1="852.60" x2="475.38" y2="854.90" stroke="#000" stroke-width="1.1" />
<line x1="476.32" y1="852.60" x2="476.32" y2="856.80" stroke="#000" stroke-width="1.1" />
<line x1="482.52" y1="852.60" x2="482.52" y2="854.90" stroke="#000" stroke-width="1.1" />
<line x1="486.14" y1="852.60" x2="486.14" y2="854.90" stroke="#000" stroke-width="1.1" />
<line x1="488.71" y1="852.60" x2="488.71" y2="854.90" stroke="#000" stroke-width="1.1" />
<line x1="490.71" y1="852.60" x2="490.71" y2="854.90" stroke="#000" stroke-width="1.1" />
<line x1="492.34" y1="852.60" x2="492.34" y2="854.90" stroke="#000" stroke-width="1.1" />
<line x1="493.71" y1="852.60" x2="493.71" y2="854.90" stroke="#000" stroke-width="1.1" />
<line x1="494.91" y1="852.60" x2="494.91" y2="854.90" stroke="#000" stroke-width="1.1" />
<line x1="495.96" y1="852.60" x2="495.96" y2="854.90" stroke="#000" stroke-width="1.1" />
<line x1="496.90" y1="852.60" x2="496.90" y2="856.80" stroke="#000" stroke-width="1.1" />
<text x="407.84" y="869.80" font-size="9.3" fill="#000">10<tspan dx="0.7" dy="-4.6" font-size="6.6">0</tspan></text>
<text x="428.42" y="869.80" font-size="9.3" fill="#000">10<tspan dx="0.7" dy="-4.6" font-size="6.6">1</tspan></text>
<text x="448.99" y="869.80" font-size="9.3" fill="#000">10<tspan dx="0.7" dy="-4.6" font-size="6.6">2</tspan></text>
<text x="469.57" y="869.80" font-size="9.3" fill="#000">10<tspan dx="0.7" dy="-4.6" font-size="6.6">3</tspan></text>
<text x="490.14" y="869.80" font-size="9.3" fill="#000">10<tspan dx="0.7" dy="-4.6" font-size="6.6">4</tspan></text>
<line x1="414.60" y1="852.60" x2="410.00" y2="852.60" stroke="#000" stroke-width="1.1" />
<line x1="414.60" y1="846.44" x2="412.10" y2="846.44" stroke="#000" stroke-width="1.1" />
<line x1="414.60" y1="842.84" x2="412.10" y2="842.84" stroke="#000" stroke-width="1.1" />
<line x1="414.60" y1="840.29" x2="412.10" y2="840.29" stroke="#000" stroke-width="1.1" />
<line x1="414.60" y1="838.31" x2="412.10" y2="838.31" stroke="#000" stroke-width="1.1" />
<line x1="414.60" y1="836.69" x2="412.10" y2="836.69" stroke="#000" stroke-width="1.1" />
<line x1="414.60" y1="835.32" x2="412.10" y2="835.32" stroke="#000" stroke-width="1.1" />
<line x1="414.60" y1="834.13" x2="412.10" y2="834.13" stroke="#000" stroke-width="1.1" />
<line x1="414.60" y1="833.09" x2="412.10" y2="833.09" stroke="#000" stroke-width="1.1" />
<line x1="414.60" y1="832.15" x2="410.00" y2="832.15" stroke="#000" stroke-width="1.1" />
<line x1="414.60" y1="825.99" x2="412.10" y2="825.99" stroke="#000" stroke-width="1.1" />
<line x1="414.60" y1="822.39" x2="412.10" y2="822.39" stroke="#000" stroke-width="1.1" />
<line x1="414.60" y1="819.84" x2="412.10" y2="819.84" stroke="#000" stroke-width="1.1" />
<line x1="414.60" y1="817.86" x2="412.10" y2="817.86" stroke="#000" stroke-width="1.1" />
<line x1="414.60" y1="816.24" x2="412.10" y2="816.24" stroke="#000" stroke-width="1.1" />
<line x1="414.60" y1="814.87" x2="412.10" y2="814.87" stroke="#000" stroke-width="1.1" />
<line x1="414.60" y1="813.68" x2="412.10" y2="813.68" stroke="#000" stroke-width="1.1" />
<line x1="414.60" y1="812.64" x2="412.10" y2="812.64" stroke="#000" stroke-width="1.1" />
<line x1="414.60" y1="811.70" x2="410.00" y2="811.70" stroke="#000" stroke-width="1.1" />
<line x1="414.60" y1="805.54" x2="412.10" y2="805.54" stroke="#000" stroke-width="1.1" />
<line x1="414.60" y1="801.94" x2="412.10" y2="801.94" stroke="#000" stroke-width="1.1" />
<line x1="414.60" y1="799.39" x2="412.10" y2="799.39" stroke="#000" stroke-width="1.1" />
<line x1="414.60" y1="797.41" x2="412.10" y2="797.41" stroke="#000" stroke-width="1.1" />
<line x1="414.60" y1="795.79" x2="412.10" y2="795.79" stroke="#000" stroke-width="1.1" />
<line x1="414.60" y1="794.42" x2="412.10" y2="794.42" stroke="#000" stroke-width="1.1" />
<line x1="414.60" y1="793.23" x2="412.10" y2="793.23" stroke="#000" stroke-width="1.1" />
<line x1="414.60" y1="792.19" x2="412.10" y2="792.19" stroke="#000" stroke-width="1.1" />
<line x1="414.60" y1="791.25" x2="410.00" y2="791.25" stroke="#000" stroke-width="1.1" />
<line x1="414.60" y1="785.09" x2="412.10" y2="785.09" stroke="#000" stroke-width="1.1" />
<line x1="414.60" y1="781.49" x2="412.10" y2="781.49" stroke="#000" stroke-width="1.1" />
<line x1="414.60" y1="778.94" x2="412.10" y2="778.94" stroke="#000" stroke-width="1.1" />
<line x1="414.60" y1="776.96" x2="412.10" y2="776.96" stroke="#000" stroke-width="1.1" />
<line x1="414.60" y1="775.34" x2="412.10" y2="775.34" stroke="#000" stroke-width="1.1" />
<line x1="414.60" y1="773.97" x2="412.10" y2="773.97" stroke="#000" stroke-width="1.1" />
<line x1="414.60" y1="772.78" x2="412.10" y2="772.78" stroke="#000" stroke-width="1.1" />
<line x1="414.60" y1="771.74" x2="412.10" y2="771.74" stroke="#000" stroke-width="1.1" />
<line x1="414.60" y1="770.80" x2="410.00" y2="770.80" stroke="#000" stroke-width="1.1" />
<rect x="414.60" y="770.80" width="82.30" height="81.80" fill="none" stroke="#000" stroke-width="1.8" />
<line x1="35.20" y1="856.80" x2="35.20" y2="883.10" stroke="#000" stroke-width="1.5" />
<line x1="34.45" y1="883.10" x2="54.80" y2="883.10" stroke="#000" stroke-width="1.5" />
<path d="M31.60,859.10 L35.20,850.80 L38.80,859.10 L35.20,857.60 Z" fill="#000"/>
<path d="M52.50,879.50 L60.80,883.10 L52.50,886.70 L54.00,883.10 Z" fill="#000"/>
<text transform="translate(39.80,845.30) rotate(-90)" font-size="13" fill="#000" font-weight="normal" textLength="21.4" lengthAdjust="spacingAndGlyphs" stroke="#000" stroke-width="0.4">CD48</text>
<text x="66.0" y="886.8" font-size="12.6" text-anchor="start" fill="#000" font-weight="normal" textLength="25.5" lengthAdjust="spacingAndGlyphs"  stroke="#000" stroke-width="0.4">CD150</text>
<line x1="175.00" y1="883.10" x2="194.80" y2="883.10" stroke="#000" stroke-width="1.5" />
<path d="M192.50,879.50 L200.80,883.10 L192.50,886.70 L194.00,883.10 Z" fill="#000"/>
<text x="206.0" y="886.9" font-size="12.6" text-anchor="start" fill="#000" font-weight="normal" textLength="34.4" lengthAdjust="spacingAndGlyphs"  stroke="#000" stroke-width="0.4">C/EBPβ</text>
<line x1="277.90" y1="856.70" x2="277.90" y2="882.80" stroke="#000" stroke-width="1.5" />
<line x1="277.15" y1="882.80" x2="297.30" y2="882.80" stroke="#000" stroke-width="1.5" />
<path d="M274.30,859.00 L277.90,850.70 L281.50,859.00 L277.90,857.50 Z" fill="#000"/>
<path d="M295.00,879.20 L303.30,882.80 L295.00,886.40 L296.50,882.80 Z" fill="#000"/>
<text transform="translate(283.00,845.10) rotate(-90)" font-size="12.8" fill="#000" font-weight="normal" textLength="27.4" lengthAdjust="spacingAndGlyphs" stroke="#000" stroke-width="0.4">N-term</text>
<text x="308.3" y="886.6" font-size="12.6" text-anchor="start" fill="#000" font-weight="normal" textLength="27.9" lengthAdjust="spacingAndGlyphs"  stroke="#000" stroke-width="0.4">C-term</text>
<line x1="415.70" y1="883.50" x2="436.00" y2="883.50" stroke="#000" stroke-width="1.5" />
<path d="M433.70,879.90 L442.00,883.50 L433.70,887.10 L435.20,883.50 Z" fill="#000"/>
<text x="447.6" y="887.0" font-size="12.6" text-anchor="start" fill="#000" font-weight="normal" textLength="25.8" lengthAdjust="spacingAndGlyphs"  stroke="#000" stroke-width="0.4">CD150</text>
<line x1="86.70" y1="782.50" x2="97.50" y2="782.50" stroke="#000" stroke-width="1.4" />
<text x="101.9" y="786.1" font-size="8.6" text-anchor="start" fill="#000" font-weight="normal" >CD150</text>
<text x="129.0" y="781.7" font-size="6.3" text-anchor="start" fill="#000" font-weight="normal" >low</text>
<line x1="86.70" y1="796.90" x2="97.50" y2="796.90" stroke="#b3143c" stroke-width="1.4" />
<text x="101.9" y="800.3" font-size="8.6" text-anchor="start" fill="#000" font-weight="normal" >CD150</text>
<text x="129.0" y="795.9" font-size="6.4" text-anchor="start" fill="#000" font-weight="normal" >high</text>
<defs><linearGradient id="gstripe" x1="0" y1="0" x2="0" y2="1"><stop offset="0" stop-color="#d8d8d8"/><stop offset="0.15" stop-color="#a8a8a8"/><stop offset="0.5" stop-color="#bcbcbc"/><stop offset="0.85" stop-color="#a0a0a0"/><stop offset="1" stop-color="#d0d0d0"/></linearGradient></defs>
<rect x="130.20" y="810.20" width="11.00" height="29.30" fill="url(#gstripe)" stroke="none" stroke-width="1" />
<path d="M130.2,813.5 Q136,812.3 141.5,813.8" fill="none" stroke="#777" stroke-width="0.8"/>
<path d="M130.2,817.4 Q136,816.2 141.5,817.7" fill="none" stroke="#222" stroke-width="1.2"/>
<path d="M130.2,820.5 Q136,819.3 141.5,820.8" fill="none" stroke="#666" stroke-width="0.8"/>
<path d="M130.2,824.8 Q136,823.6 141.5,825.1" fill="none" stroke="#f4f4f4" stroke-width="1.4"/>
<path d="M130.2,828.0 Q136,826.8 141.5,828.3" fill="none" stroke="#777" stroke-width="0.8"/>
<path d="M130.2,831.9 Q136,830.7 141.5,832.2" fill="none" stroke="#222" stroke-width="1.2"/>
<path d="M130.2,835.5 Q136,834.3 141.5,835.8" fill="none" stroke="#888" stroke-width="0.8"/>
<path d="M142.6,810.6 Q152,810.2 155,818 L155,825 Q152.5,832 142.6,833.2 Z" fill="#bdbdbd"/>
<path d="M142.8,812.6 Q153,812.8 153.6,821 Q153.2,829.5 143,832" fill="none" stroke="#7a7a7a" stroke-width="1.4"/>
<path d="M143,815.2 Q150.8,814.6 151.2,821.5 Q150.6,828 143,830.2" fill="none" stroke="#0a0a0a" stroke-width="3.2"/>
<path d="M143,815.2 Q150.8,814.6 151.2,821.5 Q150.6,828 143,830.2 Z" fill="#3a3a3a"/>
<path d="M143.5,825 Q147.5,824 149,820" fill="none" stroke="#888" stroke-width="0.7"/>
<ellipse cx="145.3" cy="821.3" rx="1.9" ry="3.1" transform="rotate(28 145.3 821.3)" fill="#fff"/>
<rect x="129.50" y="809.20" width="12.30" height="31.30" fill="none" stroke="#111" stroke-width="1.3" />
<rect x="142.20" y="809.20" width="13.30" height="31.30" fill="none" stroke="#b3143c" stroke-width="1.5" />
<line x1="155.50" y1="820.30" x2="210.00" y2="820.30" stroke="#b3143c" stroke-width="1.5" />
<path d="M208.2,817.2 L214,820.3 L208.2,823.4 L209.4,820.3 Z" fill="#b3143c"/>
<line x1="141.80" y1="832.90" x2="202.00" y2="832.90" stroke="#111" stroke-width="1.4" />
<path d="M199.9,829.8 L205.9,832.9 L199.9,836 L201.1,832.9 Z" fill="#111"/>
<polyline points="176.50,851.80 190.00,851.80 197.70,851.60 201.50,849.60 204.40,845.80 205.90,838.10 207.30,826.50 209.20,808.30 210.70,789.00 211.60,781.30 213.10,776.40 214.50,782.30 215.50,793.80 216.20,813.10 216.90,832.30 218.40,841.90 220.30,849.60 222.20,851.80 258.00,851.80" fill="none" stroke="#111" stroke-width="1.6" stroke-linejoin="round"/>
<polyline points="176.50,851.30 179.00,850.60 182.00,851.50 185.00,850.40 188.00,851.60 191.00,850.50 194.00,851.50 197.00,850.80 200.00,851.60 203.00,850.70 205.50,851.50 207.80,850.60 210.20,841.90 212.60,827.50 214.50,810.20 216.00,789.00 216.90,779.40 218.10,776.40 219.30,780.40 220.30,798.70 221.30,818.80 222.70,837.10 224.60,847.70 227.00,851.50 232.00,851.20 240.00,851.60 248.00,851.20 258.00,851.50" fill="none" stroke="#b3143c" stroke-width="1.6" stroke-linejoin="round"/>
<line x1="322.00" y1="783.40" x2="332.80" y2="783.40" stroke="#000" stroke-width="1.4" />
<text x="337.3" y="786.5" font-size="8.6" text-anchor="start" fill="#000" font-weight="normal" >C/EBPβ</text>
<text x="368.3" y="782.1" font-size="6.3" text-anchor="start" fill="#000" font-weight="normal" >low</text>
<line x1="322.00" y1="797.20" x2="332.80" y2="797.20" stroke="#2c4f93" stroke-width="1.4" />
<text x="337.3" y="800.6" font-size="8.6" text-anchor="start" fill="#000" font-weight="normal" >C/EBPβ</text>
<text x="368.3" y="796.2" font-size="6.4" text-anchor="start" fill="#000" font-weight="normal" >high</text>
<clipPath id="cp13"><path d="M334.90,835.80 C335.10,834.12 335.77,830.68 336.90,828.60 C338.03,826.52 339.82,824.78 341.70,823.30 C343.58,821.82 346.03,820.63 348.20,819.70 C350.37,818.77 352.82,817.90 354.70,817.70 C356.58,817.50 358.40,817.77 359.50,818.50 C360.60,819.23 361.23,820.55 361.30,822.10 C361.37,823.65 360.87,826.05 359.90,827.80 C358.93,829.55 357.05,831.12 355.50,832.60 C353.95,834.08 352.48,835.48 350.60,836.70 C348.72,837.92 346.22,839.30 344.20,839.90 C342.18,840.50 339.92,840.50 338.50,840.30 C337.08,840.10 336.30,839.45 335.70,838.70 C335.10,837.95 334.70,837.48 334.90,835.80Z"/></clipPath>
<g clip-path="url(#cp13)">
<path d="M334.90,835.80 C335.10,834.12 335.77,830.68 336.90,828.60 C338.03,826.52 339.82,824.78 341.70,823.30 C343.58,821.82 346.03,820.63 348.20,819.70 C350.37,818.77 352.82,817.90 354.70,817.70 C356.58,817.50 358.40,817.77 359.50,818.50 C360.60,819.23 361.23,820.55 361.30,822.10 C361.37,823.65 360.87,826.05 359.90,827.80 C358.93,829.55 357.05,831.12 355.50,832.60 C353.95,834.08 352.48,835.48 350.60,836.70 C348.72,837.92 346.22,839.30 344.20,839.90 C342.18,840.50 339.92,840.50 338.50,840.30 C337.08,840.10 336.30,839.45 335.70,838.70 C335.10,837.95 334.70,837.48 334.90,835.80Z" fill="#0d0d0d"/>
<path d="M334.90,835.80 C335.10,834.12 335.77,830.68 336.90,828.60 C338.03,826.52 339.82,824.78 341.70,823.30 C343.58,821.82 346.03,820.63 348.20,819.70 C350.37,818.77 352.82,817.90 354.70,817.70 C356.58,817.50 358.40,817.77 359.50,818.50 C360.60,819.23 361.23,820.55 361.30,822.10 C361.37,823.65 360.87,826.05 359.90,827.80 C358.93,829.55 357.05,831.12 355.50,832.60 C353.95,834.08 352.48,835.48 350.60,836.70 C348.72,837.92 346.22,839.30 344.20,839.90 C342.18,840.50 339.92,840.50 338.50,840.30 C337.08,840.10 336.30,839.45 335.70,838.70 C335.10,837.95 334.70,837.48 334.90,835.80Z" fill="none" stroke="#050505" stroke-width="7.0" stroke-linejoin="round"/>
<path d="M334.90,835.80 C335.10,834.12 335.77,830.68 336.90,828.60 C338.03,826.52 339.82,824.78 341.70,823.30 C343.58,821.82 346.03,820.63 348.20,819.70 C350.37,818.77 352.82,817.90 354.70,817.70 C356.58,817.50 358.40,817.77 359.50,818.50 C360.60,819.23 361.23,820.55 361.30,822.10 C361.37,823.65 360.87,826.05 359.90,827.80 C358.93,829.55 357.05,831.12 355.50,832.60 C353.95,834.08 352.48,835.48 350.60,836.70 C348.72,837.92 346.22,839.30 344.20,839.90 C342.18,840.50 339.92,840.50 338.50,840.30 C337.08,840.10 336.30,839.45 335.70,838.70 C335.10,837.95 334.70,837.48 334.90,835.80Z" fill="none" stroke="#d0d0d0" stroke-width="4.6" stroke-linejoin="round"/>
<path d="M334.90,835.80 C335.10,834.12 335.77,830.68 336.90,828.60 C338.03,826.52 339.82,824.78 341.70,823.30 C343.58,821.82 346.03,820.63 348.20,819.70 C350.37,818.77 352.82,817.90 354.70,817.70 C356.58,817.50 358.40,817.77 359.50,818.50 C360.60,819.23 361.23,820.55 361.30,822.10 C361.37,823.65 360.87,826.05 359.90,827.80 C358.93,829.55 357.05,831.12 355.50,832.60 C353.95,834.08 352.48,835.48 350.60,836.70 C348.72,837.92 346.22,839.30 344.20,839.90 C342.18,840.50 339.92,840.50 338.50,840.30 C337.08,840.10 336.30,839.45 335.70,838.70 C335.10,837.95 334.70,837.48 334.90,835.80Z" fill="none" stroke="#000" stroke-width="2.8" stroke-linejoin="round"/>
<path d="M341.02,832.46 C341.14,831.41 341.56,829.28 342.26,827.99 C342.96,826.70 344.07,825.63 345.23,824.71 C346.40,823.79 347.92,823.05 349.26,822.47 C350.61,821.90 352.13,821.36 353.29,821.23 C354.46,821.11 355.59,821.28 356.27,821.73 C356.95,822.18 357.34,823.00 357.39,823.96 C357.43,824.92 357.12,826.41 356.52,827.50 C355.92,828.58 354.75,829.55 353.79,830.47 C352.83,831.39 351.92,832.26 350.75,833.01 C349.58,833.77 348.03,834.63 346.78,835.00 C345.53,835.37 344.13,835.37 343.25,835.25 C342.37,835.12 341.89,834.72 341.51,834.25 C341.14,833.79 340.89,833.50 341.02,832.46Z" fill="none" stroke="#9a9a9a" stroke-width="0.65"/>
<path d="M344.24,830.70 C344.32,829.99 344.60,828.55 345.08,827.67 C345.55,826.80 346.30,826.07 347.09,825.45 C347.88,824.82 348.91,824.33 349.82,823.93 C350.73,823.54 351.76,823.18 352.55,823.09 C353.34,823.01 354.11,823.12 354.57,823.43 C355.03,823.74 355.30,824.29 355.33,824.94 C355.35,825.59 355.14,826.60 354.74,827.34 C354.33,828.07 353.54,828.73 352.89,829.35 C352.24,829.98 351.62,830.56 350.83,831.07 C350.04,831.59 348.99,832.17 348.14,832.42 C347.30,832.67 346.35,832.67 345.75,832.59 C345.15,832.50 344.83,832.23 344.57,831.91 C344.32,831.60 344.15,831.40 344.24,830.70Z" fill="none" stroke="#b0b0b0" stroke-width="0.65"/>
<path d="M347.14,829.11 C347.18,828.71 347.34,827.88 347.62,827.38 C347.89,826.88 348.32,826.47 348.77,826.11 C349.22,825.76 349.81,825.47 350.33,825.25 C350.85,825.02 351.44,824.82 351.89,824.77 C352.34,824.72 352.78,824.78 353.04,824.96 C353.30,825.14 353.46,825.45 353.47,825.82 C353.49,826.20 353.37,826.77 353.14,827.19 C352.90,827.61 352.45,827.99 352.08,828.34 C351.71,828.70 351.36,829.04 350.90,829.33 C350.45,829.62 349.85,829.95 349.37,830.10 C348.88,830.24 348.34,830.24 348.00,830.19 C347.66,830.14 347.47,829.99 347.33,829.81 C347.18,829.63 347.09,829.52 347.14,829.11Z" fill="none" stroke="#9a9a9a" stroke-width="0.65"/>
<path d="M349.39,827.88 C349.41,827.71 349.48,827.37 349.59,827.16 C349.70,826.95 349.88,826.78 350.07,826.63 C350.26,826.48 350.50,826.36 350.72,826.27 C350.94,826.18 351.18,826.09 351.37,826.07 C351.56,826.05 351.74,826.08 351.85,826.15 C351.96,826.22 352.02,826.36 352.03,826.51 C352.04,826.66 351.99,826.91 351.89,827.08 C351.79,827.25 351.61,827.41 351.45,827.56 C351.29,827.71 351.15,827.85 350.96,827.97 C350.77,828.09 350.52,828.23 350.32,828.29 C350.12,828.35 349.89,828.35 349.75,828.33 C349.61,828.31 349.53,828.25 349.47,828.17 C349.41,828.09 349.37,828.05 349.39,827.88Z" fill="#555"/>
</g>
<rect x="332.60" y="816.60" width="13.80" height="26.40" fill="none" stroke="#111" stroke-width="1.4" rx="1"/>
<rect x="350.60" y="816.40" width="13.40" height="26.60" fill="none" stroke="#2c4f93" stroke-width="1.5" rx="1"/>
<line x1="364.00" y1="829.30" x2="476.00" y2="829.30" stroke="#2c4f93" stroke-width="1.5" />
<path d="M473.2,826 L481.7,829.3 L473.2,832.6 L475,829.3 Z" fill="#2c4f93"/>
<line x1="346.40" y1="836.30" x2="463.00" y2="836.30" stroke="#111" stroke-width="1.4" />
<path d="M459.6,832.6 L468.3,836.3 L459.6,840 L461.6,836.3 Z" fill="#111"/>
<polyline points="415.00,852.00 440.00,851.90 469.20,852.00 470.50,820.00 472.60,776.40 474.50,787.60 475.20,786.60 476.20,793.80 477.90,803.50 479.30,806.30 480.80,818.80 482.70,832.30 483.80,841.00 485.80,833.80 487.00,840.00 488.90,849.60 492.30,852.00 496.50,852.00" fill="none" stroke="#111" stroke-width="1.6" stroke-linejoin="round"/>
<polyline points="415.00,851.80 430.00,851.60 445.00,851.90 460.00,851.60 469.20,851.80 471.60,846.70 473.60,846.30 475.50,847.70 476.90,843.80 478.40,839.00 479.80,838.10 480.80,831.30 482.20,817.90 483.70,798.70 484.80,776.50 486.10,779.40 487.00,776.50 488.00,789.00 489.40,808.30 491.30,830.40 493.80,843.80 496.20,850.60" fill="none" stroke="#2c4f93" stroke-width="1.6" stroke-linejoin="round"/>
<text x="12.2" y="915.5" font-size="17.8" text-anchor="start" fill="#000" font-weight="bold" >H</text>
<text x="74.5" y="916.3" font-size="12.5" text-anchor="start" fill="#000" font-weight="normal" textLength="120.5" lengthAdjust="spacingAndGlyphs" >Total C/EBPβ protein</text>
<line x1="63.30" y1="922.30" x2="63.30" y2="1039.40" stroke="#000" stroke-width="1.5" />
<line x1="58.80" y1="1038.80" x2="63.30" y2="1038.80" stroke="#000" stroke-width="1.3" />
<text x="54.5" y="1042.2" font-size="9.4" text-anchor="end" fill="#000" font-weight="normal" >0</text>
<line x1="58.80" y1="1001.36" x2="63.30" y2="1001.36" stroke="#000" stroke-width="1.3" />
<text x="54.5" y="1004.7599999999999" font-size="9.4" text-anchor="end" fill="#000" font-weight="normal" >2</text>
<line x1="58.80" y1="963.92" x2="63.30" y2="963.92" stroke="#000" stroke-width="1.3" />
<text x="54.5" y="967.3199999999999" font-size="9.4" text-anchor="end" fill="#000" font-weight="normal" >4</text>
<line x1="58.80" y1="926.48" x2="63.30" y2="926.48" stroke="#000" stroke-width="1.3" />
<text x="54.5" y="929.88" font-size="9.4" text-anchor="end" fill="#000" font-weight="normal" >6</text>
<line x1="62.60" y1="1038.80" x2="205.80" y2="1038.80" stroke="#000" stroke-width="1.5" />
<line x1="73.00" y1="1038.80" x2="73.00" y2="1043.50" stroke="#000" stroke-width="1.3" />
<line x1="92.60" y1="1038.80" x2="92.60" y2="1043.50" stroke="#000" stroke-width="1.3" />
<line x1="112.30" y1="1038.80" x2="112.30" y2="1043.50" stroke="#000" stroke-width="1.3" />
<line x1="131.90" y1="1038.80" x2="131.90" y2="1043.50" stroke="#000" stroke-width="1.3" />
<line x1="151.60" y1="1038.80" x2="151.60" y2="1043.50" stroke="#000" stroke-width="1.3" />
<line x1="171.30" y1="1038.80" x2="171.30" y2="1043.50" stroke="#000" stroke-width="1.3" />
<line x1="190.50" y1="1038.80" x2="190.50" y2="1043.50" stroke="#000" stroke-width="1.3" />
<line x1="199.60" y1="1038.80" x2="199.60" y2="1043.50" stroke="#000" stroke-width="1.3" />
<text x="73.0" y="1057.2" font-size="9.4" text-anchor="middle" fill="#000" font-weight="normal" >0</text>
<text x="92.6" y="1057.2" font-size="9.4" text-anchor="middle" fill="#000" font-weight="normal" >1</text>
<text x="112.3" y="1057.2" font-size="9.4" text-anchor="middle" fill="#000" font-weight="normal" >2</text>
<text x="131.9" y="1057.2" font-size="9.4" text-anchor="middle" fill="#000" font-weight="normal" >3</text>
<text x="151.6" y="1057.2" font-size="9.4" text-anchor="middle" fill="#000" font-weight="normal" >4</text>
<text x="171.3" y="1057.2" font-size="9.4" text-anchor="middle" fill="#000" font-weight="normal" >6</text>
<text x="190.5" y="1057.2" font-size="9.4" text-anchor="middle" fill="#000" font-weight="normal" >8</text>
<line x1="92.60" y1="1014.65" x2="92.60" y2="1011.66" stroke="#000" stroke-width="1.2" />
<line x1="89.90" y1="1011.66" x2="95.30" y2="1011.66" stroke="#000" stroke-width="1.44" />
<line x1="112.30" y1="997.43" x2="112.30" y2="992.00" stroke="#000" stroke-width="1.2" />
<line x1="109.60" y1="992.00" x2="115.00" y2="992.00" stroke="#000" stroke-width="1.44" />
<line x1="131.90" y1="995.93" x2="131.90" y2="992.75" stroke="#000" stroke-width="1.2" />
<line x1="129.20" y1="992.75" x2="134.60" y2="992.75" stroke="#000" stroke-width="1.44" />
<line x1="151.60" y1="980.21" x2="151.60" y2="970.66" stroke="#000" stroke-width="1.2" />
<line x1="148.90" y1="970.66" x2="154.30" y2="970.66" stroke="#000" stroke-width="1.44" />
<line x1="171.30" y1="989.75" x2="171.30" y2="988.82" stroke="#000" stroke-width="1.2" />
<line x1="168.60" y1="988.82" x2="174.00" y2="988.82" stroke="#000" stroke-width="1.44" />
<line x1="92.60" y1="1005.48" x2="92.60" y2="1002.30" stroke="#000" stroke-width="1.2" />
<line x1="89.90" y1="1002.30" x2="95.30" y2="1002.30" stroke="#000" stroke-width="1.44" />
<line x1="112.30" y1="974.22" x2="112.30" y2="970.66" stroke="#000" stroke-width="1.2" />
<line x1="109.60" y1="970.66" x2="115.00" y2="970.66" stroke="#000" stroke-width="1.44" />
<line x1="131.90" y1="962.80" x2="131.90" y2="954.00" stroke="#000" stroke-width="1.2" />
<line x1="129.20" y1="954.00" x2="134.60" y2="954.00" stroke="#000" stroke-width="1.44" />
<line x1="151.60" y1="937.34" x2="151.60" y2="929.10" stroke="#000" stroke-width="1.2" />
<line x1="148.90" y1="929.10" x2="154.30" y2="929.10" stroke="#000" stroke-width="1.44" />
<line x1="171.30" y1="975.53" x2="171.30" y2="970.85" stroke="#000" stroke-width="1.2" />
<line x1="168.60" y1="970.85" x2="174.00" y2="970.85" stroke="#000" stroke-width="1.44" />
<line x1="190.50" y1="1003.04" x2="190.50" y2="999.86" stroke="#000" stroke-width="1.2" />
<line x1="187.80" y1="999.86" x2="193.20" y2="999.86" stroke="#000" stroke-width="1.44" />
<polyline points="73.00,1020.83 92.60,1014.65 112.30,997.43 131.90,995.93 151.60,980.21 171.30,989.75 190.50,1006.98" fill="none" stroke="#111" stroke-width="1.4" stroke-linejoin="round"/>
<circle cx="73.00" cy="1020.83" r="2.6" fill="#111"/>
<circle cx="92.60" cy="1014.65" r="2.6" fill="#111"/>
<circle cx="112.30" cy="997.43" r="2.6" fill="#111"/>
<circle cx="131.90" cy="995.93" r="2.6" fill="#111"/>
<circle cx="151.60" cy="980.21" r="2.6" fill="#111"/>
<circle cx="171.30" cy="989.75" r="2.6" fill="#111"/>
<circle cx="190.50" cy="1006.98" r="2.6" fill="#111"/>
<polyline points="73.00,1018.40 92.60,1005.48 112.30,974.22 131.90,962.80 151.60,937.34 171.30,975.53 190.50,1003.04" fill="none" stroke="#b3143c" stroke-width="1.4" stroke-linejoin="round"/>
<circle cx="73.00" cy="1018.40" r="2.6" fill="#b3143c"/>
<circle cx="92.60" cy="1005.48" r="2.6" fill="#b3143c"/>
<circle cx="112.30" cy="974.22" r="2.6" fill="#b3143c"/>
<circle cx="131.90" cy="962.80" r="2.6" fill="#b3143c"/>
<circle cx="151.60" cy="937.34" r="2.6" fill="#b3143c"/>
<circle cx="171.30" cy="975.53" r="2.6" fill="#b3143c"/>
<circle cx="190.50" cy="1003.04" r="2.6" fill="#b3143c"/>
<text x="71.4" y="1015.4" font-size="8.5" text-anchor="middle" fill="#000" font-weight="normal" letter-spacing="0.6">***</text>
<text x="92.6" y="1001.5" font-size="8.5" text-anchor="middle" fill="#000" font-weight="normal" letter-spacing="0.6">*</text>
<text x="112.7" y="971.0" font-size="8.5" text-anchor="middle" fill="#000" font-weight="normal" letter-spacing="0.6">**</text>
<text x="132.3" y="954.2" font-size="8.5" text-anchor="middle" fill="#000" font-weight="normal" letter-spacing="0.6">**</text>
<text x="152.0" y="930.8000000000001" font-size="8.5" text-anchor="middle" fill="#000" font-weight="normal" letter-spacing="0.6">**</text>
<text x="171.70000000000002" y="969.8000000000001" font-size="8.5" text-anchor="middle" fill="#000" font-weight="normal" letter-spacing="0.6">**</text>
<line x1="112.50" y1="1016.90" x2="134.40" y2="1016.90" stroke="#111" stroke-width="1.4" />
<circle cx="123.30" cy="1016.90" r="2.6" fill="#111"/>
<line x1="112.50" y1="1030.20" x2="134.40" y2="1030.20" stroke="#b3143c" stroke-width="1.4" />
<circle cx="123.30" cy="1030.20" r="2.6" fill="#b3143c"/>
<text x="139.0" y="1019.4" font-size="8.5" text-anchor="start" fill="#000" font-weight="normal" >CD150</text>
<text x="165.7" y="1015.0" font-size="6.5" text-anchor="start" fill="#000" font-weight="normal" >low</text>
<text x="139.0" y="1033.1" font-size="8.5" text-anchor="start" fill="#000" font-weight="normal" >CD150</text>
<text x="165.7" y="1028.6" font-size="6.8" text-anchor="start" fill="#000" font-weight="normal" >high</text>
<text transform="translate(40.60,1022.00) rotate(-90)" font-size="12.8" fill="#000" font-weight="normal" textLength="84.2" lengthAdjust="spacingAndGlyphs" stroke="#000" stroke-width="0.4">C/EBPβ C-term MFI</text>
<text x="223.4" y="915" font-size="17.8" text-anchor="start" fill="#000" font-weight="bold" stroke="#000" stroke-width="0.7">I</text>
<text x="295" y="916.8" font-size="12.5" text-anchor="start" fill="#000" font-weight="normal" textLength="58.5" lengthAdjust="spacingAndGlyphs" >C / N ratio</text>
<line x1="273.40" y1="929.80" x2="273.40" y2="1039.20" stroke="#000" stroke-width="1.5" />
<line x1="268.90" y1="1038.60" x2="273.40" y2="1038.60" stroke="#000" stroke-width="1.3" />
<text x="264.59999999999997" y="1042.0" font-size="9.4" text-anchor="end" fill="#000" font-weight="normal" >0</text>
<line x1="268.90" y1="1007.55" x2="273.40" y2="1007.55" stroke="#000" stroke-width="1.3" />
<text x="264.59999999999997" y="1010.9499999999999" font-size="9.4" text-anchor="end" fill="#000" font-weight="normal" >1</text>
<line x1="268.90" y1="976.50" x2="273.40" y2="976.50" stroke="#000" stroke-width="1.3" />
<text x="264.59999999999997" y="979.8999999999999" font-size="9.4" text-anchor="end" fill="#000" font-weight="normal" >2</text>
<line x1="268.90" y1="945.45" x2="273.40" y2="945.45" stroke="#000" stroke-width="1.3" />
<text x="264.59999999999997" y="948.8499999999999" font-size="9.4" text-anchor="end" fill="#000" font-weight="normal" >3</text>
<line x1="272.70" y1="1038.60" x2="413.80" y2="1038.60" stroke="#000" stroke-width="1.5" />
<line x1="283.00" y1="1038.60" x2="283.00" y2="1043.30" stroke="#000" stroke-width="1.3" />
<line x1="302.40" y1="1038.60" x2="302.40" y2="1043.30" stroke="#000" stroke-width="1.3" />
<line x1="321.70" y1="1038.60" x2="321.70" y2="1043.30" stroke="#000" stroke-width="1.3" />
<line x1="341.20" y1="1038.60" x2="341.20" y2="1043.30" stroke="#000" stroke-width="1.3" />
<line x1="360.80" y1="1038.60" x2="360.80" y2="1043.30" stroke="#000" stroke-width="1.3" />
<line x1="380.00" y1="1038.60" x2="380.00" y2="1043.30" stroke="#000" stroke-width="1.3" />
<line x1="399.50" y1="1038.60" x2="399.50" y2="1043.30" stroke="#000" stroke-width="1.3" />
<line x1="409.20" y1="1038.60" x2="409.20" y2="1043.30" stroke="#000" stroke-width="1.3" />
<text x="283.0" y="1056.5" font-size="9.4" text-anchor="middle" fill="#000" font-weight="normal" >0</text>
<text x="302.4" y="1056.5" font-size="9.4" text-anchor="middle" fill="#000" font-weight="normal" >1</text>
<text x="321.7" y="1056.5" font-size="9.4" text-anchor="middle" fill="#000" font-weight="normal" >2</text>
<text x="341.2" y="1056.5" font-size="9.4" text-anchor="middle" fill="#000" font-weight="normal" >3</text>
<text x="360.8" y="1056.5" font-size="9.4" text-anchor="middle" fill="#000" font-weight="normal" >4</text>
<text x="380.0" y="1056.5" font-size="9.4" text-anchor="middle" fill="#000" font-weight="normal" >6</text>
<text x="399.5" y="1056.5" font-size="9.4" text-anchor="middle" fill="#000" font-weight="normal" >8</text>
<line x1="276.60" y1="1007.55" x2="406.90" y2="1007.55" stroke="#888" stroke-width="0.9" stroke-dasharray="1.4,2.2"/>
<line x1="341.20" y1="998.55" x2="341.20" y2="995.75" stroke="#000" stroke-width="1.2" />
<line x1="338.50" y1="995.75" x2="343.90" y2="995.75" stroke="#000" stroke-width="1.44" />
<line x1="360.80" y1="978.36" x2="360.80" y2="974.95" stroke="#000" stroke-width="1.2" />
<line x1="358.10" y1="974.95" x2="363.50" y2="974.95" stroke="#000" stroke-width="1.44" />
<line x1="321.70" y1="994.82" x2="321.70" y2="991.40" stroke="#000" stroke-width="1.2" />
<line x1="319.00" y1="991.40" x2="324.40" y2="991.40" stroke="#000" stroke-width="1.44" />
<line x1="341.20" y1="967.18" x2="341.20" y2="959.11" stroke="#000" stroke-width="1.2" />
<line x1="338.50" y1="959.11" x2="343.90" y2="959.11" stroke="#000" stroke-width="1.44" />
<line x1="360.80" y1="938.00" x2="360.80" y2="931.17" stroke="#000" stroke-width="1.2" />
<line x1="358.10" y1="931.17" x2="363.50" y2="931.17" stroke="#000" stroke-width="1.44" />
<line x1="380.00" y1="1013.45" x2="380.00" y2="1010.65" stroke="#000" stroke-width="1.2" />
<line x1="377.30" y1="1010.65" x2="382.70" y2="1010.65" stroke="#000" stroke-width="1.44" />
<polyline points="283.00,1008.48 302.40,1005.69 321.70,998.55 341.20,998.55 360.80,978.36 380.00,1015.00 399.50,1014.69" fill="none" stroke="#111" stroke-width="1.4" stroke-linejoin="round"/>
<circle cx="283.00" cy="1008.48" r="2.6" fill="#111"/>
<circle cx="302.40" cy="1005.69" r="2.6" fill="#111"/>
<circle cx="321.70" cy="998.55" r="2.6" fill="#111"/>
<circle cx="341.20" cy="998.55" r="2.6" fill="#111"/>
<circle cx="360.80" cy="978.36" r="2.6" fill="#111"/>
<circle cx="380.00" cy="1015.00" r="2.6" fill="#111"/>
<circle cx="399.50" cy="1014.69" r="2.6" fill="#111"/>
<polyline points="283.00,1006.00 302.40,999.48 321.70,994.82 341.20,967.18 360.80,938.00 380.00,1013.45 399.50,1014.69" fill="none" stroke="#b3143c" stroke-width="1.4" stroke-linejoin="round"/>
<circle cx="283.00" cy="1006.00" r="2.6" fill="#b3143c"/>
<circle cx="302.40" cy="999.48" r="2.6" fill="#b3143c"/>
<circle cx="321.70" cy="994.82" r="2.6" fill="#b3143c"/>
<circle cx="341.20" cy="967.18" r="2.6" fill="#b3143c"/>
<circle cx="360.80" cy="938.00" r="2.6" fill="#b3143c"/>
<circle cx="380.00" cy="1013.45" r="2.6" fill="#b3143c"/>
<circle cx="399.50" cy="1014.69" r="2.6" fill="#b3143c"/>
<text x="279.9" y="1004.1" font-size="8.5" text-anchor="middle" fill="#000" font-weight="normal" letter-spacing="0.6">***</text>
<text x="341.59999999999997" y="960.9" font-size="8.5" text-anchor="middle" fill="#000" font-weight="normal" letter-spacing="0.6">**</text>
<text x="361.2" y="932.1" font-size="8.5" text-anchor="middle" fill="#000" font-weight="normal" letter-spacing="0.6">**</text>
<line x1="284.00" y1="1017.40" x2="305.60" y2="1017.40" stroke="#111" stroke-width="1.4" />
<circle cx="294.20" cy="1017.40" r="2.6" fill="#111"/>
<line x1="284.00" y1="1030.80" x2="305.60" y2="1030.80" stroke="#b3143c" stroke-width="1.4" />
<circle cx="294.20" cy="1030.80" r="2.6" fill="#b3143c"/>
<text x="310.7" y="1019.8" font-size="8.5" text-anchor="start" fill="#000" font-weight="normal" >CD150</text>
<text x="337.4" y="1015.4" font-size="6.5" text-anchor="start" fill="#000" font-weight="normal" >low</text>
<text x="310.7" y="1033.5" font-size="8.5" text-anchor="start" fill="#000" font-weight="normal" >CD150</text>
<text x="337.4" y="1029.0" font-size="6.8" text-anchor="start" fill="#000" font-weight="normal" >high</text>
<g transform="translate(249.80,1023.60) rotate(-90)" fill="#000">
<text x="0" y="0" font-size="12.6" font-weight="bold" textLength="15.2" lengthAdjust="spacingAndGlyphs">MFI</text>
<text x="15.4" y="-4.8" font-size="8.2" font-weight="bold" textLength="20" lengthAdjust="spacingAndGlyphs">C-term</text>
<text x="36.2" y="0" font-size="12.6" font-weight="bold" textLength="4" lengthAdjust="spacingAndGlyphs">/</text>
<text x="43.4" y="0" font-size="12.6" font-weight="bold" textLength="15.2" lengthAdjust="spacingAndGlyphs">MFI</text>
<text x="58.8" y="-4.8" font-size="8.2" font-weight="bold" textLength="21.2" lengthAdjust="spacingAndGlyphs">N-term</text>
</g>
<line x1="59.50" y1="1063.60" x2="409.00" y2="1063.60" stroke="#000" stroke-width="1.6" />
<text x="183.7" y="1078.4" font-size="11.6" text-anchor="start" fill="#000" font-weight="normal" textLength="123.2" lengthAdjust="spacingAndGlyphs"  stroke="#000" stroke-width="0.4">Days after 5-FU administration</text>
<rect x="1.00" y="1.00" width="518.00" height="1088.00" fill="none" stroke="#000" stroke-width="2" />
</svg>
</body></html>
